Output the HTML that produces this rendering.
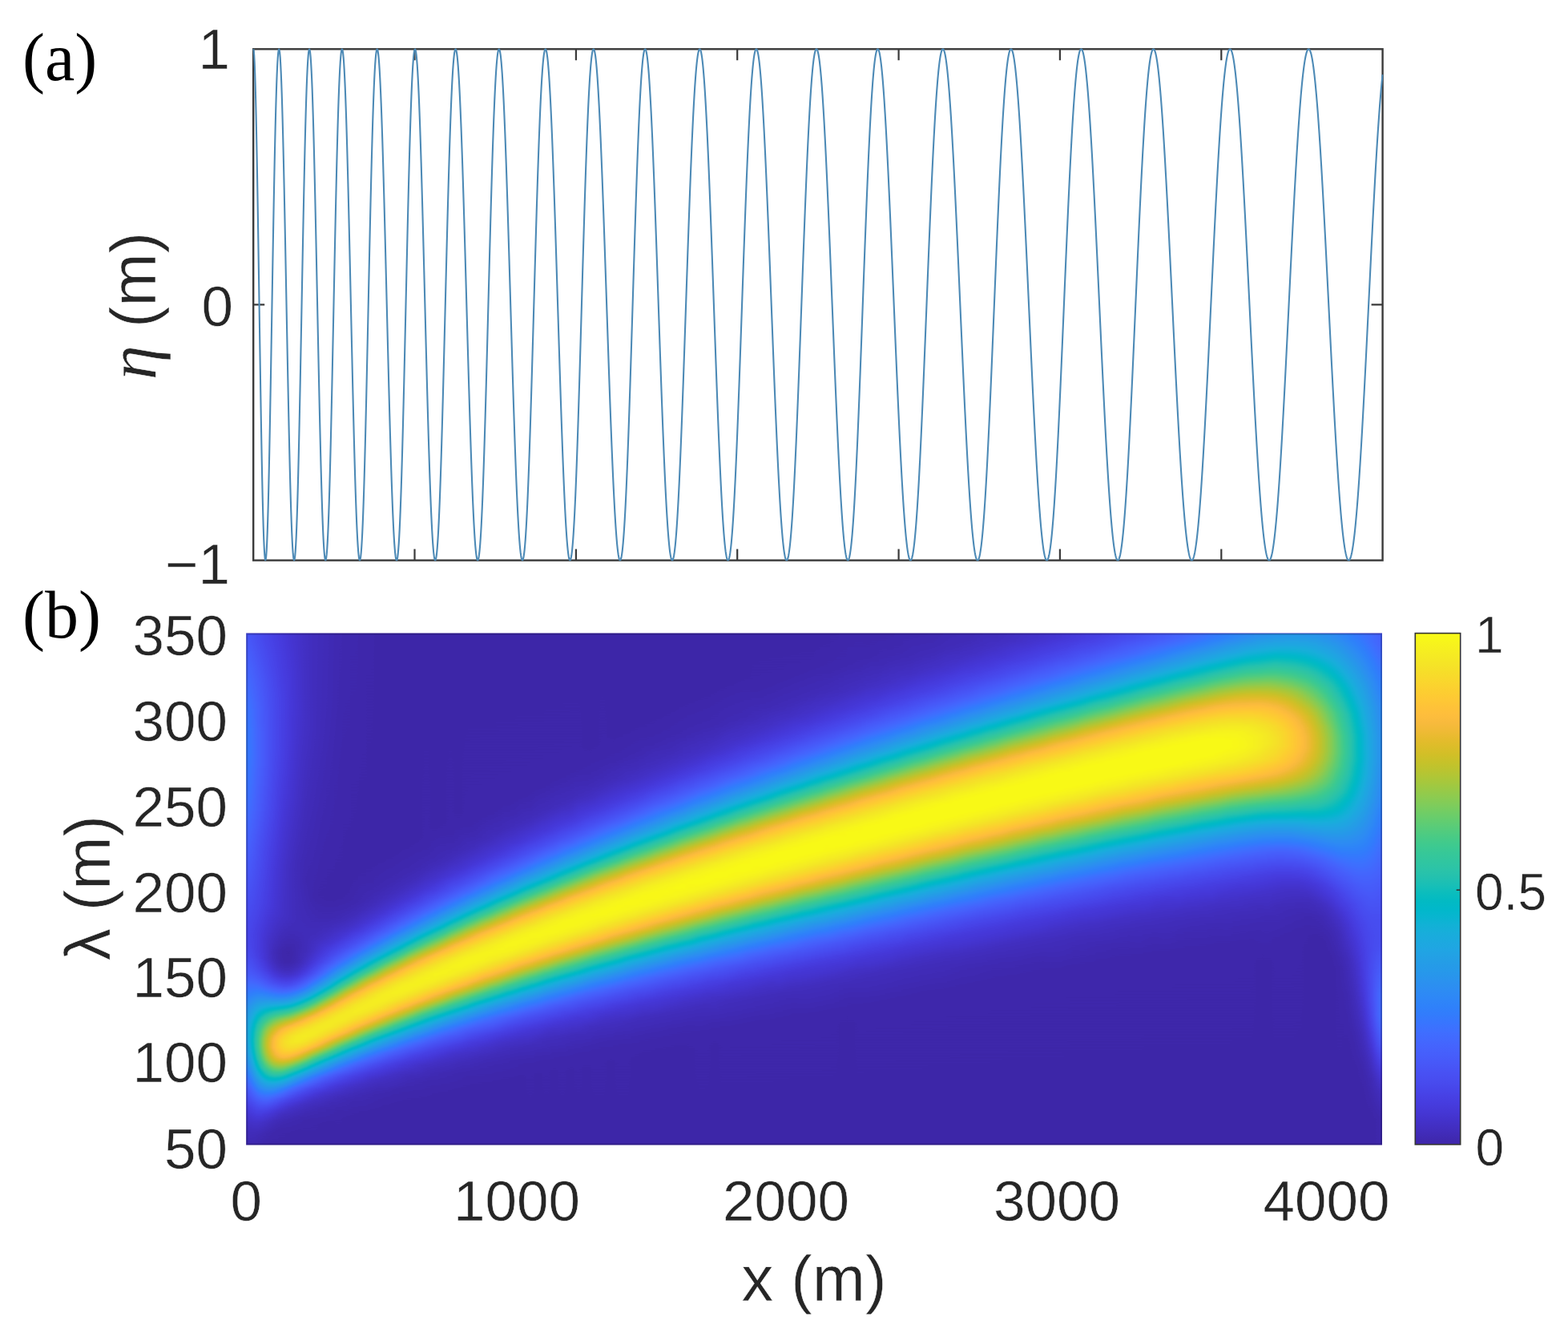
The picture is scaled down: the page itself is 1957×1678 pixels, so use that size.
<!DOCTYPE html>
<html lang="en"><head><meta charset="utf-8"><title>Chirp signal and wavelength scalogram</title>
<style>
html,body{margin:0;padding:0;background:#fff}
body{width:1957px;height:1678px;overflow:hidden}
svg{display:block}
text{fill:#262626;stroke:#fff;stroke-width:0.5px;stroke-linejoin:round}
</style></head><body>
<svg width="1957" height="1678" viewBox="0 0 1957 1678">
<defs>
<linearGradient id="c48" x1="0" y1="0" x2="0" y2="1"><stop offset="0" stop-color="#292929"/><stop offset=".141" stop-color="#3f3f3f"/><stop offset=".204" stop-color="#444444"/><stop offset=".254" stop-color="#444444"/><stop offset=".342" stop-color="#3d3d3d"/><stop offset=".53" stop-color="#232323"/><stop offset=".567" stop-color="#1f1f1f"/><stop offset=".605" stop-color="#1e1e1e"/><stop offset=".636" stop-color="#222222"/><stop offset=".665" stop-color="#2b2b2b"/><stop offset=".737" stop-color="#4f4f4f"/><stop offset=".762" stop-color="#575757"/><stop offset=".79" stop-color="#585858"/><stop offset=".815" stop-color="#515151"/><stop offset=".834" stop-color="#484848"/><stop offset=".897" stop-color="#202020"/><stop offset=".928" stop-color="#111111"/><stop offset=".953" stop-color="#090909"/><stop offset=".972" stop-color="#050505"/><stop offset="1" stop-color="#020202"/></linearGradient>
<linearGradient id="c49" x1="0" y1="0" x2="0" y2="1"><stop offset="0" stop-color="#292929"/><stop offset=".141" stop-color="#3f3f3f"/><stop offset=".204" stop-color="#444444"/><stop offset=".254" stop-color="#444444"/><stop offset=".342" stop-color="#3d3d3d"/><stop offset=".53" stop-color="#232323"/><stop offset=".567" stop-color="#1f1f1f"/><stop offset=".605" stop-color="#1e1e1e"/><stop offset=".636" stop-color="#222222"/><stop offset=".665" stop-color="#2b2b2b"/><stop offset=".737" stop-color="#4f4f4f"/><stop offset=".762" stop-color="#575757"/><stop offset=".79" stop-color="#585858"/><stop offset=".815" stop-color="#515151"/><stop offset=".834" stop-color="#484848"/><stop offset=".897" stop-color="#202020"/><stop offset=".928" stop-color="#111111"/><stop offset=".953" stop-color="#090909"/><stop offset=".972" stop-color="#050505"/><stop offset="1" stop-color="#020202"/></linearGradient>
<linearGradient id="c50" x1="0" y1="0" x2="0" y2="1"><stop offset="0" stop-color="#262626"/><stop offset=".078" stop-color="#323232"/><stop offset=".144" stop-color="#3a3a3a"/><stop offset=".185" stop-color="#3d3d3d"/><stop offset=".235" stop-color="#3e3e3e"/><stop offset=".313" stop-color="#3a3a3a"/><stop offset=".561" stop-color="#1d1d1d"/><stop offset=".592" stop-color="#1b1b1b"/><stop offset=".614" stop-color="#1c1c1c"/><stop offset=".633" stop-color="#1f1f1f"/><stop offset=".665" stop-color="#2a2a2a"/><stop offset=".699" stop-color="#3f3f3f"/><stop offset=".73" stop-color="#565656"/><stop offset=".759" stop-color="#666666"/><stop offset=".774" stop-color="#6b6b6b"/><stop offset=".796" stop-color="#6c6c6c"/><stop offset=".812" stop-color="#686868"/><stop offset=".824" stop-color="#626262"/><stop offset=".843" stop-color="#565656"/><stop offset=".893" stop-color="#2d2d2d"/><stop offset=".925" stop-color="#181818"/><stop offset=".944" stop-color="#0f0f0f"/><stop offset=".966" stop-color="#080808"/><stop offset="1" stop-color="#030303"/></linearGradient>
<linearGradient id="c51" x1="0" y1="0" x2="0" y2="1"><stop offset="0" stop-color="#212121"/><stop offset=".009" stop-color="#212121"/><stop offset=".088" stop-color="#2b2b2b"/><stop offset=".147" stop-color="#303030"/><stop offset=".241" stop-color="#323232"/><stop offset=".345" stop-color="#2c2c2c"/><stop offset=".42" stop-color="#242424"/><stop offset=".536" stop-color="#1b1b1b"/><stop offset=".586" stop-color="#151515"/><stop offset=".621" stop-color="#151515"/><stop offset=".633" stop-color="#171717"/><stop offset=".652" stop-color="#1d1d1d"/><stop offset=".674" stop-color="#2a2a2a"/><stop offset=".702" stop-color="#444444"/><stop offset=".746" stop-color="#767676"/><stop offset=".765" stop-color="#888888"/><stop offset=".781" stop-color="#929292"/><stop offset=".793" stop-color="#969696"/><stop offset=".806" stop-color="#969696"/><stop offset=".818" stop-color="#929292"/><stop offset=".831" stop-color="#8a8a8a"/><stop offset=".85" stop-color="#787878"/><stop offset=".9" stop-color="#3a3a3a"/><stop offset=".915" stop-color="#292929"/><stop offset=".934" stop-color="#191919"/><stop offset=".956" stop-color="#0c0c0c"/><stop offset=".981" stop-color="#040404"/><stop offset="1" stop-color="#020202"/></linearGradient>
<linearGradient id="c52" x1="0" y1="0" x2="0" y2="1"><stop offset="0" stop-color="#1c1c1c"/><stop offset=".013" stop-color="#1c1c1c"/><stop offset=".097" stop-color="#242424"/><stop offset=".154" stop-color="#272727"/><stop offset=".26" stop-color="#272727"/><stop offset=".335" stop-color="#232323"/><stop offset=".429" stop-color="#1b1b1b"/><stop offset=".527" stop-color="#161616"/><stop offset=".602" stop-color="#0d0d0d"/><stop offset=".636" stop-color="#0e0e0e"/><stop offset=".658" stop-color="#161616"/><stop offset=".674" stop-color="#212121"/><stop offset=".687" stop-color="#2d2d2d"/><stop offset=".712" stop-color="#4e4e4e"/><stop offset=".752" stop-color="#909090"/><stop offset=".771" stop-color="#a9a9a9"/><stop offset=".777" stop-color="#b0b0b0"/><stop offset=".79" stop-color="#b9b9b9"/><stop offset=".796" stop-color="#bcbcbc"/><stop offset=".806" stop-color="#bdbdbd"/><stop offset=".818" stop-color="#b9b9b9"/><stop offset=".824" stop-color="#b5b5b5"/><stop offset=".834" stop-color="#acacac"/><stop offset=".846" stop-color="#9c9c9c"/><stop offset=".862" stop-color="#838383"/><stop offset=".884" stop-color="#5c5c5c"/><stop offset=".903" stop-color="#3d3d3d"/><stop offset=".928" stop-color="#1d1d1d"/><stop offset=".94" stop-color="#121212"/><stop offset=".956" stop-color="#090909"/><stop offset=".975" stop-color="#030303"/><stop offset="1" stop-color="#000000"/></linearGradient>
<linearGradient id="c53" x1="0" y1="0" x2="0" y2="1"><stop offset="0" stop-color="#171717"/><stop offset=".119" stop-color="#1e1e1e"/><stop offset=".223" stop-color="#1f1f1f"/><stop offset=".345" stop-color="#1a1a1a"/><stop offset=".464" stop-color="#121212"/><stop offset=".536" stop-color="#101010"/><stop offset=".624" stop-color="#050505"/><stop offset=".643" stop-color="#070707"/><stop offset=".655" stop-color="#0b0b0b"/><stop offset=".665" stop-color="#111111"/><stop offset=".671" stop-color="#151515"/><stop offset=".683" stop-color="#212121"/><stop offset=".699" stop-color="#363636"/><stop offset=".715" stop-color="#515151"/><stop offset=".755" stop-color="#a4a4a4"/><stop offset=".771" stop-color="#bfbfbf"/><stop offset=".787" stop-color="#d2d2d2"/><stop offset=".796" stop-color="#d8d8d8"/><stop offset=".809" stop-color="#d9d9d9"/><stop offset=".824" stop-color="#cfcfcf"/><stop offset=".834" stop-color="#c3c3c3"/><stop offset=".843" stop-color="#b4b4b4"/><stop offset=".862" stop-color="#8e8e8e"/><stop offset=".884" stop-color="#5d5d5d"/><stop offset=".9" stop-color="#3e3e3e"/><stop offset=".912" stop-color="#2a2a2a"/><stop offset=".925" stop-color="#1a1a1a"/><stop offset=".934" stop-color="#111111"/><stop offset=".953" stop-color="#060606"/><stop offset=".975" stop-color="#010101"/><stop offset="1" stop-color="#000000"/></linearGradient>
<linearGradient id="c54" x1="0" y1="0" x2="0" y2="1"><stop offset="0" stop-color="#131313"/><stop offset=".138" stop-color="#181818"/><stop offset=".248" stop-color="#171717"/><stop offset=".448" stop-color="#0d0d0d"/><stop offset=".552" stop-color="#0b0b0b"/><stop offset=".621" stop-color="#010101"/><stop offset=".639" stop-color="#010101"/><stop offset=".649" stop-color="#030303"/><stop offset=".658" stop-color="#070707"/><stop offset=".671" stop-color="#0f0f0f"/><stop offset=".68" stop-color="#181818"/><stop offset=".69" stop-color="#242424"/><stop offset=".702" stop-color="#383838"/><stop offset=".712" stop-color="#4a4a4a"/><stop offset=".73" stop-color="#747474"/><stop offset=".752" stop-color="#a9a9a9"/><stop offset=".771" stop-color="#cfcfcf"/><stop offset=".777" stop-color="#d9d9d9"/><stop offset=".787" stop-color="#e4e4e4"/><stop offset=".796" stop-color="#eaeaea"/><stop offset=".806" stop-color="#eaeaea"/><stop offset=".818" stop-color="#e2e2e2"/><stop offset=".828" stop-color="#d6d6d6"/><stop offset=".834" stop-color="#cbcbcb"/><stop offset=".85" stop-color="#a9a9a9"/><stop offset=".875" stop-color="#6a6a6a"/><stop offset=".89" stop-color="#464646"/><stop offset=".9" stop-color="#343434"/><stop offset=".909" stop-color="#252525"/><stop offset=".918" stop-color="#191919"/><stop offset=".928" stop-color="#101010"/><stop offset=".94" stop-color="#080808"/><stop offset=".956" stop-color="#030303"/><stop offset=".969" stop-color="#010101"/><stop offset="1" stop-color="#000000"/></linearGradient>
<linearGradient id="c55" x1="0" y1="0" x2="0" y2="1"><stop offset="0" stop-color="#0f0f0f"/><stop offset=".088" stop-color="#121212"/><stop offset=".204" stop-color="#121212"/><stop offset=".31" stop-color="#0f0f0f"/><stop offset=".461" stop-color="#080808"/><stop offset=".558" stop-color="#080808"/><stop offset=".624" stop-color="#000000"/><stop offset=".643" stop-color="#010101"/><stop offset=".658" stop-color="#060606"/><stop offset=".668" stop-color="#0c0c0c"/><stop offset=".68" stop-color="#181818"/><stop offset=".687" stop-color="#202020"/><stop offset=".696" stop-color="#2f2f2f"/><stop offset=".708" stop-color="#474747"/><stop offset=".721" stop-color="#646464"/><stop offset=".759" stop-color="#c3c3c3"/><stop offset=".771" stop-color="#dcdcdc"/><stop offset=".781" stop-color="#e9e9e9"/><stop offset=".787" stop-color="#efefef"/><stop offset=".799" stop-color="#f3f3f3"/><stop offset=".809" stop-color="#eeeeee"/><stop offset=".815" stop-color="#e8e8e8"/><stop offset=".821" stop-color="#dfdfdf"/><stop offset=".831" stop-color="#cdcdcd"/><stop offset=".837" stop-color="#bfbfbf"/><stop offset=".846" stop-color="#a7a7a7"/><stop offset=".862" stop-color="#7c7c7c"/><stop offset=".878" stop-color="#545454"/><stop offset=".887" stop-color="#3f3f3f"/><stop offset=".893" stop-color="#333333"/><stop offset=".903" stop-color="#242424"/><stop offset=".912" stop-color="#181818"/><stop offset=".928" stop-color="#0b0b0b"/><stop offset=".95" stop-color="#030303"/><stop offset=".978" stop-color="#000000"/><stop offset="1" stop-color="#000000"/></linearGradient>
<linearGradient id="c56" x1="0" y1="0" x2="0" y2="1"><stop offset="0" stop-color="#0c0c0c"/><stop offset=".144" stop-color="#0e0e0e"/><stop offset=".329" stop-color="#0a0a0a"/><stop offset=".451" stop-color="#050505"/><stop offset=".577" stop-color="#060606"/><stop offset=".608" stop-color="#030303"/><stop offset=".643" stop-color="#040404"/><stop offset=".655" stop-color="#090909"/><stop offset=".668" stop-color="#111111"/><stop offset=".674" stop-color="#171717"/><stop offset=".683" stop-color="#232323"/><stop offset=".693" stop-color="#323232"/><stop offset=".708" stop-color="#515151"/><stop offset=".727" stop-color="#808080"/><stop offset=".749" stop-color="#bababa"/><stop offset=".762" stop-color="#d6d6d6"/><stop offset=".771" stop-color="#e6e6e6"/><stop offset=".777" stop-color="#eeeeee"/><stop offset=".787" stop-color="#f5f5f5"/><stop offset=".793" stop-color="#f6f6f6"/><stop offset=".799" stop-color="#f4f4f4"/><stop offset=".809" stop-color="#ebebeb"/><stop offset=".821" stop-color="#d6d6d6"/><stop offset=".828" stop-color="#c8c8c8"/><stop offset=".84" stop-color="#a8a8a8"/><stop offset=".856" stop-color="#7c7c7c"/><stop offset=".871" stop-color="#535353"/><stop offset=".881" stop-color="#3e3e3e"/><stop offset=".887" stop-color="#323232"/><stop offset=".897" stop-color="#232323"/><stop offset=".903" stop-color="#1b1b1b"/><stop offset=".922" stop-color="#0b0b0b"/><stop offset=".944" stop-color="#030303"/><stop offset=".975" stop-color="#000000"/><stop offset="1" stop-color="#000000"/></linearGradient>
<linearGradient id="c57" x1="0" y1="0" x2="0" y2="1"><stop offset="0" stop-color="#090909"/><stop offset=".179" stop-color="#0a0a0a"/><stop offset=".483" stop-color="#020202"/><stop offset=".583" stop-color="#060606"/><stop offset=".621" stop-color="#060606"/><stop offset=".633" stop-color="#080808"/><stop offset=".646" stop-color="#0c0c0c"/><stop offset=".658" stop-color="#131313"/><stop offset=".665" stop-color="#181818"/><stop offset=".68" stop-color="#2b2b2b"/><stop offset=".69" stop-color="#3a3a3a"/><stop offset=".699" stop-color="#4c4c4c"/><stop offset=".708" stop-color="#616161"/><stop offset=".743" stop-color="#bababa"/><stop offset=".752" stop-color="#d0d0d0"/><stop offset=".762" stop-color="#e2e2e2"/><stop offset=".774" stop-color="#f2f2f2"/><stop offset=".787" stop-color="#f6f6f6"/><stop offset=".796" stop-color="#f2f2f2"/><stop offset=".803" stop-color="#ebebeb"/><stop offset=".815" stop-color="#d5d5d5"/><stop offset=".821" stop-color="#c7c7c7"/><stop offset=".831" stop-color="#afafaf"/><stop offset=".853" stop-color="#727272"/><stop offset=".865" stop-color="#525252"/><stop offset=".871" stop-color="#444444"/><stop offset=".881" stop-color="#323232"/><stop offset=".89" stop-color="#232323"/><stop offset=".897" stop-color="#1b1b1b"/><stop offset=".906" stop-color="#121212"/><stop offset=".918" stop-color="#0a0a0a"/><stop offset=".934" stop-color="#040404"/><stop offset=".953" stop-color="#010101"/><stop offset="1" stop-color="#000000"/></linearGradient>
<linearGradient id="c58" x1="0" y1="0" x2="0" y2="1"><stop offset="0" stop-color="#070707"/><stop offset=".194" stop-color="#070707"/><stop offset=".517" stop-color="#010101"/><stop offset=".586" stop-color="#060606"/><stop offset=".621" stop-color="#0b0b0b"/><stop offset=".636" stop-color="#101010"/><stop offset=".649" stop-color="#171717"/><stop offset=".665" stop-color="#252525"/><stop offset=".674" stop-color="#313131"/><stop offset=".683" stop-color="#404040"/><stop offset=".699" stop-color="#5f5f5f"/><stop offset=".708" stop-color="#757575"/><stop offset=".74" stop-color="#c4c4c4"/><stop offset=".752" stop-color="#dedede"/><stop offset=".762" stop-color="#ececec"/><stop offset=".768" stop-color="#f2f2f2"/><stop offset=".781" stop-color="#f6f6f6"/><stop offset=".787" stop-color="#f3f3f3"/><stop offset=".793" stop-color="#ededed"/><stop offset=".799" stop-color="#e5e5e5"/><stop offset=".806" stop-color="#dadada"/><stop offset=".815" stop-color="#c5c5c5"/><stop offset=".824" stop-color="#adadad"/><stop offset=".84" stop-color="#818181"/><stop offset=".856" stop-color="#585858"/><stop offset=".865" stop-color="#434343"/><stop offset=".875" stop-color="#313131"/><stop offset=".89" stop-color="#1b1b1b"/><stop offset=".9" stop-color="#121212"/><stop offset=".912" stop-color="#0a0a0a"/><stop offset=".925" stop-color="#050505"/><stop offset=".95" stop-color="#010101"/><stop offset="1" stop-color="#000000"/></linearGradient>
<linearGradient id="c59" x1="0" y1="0" x2="0" y2="1"><stop offset="0" stop-color="#060606"/><stop offset=".191" stop-color="#050505"/><stop offset=".511" stop-color="#000000"/><stop offset=".555" stop-color="#030303"/><stop offset=".596" stop-color="#090909"/><stop offset=".63" stop-color="#151515"/><stop offset=".643" stop-color="#1d1d1d"/><stop offset=".658" stop-color="#2c2c2c"/><stop offset=".665" stop-color="#343434"/><stop offset=".674" stop-color="#424242"/><stop offset=".687" stop-color="#595959"/><stop offset=".702" stop-color="#7c7c7c"/><stop offset=".73" stop-color="#c1c1c1"/><stop offset=".743" stop-color="#dbdbdb"/><stop offset=".755" stop-color="#ededed"/><stop offset=".762" stop-color="#f3f3f3"/><stop offset=".771" stop-color="#f6f6f6"/><stop offset=".777" stop-color="#f4f4f4"/><stop offset=".787" stop-color="#ececec"/><stop offset=".793" stop-color="#e3e3e3"/><stop offset=".803" stop-color="#d1d1d1"/><stop offset=".809" stop-color="#c3c3c3"/><stop offset=".818" stop-color="#ababab"/><stop offset=".837" stop-color="#777777"/><stop offset=".853" stop-color="#505050"/><stop offset=".868" stop-color="#313131"/><stop offset=".881" stop-color="#1f1f1f"/><stop offset=".897" stop-color="#101010"/><stop offset=".903" stop-color="#0c0c0c"/><stop offset=".928" stop-color="#030303"/><stop offset=".962" stop-color="#000000"/><stop offset="1" stop-color="#000000"/></linearGradient>
<linearGradient id="c60" x1="0" y1="0" x2="0" y2="1"><stop offset="0" stop-color="#040404"/><stop offset=".138" stop-color="#040404"/><stop offset=".52" stop-color="#000000"/><stop offset=".555" stop-color="#030303"/><stop offset=".586" stop-color="#090909"/><stop offset=".605" stop-color="#0f0f0f"/><stop offset=".63" stop-color="#1d1d1d"/><stop offset=".643" stop-color="#282828"/><stop offset=".658" stop-color="#3b3b3b"/><stop offset=".671" stop-color="#4f4f4f"/><stop offset=".687" stop-color="#6e6e6e"/><stop offset=".718" stop-color="#b8b8b8"/><stop offset=".734" stop-color="#d9d9d9"/><stop offset=".743" stop-color="#e8e8e8"/><stop offset=".749" stop-color="#efefef"/><stop offset=".759" stop-color="#f5f5f5"/><stop offset=".768" stop-color="#f5f5f5"/><stop offset=".777" stop-color="#eeeeee"/><stop offset=".784" stop-color="#e6e6e6"/><stop offset=".796" stop-color="#cfcfcf"/><stop offset=".809" stop-color="#b1b1b1"/><stop offset=".828" stop-color="#7e7e7e"/><stop offset=".84" stop-color="#5e5e5e"/><stop offset=".85" stop-color="#494949"/><stop offset=".859" stop-color="#373737"/><stop offset=".868" stop-color="#282828"/><stop offset=".878" stop-color="#1c1c1c"/><stop offset=".887" stop-color="#131313"/><stop offset=".9" stop-color="#0b0b0b"/><stop offset=".918" stop-color="#040404"/><stop offset=".956" stop-color="#000000"/><stop offset="1" stop-color="#000000"/></linearGradient>
<linearGradient id="c61" x1="0" y1="0" x2="0" y2="1"><stop offset="0" stop-color="#030303"/><stop offset=".517" stop-color="#000000"/><stop offset=".558" stop-color="#040404"/><stop offset=".596" stop-color="#0f0f0f"/><stop offset=".624" stop-color="#212121"/><stop offset=".636" stop-color="#2d2d2d"/><stop offset=".649" stop-color="#3d3d3d"/><stop offset=".661" stop-color="#515151"/><stop offset=".671" stop-color="#626262"/><stop offset=".718" stop-color="#cbcbcb"/><stop offset=".724" stop-color="#d7d7d7"/><stop offset=".734" stop-color="#e6e6e6"/><stop offset=".74" stop-color="#eeeeee"/><stop offset=".746" stop-color="#f3f3f3"/><stop offset=".755" stop-color="#f6f6f6"/><stop offset=".768" stop-color="#f0f0f0"/><stop offset=".774" stop-color="#e9e9e9"/><stop offset=".781" stop-color="#dfdfdf"/><stop offset=".79" stop-color="#cdcdcd"/><stop offset=".799" stop-color="#b7b7b7"/><stop offset=".831" stop-color="#656565"/><stop offset=".843" stop-color="#494949"/><stop offset=".853" stop-color="#373737"/><stop offset=".862" stop-color="#282828"/><stop offset=".868" stop-color="#202020"/><stop offset=".884" stop-color="#111111"/><stop offset=".906" stop-color="#060606"/><stop offset=".934" stop-color="#010101"/><stop offset="1" stop-color="#000000"/></linearGradient>
<linearGradient id="c62" x1="0" y1="0" x2="0" y2="1"><stop offset="0" stop-color="#020202"/><stop offset=".505" stop-color="#000000"/><stop offset=".536" stop-color="#020202"/><stop offset=".564" stop-color="#070707"/><stop offset=".58" stop-color="#0c0c0c"/><stop offset=".592" stop-color="#121212"/><stop offset=".614" stop-color="#212121"/><stop offset=".633" stop-color="#353535"/><stop offset=".643" stop-color="#424242"/><stop offset=".655" stop-color="#575757"/><stop offset=".668" stop-color="#6f6f6f"/><stop offset=".705" stop-color="#c3c3c3"/><stop offset=".718" stop-color="#dbdbdb"/><stop offset=".724" stop-color="#e5e5e5"/><stop offset=".734" stop-color="#f0f0f0"/><stop offset=".74" stop-color="#f4f4f4"/><stop offset=".749" stop-color="#f6f6f6"/><stop offset=".755" stop-color="#f4f4f4"/><stop offset=".762" stop-color="#efefef"/><stop offset=".774" stop-color="#dedede"/><stop offset=".781" stop-color="#d2d2d2"/><stop offset=".79" stop-color="#bdbdbd"/><stop offset=".818" stop-color="#747474"/><stop offset=".837" stop-color="#494949"/><stop offset=".85" stop-color="#323232"/><stop offset=".865" stop-color="#1d1d1d"/><stop offset=".878" stop-color="#121212"/><stop offset=".887" stop-color="#0c0c0c"/><stop offset=".909" stop-color="#040404"/><stop offset=".95" stop-color="#000000"/><stop offset="1" stop-color="#000000"/></linearGradient>
<linearGradient id="c63" x1="0" y1="0" x2="0" y2="1"><stop offset="0" stop-color="#020202"/><stop offset=".476" stop-color="#000000"/><stop offset=".527" stop-color="#020202"/><stop offset=".552" stop-color="#060606"/><stop offset=".574" stop-color="#0d0d0d"/><stop offset=".605" stop-color="#212121"/><stop offset=".618" stop-color="#2e2e2e"/><stop offset=".633" stop-color="#424242"/><stop offset=".646" stop-color="#575757"/><stop offset=".661" stop-color="#757575"/><stop offset=".69" stop-color="#b4b4b4"/><stop offset=".705" stop-color="#d4d4d4"/><stop offset=".718" stop-color="#e8e8e8"/><stop offset=".727" stop-color="#f2f2f2"/><stop offset=".737" stop-color="#f6f6f6"/><stop offset=".743" stop-color="#f6f6f6"/><stop offset=".755" stop-color="#eeeeee"/><stop offset=".768" stop-color="#dcdcdc"/><stop offset=".781" stop-color="#c3c3c3"/><stop offset=".815" stop-color="#6c6c6c"/><stop offset=".828" stop-color="#505050"/><stop offset=".84" stop-color="#383838"/><stop offset=".846" stop-color="#2e2e2e"/><stop offset=".859" stop-color="#1e1e1e"/><stop offset=".868" stop-color="#151515"/><stop offset=".884" stop-color="#0b0b0b"/><stop offset=".9" stop-color="#050505"/><stop offset=".915" stop-color="#020202"/><stop offset=".944" stop-color="#000000"/><stop offset="1" stop-color="#000000"/></linearGradient>
<linearGradient id="c64" x1="0" y1="0" x2="0" y2="1"><stop offset="0" stop-color="#010101"/><stop offset=".455" stop-color="#000000"/><stop offset=".524" stop-color="#030303"/><stop offset=".542" stop-color="#060606"/><stop offset=".564" stop-color="#0d0d0d"/><stop offset=".58" stop-color="#151515"/><stop offset=".592" stop-color="#1e1e1e"/><stop offset=".605" stop-color="#2a2a2a"/><stop offset=".618" stop-color="#393939"/><stop offset=".636" stop-color="#565656"/><stop offset=".652" stop-color="#747474"/><stop offset=".683" stop-color="#b9b9b9"/><stop offset=".702" stop-color="#dddddd"/><stop offset=".718" stop-color="#f1f1f1"/><stop offset=".724" stop-color="#f5f5f5"/><stop offset=".734" stop-color="#f7f7f7"/><stop offset=".743" stop-color="#f3f3f3"/><stop offset=".752" stop-color="#eaeaea"/><stop offset=".762" stop-color="#dbdbdb"/><stop offset=".774" stop-color="#c2c2c2"/><stop offset=".806" stop-color="#747474"/><stop offset=".824" stop-color="#4a4a4a"/><stop offset=".831" stop-color="#3e3e3e"/><stop offset=".84" stop-color="#2f2f2f"/><stop offset=".853" stop-color="#1f1f1f"/><stop offset=".862" stop-color="#161616"/><stop offset=".881" stop-color="#0a0a0a"/><stop offset=".9" stop-color="#040404"/><stop offset=".94" stop-color="#000000"/><stop offset="1" stop-color="#000000"/></linearGradient>
<linearGradient id="c65" x1="0" y1="0" x2="0" y2="1"><stop offset="0" stop-color="#010101"/><stop offset=".448" stop-color="#000000"/><stop offset=".486" stop-color="#010101"/><stop offset=".52" stop-color="#040404"/><stop offset=".536" stop-color="#070707"/><stop offset=".555" stop-color="#0d0d0d"/><stop offset=".567" stop-color="#131313"/><stop offset=".583" stop-color="#1e1e1e"/><stop offset=".599" stop-color="#2d2d2d"/><stop offset=".614" stop-color="#414141"/><stop offset=".627" stop-color="#555555"/><stop offset=".636" stop-color="#666666"/><stop offset=".655" stop-color="#8d8d8d"/><stop offset=".671" stop-color="#b0b0b0"/><stop offset=".683" stop-color="#cacaca"/><stop offset=".693" stop-color="#dbdbdb"/><stop offset=".702" stop-color="#e9e9e9"/><stop offset=".712" stop-color="#f2f2f2"/><stop offset=".718" stop-color="#f6f6f6"/><stop offset=".727" stop-color="#f7f7f7"/><stop offset=".737" stop-color="#f3f3f3"/><stop offset=".743" stop-color="#ededed"/><stop offset=".752" stop-color="#e0e0e0"/><stop offset=".765" stop-color="#c8c8c8"/><stop offset=".771" stop-color="#bababa"/><stop offset=".799" stop-color="#747474"/><stop offset=".815" stop-color="#515151"/><stop offset=".824" stop-color="#3f3f3f"/><stop offset=".834" stop-color="#303030"/><stop offset=".846" stop-color="#202020"/><stop offset=".859" stop-color="#141414"/><stop offset=".871" stop-color="#0c0c0c"/><stop offset=".881" stop-color="#080808"/><stop offset=".9" stop-color="#030303"/><stop offset=".937" stop-color="#000000"/><stop offset="1" stop-color="#000000"/></linearGradient>
<linearGradient id="c66" x1="0" y1="0" x2="0" y2="1"><stop offset="0" stop-color="#000000"/><stop offset=".442" stop-color="#000000"/><stop offset=".502" stop-color="#030303"/><stop offset=".53" stop-color="#080808"/><stop offset=".545" stop-color="#0d0d0d"/><stop offset=".558" stop-color="#131313"/><stop offset=".577" stop-color="#202020"/><stop offset=".592" stop-color="#303030"/><stop offset=".605" stop-color="#404040"/><stop offset=".621" stop-color="#595959"/><stop offset=".636" stop-color="#777777"/><stop offset=".671" stop-color="#c1c1c1"/><stop offset=".687" stop-color="#dedede"/><stop offset=".696" stop-color="#ebebeb"/><stop offset=".705" stop-color="#f4f4f4"/><stop offset=".718" stop-color="#f8f8f8"/><stop offset=".727" stop-color="#f5f5f5"/><stop offset=".734" stop-color="#f0f0f0"/><stop offset=".746" stop-color="#dfdfdf"/><stop offset=".759" stop-color="#c7c7c7"/><stop offset=".768" stop-color="#b2b2b2"/><stop offset=".796" stop-color="#6d6d6d"/><stop offset=".809" stop-color="#525252"/><stop offset=".818" stop-color="#404040"/><stop offset=".828" stop-color="#313131"/><stop offset=".84" stop-color="#212121"/><stop offset=".853" stop-color="#151515"/><stop offset=".871" stop-color="#0a0a0a"/><stop offset=".89" stop-color="#040404"/><stop offset=".903" stop-color="#020202"/><stop offset=".934" stop-color="#000000"/><stop offset="1" stop-color="#000000"/></linearGradient>
<linearGradient id="c67" x1="0" y1="0" x2="0" y2="1"><stop offset="0" stop-color="#000000"/><stop offset=".436" stop-color="#000000"/><stop offset=".492" stop-color="#030303"/><stop offset=".52" stop-color="#080808"/><stop offset=".536" stop-color="#0d0d0d"/><stop offset=".549" stop-color="#131313"/><stop offset=".567" stop-color="#202020"/><stop offset=".583" stop-color="#2f2f2f"/><stop offset=".596" stop-color="#3f3f3f"/><stop offset=".614" stop-color="#5d5d5d"/><stop offset=".627" stop-color="#757575"/><stop offset=".658" stop-color="#b8b8b8"/><stop offset=".674" stop-color="#d6d6d6"/><stop offset=".683" stop-color="#e5e5e5"/><stop offset=".693" stop-color="#f0f0f0"/><stop offset=".699" stop-color="#f5f5f5"/><stop offset=".708" stop-color="#f8f8f8"/><stop offset=".718" stop-color="#f6f6f6"/><stop offset=".724" stop-color="#f2f2f2"/><stop offset=".734" stop-color="#e8e8e8"/><stop offset=".743" stop-color="#d9d9d9"/><stop offset=".752" stop-color="#c7c7c7"/><stop offset=".762" stop-color="#b2b2b2"/><stop offset=".787" stop-color="#757575"/><stop offset=".796" stop-color="#606060"/><stop offset=".809" stop-color="#474747"/><stop offset=".821" stop-color="#323232"/><stop offset=".834" stop-color="#222222"/><stop offset=".846" stop-color="#161616"/><stop offset=".868" stop-color="#090909"/><stop offset=".9" stop-color="#020202"/><stop offset=".928" stop-color="#000000"/><stop offset="1" stop-color="#000000"/></linearGradient>
<linearGradient id="c68" x1="0" y1="0" x2="0" y2="1"><stop offset="0" stop-color="#000000"/><stop offset=".426" stop-color="#000000"/><stop offset=".483" stop-color="#030303"/><stop offset=".511" stop-color="#080808"/><stop offset=".527" stop-color="#0d0d0d"/><stop offset=".539" stop-color="#131313"/><stop offset=".561" stop-color="#222222"/><stop offset=".577" stop-color="#323232"/><stop offset=".586" stop-color="#3e3e3e"/><stop offset=".608" stop-color="#616161"/><stop offset=".621" stop-color="#797979"/><stop offset=".649" stop-color="#b5b5b5"/><stop offset=".665" stop-color="#d3d3d3"/><stop offset=".677" stop-color="#e7e7e7"/><stop offset=".683" stop-color="#eeeeee"/><stop offset=".69" stop-color="#f4f4f4"/><stop offset=".699" stop-color="#f8f8f8"/><stop offset=".705" stop-color="#f8f8f8"/><stop offset=".718" stop-color="#f2f2f2"/><stop offset=".73" stop-color="#e3e3e3"/><stop offset=".737" stop-color="#d9d9d9"/><stop offset=".749" stop-color="#c0c0c0"/><stop offset=".781" stop-color="#767676"/><stop offset=".79" stop-color="#616161"/><stop offset=".803" stop-color="#484848"/><stop offset=".818" stop-color="#2f2f2f"/><stop offset=".828" stop-color="#232323"/><stop offset=".84" stop-color="#171717"/><stop offset=".862" stop-color="#0a0a0a"/><stop offset=".893" stop-color="#020202"/><stop offset=".925" stop-color="#000000"/><stop offset="1" stop-color="#000000"/></linearGradient>
<linearGradient id="c69" x1="0" y1="0" x2="0" y2="1"><stop offset="0" stop-color="#000000"/><stop offset=".417" stop-color="#000000"/><stop offset=".473" stop-color="#030303"/><stop offset=".502" stop-color="#080808"/><stop offset=".517" stop-color="#0d0d0d"/><stop offset=".536" stop-color="#161616"/><stop offset=".549" stop-color="#1f1f1f"/><stop offset=".567" stop-color="#313131"/><stop offset=".58" stop-color="#414141"/><stop offset=".599" stop-color="#5f5f5f"/><stop offset=".618" stop-color="#838383"/><stop offset=".643" stop-color="#b8b8b8"/><stop offset=".661" stop-color="#dbdbdb"/><stop offset=".674" stop-color="#ececec"/><stop offset=".683" stop-color="#f5f5f5"/><stop offset=".693" stop-color="#f9f9f9"/><stop offset=".702" stop-color="#f8f8f8"/><stop offset=".712" stop-color="#f2f2f2"/><stop offset=".727" stop-color="#dedede"/><stop offset=".743" stop-color="#c0c0c0"/><stop offset=".781" stop-color="#696969"/><stop offset=".799" stop-color="#444444"/><stop offset=".815" stop-color="#2c2c2c"/><stop offset=".834" stop-color="#181818"/><stop offset=".843" stop-color="#111111"/><stop offset=".862" stop-color="#080808"/><stop offset=".89" stop-color="#020202"/><stop offset=".922" stop-color="#000000"/><stop offset="1" stop-color="#000000"/></linearGradient>
<linearGradient id="c70" x1="0" y1="0" x2="0" y2="1"><stop offset="0" stop-color="#000000"/><stop offset=".408" stop-color="#000000"/><stop offset=".464" stop-color="#030303"/><stop offset=".489" stop-color="#070707"/><stop offset=".511" stop-color="#0e0e0e"/><stop offset=".524" stop-color="#141414"/><stop offset=".542" stop-color="#212121"/><stop offset=".558" stop-color="#303030"/><stop offset=".574" stop-color="#444444"/><stop offset=".583" stop-color="#525252"/><stop offset=".596" stop-color="#686868"/><stop offset=".608" stop-color="#808080"/><stop offset=".636" stop-color="#bbbbbb"/><stop offset=".652" stop-color="#d8d8d8"/><stop offset=".661" stop-color="#e6e6e6"/><stop offset=".668" stop-color="#ededed"/><stop offset=".674" stop-color="#f3f3f3"/><stop offset=".687" stop-color="#f9f9f9"/><stop offset=".696" stop-color="#f8f8f8"/><stop offset=".705" stop-color="#f2f2f2"/><stop offset=".718" stop-color="#e3e3e3"/><stop offset=".734" stop-color="#c7c7c7"/><stop offset=".777" stop-color="#646464"/><stop offset=".796" stop-color="#404040"/><stop offset=".815" stop-color="#262626"/><stop offset=".824" stop-color="#1c1c1c"/><stop offset=".837" stop-color="#121212"/><stop offset=".856" stop-color="#090909"/><stop offset=".868" stop-color="#050505"/><stop offset=".887" stop-color="#020202"/><stop offset=".918" stop-color="#000000"/><stop offset="1" stop-color="#000000"/></linearGradient>
<linearGradient id="c71" x1="0" y1="0" x2="0" y2="1"><stop offset="0" stop-color="#000000"/><stop offset=".398" stop-color="#000000"/><stop offset=".455" stop-color="#030303"/><stop offset=".48" stop-color="#070707"/><stop offset=".505" stop-color="#0f0f0f"/><stop offset=".52" stop-color="#171717"/><stop offset=".533" stop-color="#202020"/><stop offset=".549" stop-color="#2f2f2f"/><stop offset=".564" stop-color="#424242"/><stop offset=".577" stop-color="#555555"/><stop offset=".589" stop-color="#6b6b6b"/><stop offset=".608" stop-color="#909090"/><stop offset=".624" stop-color="#b1b1b1"/><stop offset=".639" stop-color="#cfcfcf"/><stop offset=".652" stop-color="#e3e3e3"/><stop offset=".658" stop-color="#ebebeb"/><stop offset=".668" stop-color="#f4f4f4"/><stop offset=".677" stop-color="#f9f9f9"/><stop offset=".687" stop-color="#f9f9f9"/><stop offset=".696" stop-color="#f4f4f4"/><stop offset=".702" stop-color="#efefef"/><stop offset=".712" stop-color="#e3e3e3"/><stop offset=".718" stop-color="#d9d9d9"/><stop offset=".727" stop-color="#c7c7c7"/><stop offset=".768" stop-color="#6c6c6c"/><stop offset=".787" stop-color="#474747"/><stop offset=".806" stop-color="#2b2b2b"/><stop offset=".824" stop-color="#181818"/><stop offset=".843" stop-color="#0c0c0c"/><stop offset=".875" stop-color="#030303"/><stop offset=".915" stop-color="#000000"/><stop offset="1" stop-color="#000000"/></linearGradient>
<linearGradient id="c72" x1="0" y1="0" x2="0" y2="1"><stop offset="0" stop-color="#000000"/><stop offset=".42" stop-color="#010101"/><stop offset=".461" stop-color="#050505"/><stop offset=".498" stop-color="#101010"/><stop offset=".527" stop-color="#222222"/><stop offset=".542" stop-color="#313131"/><stop offset=".558" stop-color="#454545"/><stop offset=".571" stop-color="#585858"/><stop offset=".583" stop-color="#6e6e6e"/><stop offset=".624" stop-color="#bfbfbf"/><stop offset=".633" stop-color="#d1d1d1"/><stop offset=".643" stop-color="#e0e0e0"/><stop offset=".652" stop-color="#ececec"/><stop offset=".661" stop-color="#f5f5f5"/><stop offset=".674" stop-color="#fafafa"/><stop offset=".683" stop-color="#f8f8f8"/><stop offset=".693" stop-color="#f2f2f2"/><stop offset=".705" stop-color="#e3e3e3"/><stop offset=".718" stop-color="#cecece"/><stop offset=".727" stop-color="#bbbbbb"/><stop offset=".755" stop-color="#7b7b7b"/><stop offset=".765" stop-color="#676767"/><stop offset=".781" stop-color="#494949"/><stop offset=".793" stop-color="#353535"/><stop offset=".806" stop-color="#252525"/><stop offset=".818" stop-color="#191919"/><stop offset=".843" stop-color="#0a0a0a"/><stop offset=".856" stop-color="#060606"/><stop offset=".878" stop-color="#020202"/><stop offset=".912" stop-color="#000000"/><stop offset="1" stop-color="#000000"/></linearGradient>
<linearGradient id="c73" x1="0" y1="0" x2="0" y2="1"><stop offset="0" stop-color="#000000"/><stop offset=".379" stop-color="#000000"/><stop offset=".445" stop-color="#040404"/><stop offset=".483" stop-color="#0d0d0d"/><stop offset=".502" stop-color="#161616"/><stop offset=".517" stop-color="#212121"/><stop offset=".536" stop-color="#333333"/><stop offset=".552" stop-color="#474747"/><stop offset=".574" stop-color="#6b6b6b"/><stop offset=".624" stop-color="#cdcdcd"/><stop offset=".633" stop-color="#dddddd"/><stop offset=".639" stop-color="#e6e6e6"/><stop offset=".652" stop-color="#f3f3f3"/><stop offset=".665" stop-color="#fafafa"/><stop offset=".671" stop-color="#fafafa"/><stop offset=".68" stop-color="#f7f7f7"/><stop offset=".69" stop-color="#efefef"/><stop offset=".699" stop-color="#e3e3e3"/><stop offset=".708" stop-color="#d4d4d4"/><stop offset=".718" stop-color="#c2c2c2"/><stop offset=".752" stop-color="#767676"/><stop offset=".765" stop-color="#5c5c5c"/><stop offset=".774" stop-color="#4b4b4b"/><stop offset=".787" stop-color="#373737"/><stop offset=".799" stop-color="#272727"/><stop offset=".815" stop-color="#181818"/><stop offset=".837" stop-color="#0b0b0b"/><stop offset=".856" stop-color="#050505"/><stop offset=".875" stop-color="#020202"/><stop offset=".909" stop-color="#000000"/><stop offset="1" stop-color="#000000"/></linearGradient>
<linearGradient id="c74" x1="0" y1="0" x2="0" y2="1"><stop offset="0" stop-color="#000000"/><stop offset=".37" stop-color="#000000"/><stop offset=".436" stop-color="#040404"/><stop offset=".458" stop-color="#080808"/><stop offset=".476" stop-color="#0e0e0e"/><stop offset=".498" stop-color="#191919"/><stop offset=".514" stop-color="#252525"/><stop offset=".53" stop-color="#353535"/><stop offset=".542" stop-color="#454545"/><stop offset=".558" stop-color="#5d5d5d"/><stop offset=".571" stop-color="#737373"/><stop offset=".618" stop-color="#cfcfcf"/><stop offset=".627" stop-color="#dedede"/><stop offset=".633" stop-color="#e7e7e7"/><stop offset=".646" stop-color="#f4f4f4"/><stop offset=".658" stop-color="#fafafa"/><stop offset=".665" stop-color="#fafafa"/><stop offset=".674" stop-color="#f7f7f7"/><stop offset=".687" stop-color="#ececec"/><stop offset=".693" stop-color="#e4e4e4"/><stop offset=".712" stop-color="#c3c3c3"/><stop offset=".749" stop-color="#717171"/><stop offset=".762" stop-color="#585858"/><stop offset=".774" stop-color="#424242"/><stop offset=".79" stop-color="#2c2c2c"/><stop offset=".809" stop-color="#191919"/><stop offset=".828" stop-color="#0d0d0d"/><stop offset=".84" stop-color="#080808"/><stop offset=".862" stop-color="#030303"/><stop offset=".903" stop-color="#000000"/><stop offset="1" stop-color="#000000"/></linearGradient>
<linearGradient id="c75" x1="0" y1="0" x2="0" y2="1"><stop offset="0" stop-color="#000000"/><stop offset=".392" stop-color="#010101"/><stop offset=".42" stop-color="#030303"/><stop offset=".445" stop-color="#070707"/><stop offset=".473" stop-color="#101010"/><stop offset=".505" stop-color="#242424"/><stop offset=".517" stop-color="#303030"/><stop offset=".536" stop-color="#474747"/><stop offset=".558" stop-color="#6a6a6a"/><stop offset=".608" stop-color="#cbcbcb"/><stop offset=".621" stop-color="#dfdfdf"/><stop offset=".636" stop-color="#f2f2f2"/><stop offset=".646" stop-color="#f8f8f8"/><stop offset=".652" stop-color="#fafafa"/><stop offset=".665" stop-color="#f9f9f9"/><stop offset=".671" stop-color="#f5f5f5"/><stop offset=".68" stop-color="#ececec"/><stop offset=".687" stop-color="#e4e4e4"/><stop offset=".699" stop-color="#d0d0d0"/><stop offset=".705" stop-color="#c4c4c4"/><stop offset=".743" stop-color="#737373"/><stop offset=".755" stop-color="#5a5a5a"/><stop offset=".768" stop-color="#444444"/><stop offset=".787" stop-color="#2a2a2a"/><stop offset=".806" stop-color="#181818"/><stop offset=".821" stop-color="#0e0e0e"/><stop offset=".831" stop-color="#0a0a0a"/><stop offset=".859" stop-color="#030303"/><stop offset=".9" stop-color="#000000"/><stop offset="1" stop-color="#000000"/></linearGradient>
<linearGradient id="c76" x1="0" y1="0" x2="0" y2="1"><stop offset="0" stop-color="#000000"/><stop offset=".351" stop-color="#000000"/><stop offset=".411" stop-color="#030303"/><stop offset=".426" stop-color="#050505"/><stop offset=".458" stop-color="#0d0d0d"/><stop offset=".473" stop-color="#141414"/><stop offset=".492" stop-color="#202020"/><stop offset=".514" stop-color="#353535"/><stop offset=".53" stop-color="#494949"/><stop offset=".542" stop-color="#5c5c5c"/><stop offset=".555" stop-color="#727272"/><stop offset=".596" stop-color="#c1c1c1"/><stop offset=".614" stop-color="#e0e0e0"/><stop offset=".624" stop-color="#ececec"/><stop offset=".633" stop-color="#f5f5f5"/><stop offset=".643" stop-color="#fafafa"/><stop offset=".649" stop-color="#fbfbfb"/><stop offset=".658" stop-color="#f9f9f9"/><stop offset=".668" stop-color="#f3f3f3"/><stop offset=".68" stop-color="#e5e5e5"/><stop offset=".693" stop-color="#d1d1d1"/><stop offset=".702" stop-color="#bfbfbf"/><stop offset=".737" stop-color="#757575"/><stop offset=".755" stop-color="#515151"/><stop offset=".771" stop-color="#383838"/><stop offset=".781" stop-color="#2c2c2c"/><stop offset=".803" stop-color="#171717"/><stop offset=".821" stop-color="#0c0c0c"/><stop offset=".843" stop-color="#050505"/><stop offset=".862" stop-color="#020202"/><stop offset=".897" stop-color="#000000"/><stop offset="1" stop-color="#000000"/></linearGradient>
<linearGradient id="c77" x1="0" y1="0" x2="0" y2="1"><stop offset="0" stop-color="#000000"/><stop offset=".376" stop-color="#010101"/><stop offset=".423" stop-color="#060606"/><stop offset=".455" stop-color="#0f0f0f"/><stop offset=".467" stop-color="#151515"/><stop offset=".489" stop-color="#242424"/><stop offset=".505" stop-color="#333333"/><stop offset=".517" stop-color="#434343"/><stop offset=".53" stop-color="#545454"/><stop offset=".545" stop-color="#6e6e6e"/><stop offset=".589" stop-color="#c2c2c2"/><stop offset=".608" stop-color="#e1e1e1"/><stop offset=".624" stop-color="#f3f3f3"/><stop offset=".633" stop-color="#f9f9f9"/><stop offset=".639" stop-color="#fbfbfb"/><stop offset=".646" stop-color="#fbfbfb"/><stop offset=".658" stop-color="#f6f6f6"/><stop offset=".668" stop-color="#ededed"/><stop offset=".677" stop-color="#e1e1e1"/><stop offset=".687" stop-color="#d2d2d2"/><stop offset=".699" stop-color="#bababa"/><stop offset=".734" stop-color="#717171"/><stop offset=".749" stop-color="#535353"/><stop offset=".765" stop-color="#3a3a3a"/><stop offset=".777" stop-color="#2a2a2a"/><stop offset=".799" stop-color="#161616"/><stop offset=".815" stop-color="#0d0d0d"/><stop offset=".84" stop-color="#050505"/><stop offset=".859" stop-color="#020202"/><stop offset=".893" stop-color="#000000"/><stop offset="1" stop-color="#000000"/></linearGradient>
<linearGradient id="c78" x1="0" y1="0" x2="0" y2="1"><stop offset="0" stop-color="#000000"/><stop offset=".367" stop-color="#010101"/><stop offset=".395" stop-color="#030303"/><stop offset=".42" stop-color="#070707"/><stop offset=".451" stop-color="#111111"/><stop offset=".476" stop-color="#202020"/><stop offset=".486" stop-color="#282828"/><stop offset=".502" stop-color="#383838"/><stop offset=".514" stop-color="#484848"/><stop offset=".539" stop-color="#707070"/><stop offset=".586" stop-color="#c9c9c9"/><stop offset=".599" stop-color="#dddddd"/><stop offset=".611" stop-color="#ededed"/><stop offset=".618" stop-color="#f3f3f3"/><stop offset=".627" stop-color="#f9f9f9"/><stop offset=".633" stop-color="#fbfbfb"/><stop offset=".643" stop-color="#fafafa"/><stop offset=".655" stop-color="#f4f4f4"/><stop offset=".661" stop-color="#eeeeee"/><stop offset=".671" stop-color="#e2e2e2"/><stop offset=".68" stop-color="#d3d3d3"/><stop offset=".699" stop-color="#afafaf"/><stop offset=".727" stop-color="#737373"/><stop offset=".746" stop-color="#505050"/><stop offset=".755" stop-color="#414141"/><stop offset=".771" stop-color="#2c2c2c"/><stop offset=".784" stop-color="#1f1f1f"/><stop offset=".799" stop-color="#131313"/><stop offset=".828" stop-color="#070707"/><stop offset=".856" stop-color="#020202"/><stop offset=".89" stop-color="#000000"/><stop offset="1" stop-color="#000000"/></linearGradient>
<linearGradient id="c79" x1="0" y1="0" x2="0" y2="1"><stop offset="0" stop-color="#000000"/><stop offset=".357" stop-color="#010101"/><stop offset=".401" stop-color="#050505"/><stop offset=".439" stop-color="#0f0f0f"/><stop offset=".451" stop-color="#151515"/><stop offset=".467" stop-color="#1f1f1f"/><stop offset=".483" stop-color="#2c2c2c"/><stop offset=".492" stop-color="#363636"/><stop offset=".511" stop-color="#4e4e4e"/><stop offset=".53" stop-color="#6c6c6c"/><stop offset=".567" stop-color="#b3b3b3"/><stop offset=".589" stop-color="#d9d9d9"/><stop offset=".602" stop-color="#eaeaea"/><stop offset=".614" stop-color="#f6f6f6"/><stop offset=".627" stop-color="#fbfbfb"/><stop offset=".639" stop-color="#fafafa"/><stop offset=".649" stop-color="#f4f4f4"/><stop offset=".661" stop-color="#e7e7e7"/><stop offset=".68" stop-color="#c9c9c9"/><stop offset=".69" stop-color="#b7b7b7"/><stop offset=".727" stop-color="#696969"/><stop offset=".743" stop-color="#4d4d4d"/><stop offset=".755" stop-color="#3a3a3a"/><stop offset=".765" stop-color="#2e2e2e"/><stop offset=".787" stop-color="#191919"/><stop offset=".809" stop-color="#0c0c0c"/><stop offset=".828" stop-color="#060606"/><stop offset=".843" stop-color="#030303"/><stop offset=".887" stop-color="#000000"/><stop offset="1" stop-color="#000000"/></linearGradient>
<linearGradient id="c80" x1="0" y1="0" x2="0" y2="1"><stop offset="0" stop-color="#000000"/><stop offset=".351" stop-color="#010101"/><stop offset=".404" stop-color="#070707"/><stop offset=".436" stop-color="#111111"/><stop offset=".461" stop-color="#202020"/><stop offset=".489" stop-color="#3b3b3b"/><stop offset=".502" stop-color="#4b4b4b"/><stop offset=".52" stop-color="#686868"/><stop offset=".536" stop-color="#848484"/><stop offset=".571" stop-color="#c5c5c5"/><stop offset=".586" stop-color="#dedede"/><stop offset=".599" stop-color="#eeeeee"/><stop offset=".608" stop-color="#f6f6f6"/><stop offset=".624" stop-color="#fcfcfc"/><stop offset=".639" stop-color="#f7f7f7"/><stop offset=".655" stop-color="#e8e8e8"/><stop offset=".671" stop-color="#d0d0d0"/><stop offset=".68" stop-color="#bfbfbf"/><stop offset=".715" stop-color="#787878"/><stop offset=".73" stop-color="#5a5a5a"/><stop offset=".749" stop-color="#3c3c3c"/><stop offset=".759" stop-color="#303030"/><stop offset=".784" stop-color="#181818"/><stop offset=".803" stop-color="#0d0d0d"/><stop offset=".828" stop-color="#050505"/><stop offset=".84" stop-color="#030303"/><stop offset=".884" stop-color="#000000"/><stop offset="1" stop-color="#000000"/></linearGradient>
<linearGradient id="c81" x1="0" y1="0" x2="0" y2="1"><stop offset="0" stop-color="#000000"/><stop offset=".342" stop-color="#010101"/><stop offset=".386" stop-color="#050505"/><stop offset=".423" stop-color="#0f0f0f"/><stop offset=".436" stop-color="#151515"/><stop offset=".455" stop-color="#212121"/><stop offset=".483" stop-color="#3c3c3c"/><stop offset=".498" stop-color="#515151"/><stop offset=".517" stop-color="#6f6f6f"/><stop offset=".561" stop-color="#c0c0c0"/><stop offset=".583" stop-color="#e3e3e3"/><stop offset=".599" stop-color="#f4f4f4"/><stop offset=".611" stop-color="#fbfbfb"/><stop offset=".618" stop-color="#fcfcfc"/><stop offset=".63" stop-color="#f9f9f9"/><stop offset=".636" stop-color="#f5f5f5"/><stop offset=".646" stop-color="#ececec"/><stop offset=".655" stop-color="#e0e0e0"/><stop offset=".668" stop-color="#cccccc"/><stop offset=".687" stop-color="#a8a8a8"/><stop offset=".715" stop-color="#6e6e6e"/><stop offset=".73" stop-color="#525252"/><stop offset=".74" stop-color="#434343"/><stop offset=".752" stop-color="#323232"/><stop offset=".781" stop-color="#171717"/><stop offset=".796" stop-color="#0e0e0e"/><stop offset=".809" stop-color="#090909"/><stop offset=".824" stop-color="#050505"/><stop offset=".846" stop-color="#020202"/><stop offset=".881" stop-color="#000000"/><stop offset="1" stop-color="#000000"/></linearGradient>
<linearGradient id="c82" x1="0" y1="0" x2="0" y2="1"><stop offset="0" stop-color="#000000"/><stop offset=".332" stop-color="#010101"/><stop offset=".382" stop-color="#060606"/><stop offset=".42" stop-color="#111111"/><stop offset=".436" stop-color="#191919"/><stop offset=".455" stop-color="#272727"/><stop offset=".47" stop-color="#363636"/><stop offset=".48" stop-color="#414141"/><stop offset=".492" stop-color="#525252"/><stop offset=".511" stop-color="#707070"/><stop offset=".552" stop-color="#bbbbbb"/><stop offset=".574" stop-color="#dfdfdf"/><stop offset=".592" stop-color="#f4f4f4"/><stop offset=".602" stop-color="#fafafa"/><stop offset=".608" stop-color="#fcfcfc"/><stop offset=".621" stop-color="#fbfbfb"/><stop offset=".63" stop-color="#f6f6f6"/><stop offset=".639" stop-color="#ededed"/><stop offset=".652" stop-color="#dddddd"/><stop offset=".665" stop-color="#c8c8c8"/><stop offset=".68" stop-color="#aaaaaa"/><stop offset=".702" stop-color="#7d7d7d"/><stop offset=".721" stop-color="#5a5a5a"/><stop offset=".737" stop-color="#414141"/><stop offset=".752" stop-color="#2d2d2d"/><stop offset=".771" stop-color="#1b1b1b"/><stop offset=".79" stop-color="#0f0f0f"/><stop offset=".799" stop-color="#0b0b0b"/><stop offset=".812" stop-color="#070707"/><stop offset=".834" stop-color="#030303"/><stop offset=".878" stop-color="#000000"/><stop offset="1" stop-color="#000000"/></linearGradient>
<linearGradient id="c83" x1="0" y1="0" x2="0" y2="1"><stop offset="0" stop-color="#000000"/><stop offset=".326" stop-color="#010101"/><stop offset=".354" stop-color="#030303"/><stop offset=".379" stop-color="#070707"/><stop offset=".408" stop-color="#0f0f0f"/><stop offset=".436" stop-color="#1e1e1e"/><stop offset=".445" stop-color="#252525"/><stop offset=".464" stop-color="#373737"/><stop offset=".483" stop-color="#4f4f4f"/><stop offset=".505" stop-color="#717171"/><stop offset=".542" stop-color="#b6b6b6"/><stop offset=".558" stop-color="#d1d1d1"/><stop offset=".567" stop-color="#dfdfdf"/><stop offset=".577" stop-color="#ebebeb"/><stop offset=".586" stop-color="#f4f4f4"/><stop offset=".596" stop-color="#fafafa"/><stop offset=".602" stop-color="#fcfcfc"/><stop offset=".611" stop-color="#fcfcfc"/><stop offset=".618" stop-color="#fafafa"/><stop offset=".627" stop-color="#f4f4f4"/><stop offset=".639" stop-color="#e7e7e7"/><stop offset=".658" stop-color="#cacaca"/><stop offset=".712" stop-color="#626262"/><stop offset=".727" stop-color="#484848"/><stop offset=".752" stop-color="#282828"/><stop offset=".768" stop-color="#1a1a1a"/><stop offset=".781" stop-color="#121212"/><stop offset=".793" stop-color="#0c0c0c"/><stop offset=".812" stop-color="#060606"/><stop offset=".837" stop-color="#020202"/><stop offset=".875" stop-color="#000000"/><stop offset="1" stop-color="#000000"/></linearGradient>
<linearGradient id="c84" x1="0" y1="0" x2="0" y2="1"><stop offset="0" stop-color="#000000"/><stop offset=".317" stop-color="#010101"/><stop offset=".373" stop-color="#070707"/><stop offset=".408" stop-color="#121212"/><stop offset=".433" stop-color="#212121"/><stop offset=".458" stop-color="#383838"/><stop offset=".476" stop-color="#505050"/><stop offset=".498" stop-color="#727272"/><stop offset=".539" stop-color="#bcbcbc"/><stop offset=".561" stop-color="#dfdfdf"/><stop offset=".571" stop-color="#ebebeb"/><stop offset=".58" stop-color="#f4f4f4"/><stop offset=".589" stop-color="#fafafa"/><stop offset=".596" stop-color="#fcfcfc"/><stop offset=".605" stop-color="#fcfcfc"/><stop offset=".614" stop-color="#f9f9f9"/><stop offset=".627" stop-color="#efefef"/><stop offset=".636" stop-color="#e4e4e4"/><stop offset=".655" stop-color="#c6c6c6"/><stop offset=".705" stop-color="#656565"/><stop offset=".724" stop-color="#464646"/><stop offset=".746" stop-color="#2a2a2a"/><stop offset=".755" stop-color="#212121"/><stop offset=".771" stop-color="#151515"/><stop offset=".787" stop-color="#0d0d0d"/><stop offset=".809" stop-color="#060606"/><stop offset=".834" stop-color="#020202"/><stop offset=".871" stop-color="#000000"/><stop offset="1" stop-color="#000000"/></linearGradient>
<linearGradient id="c85" x1="0" y1="0" x2="0" y2="1"><stop offset="0" stop-color="#000000"/><stop offset=".31" stop-color="#010101"/><stop offset=".339" stop-color="#030303"/><stop offset=".37" stop-color="#080808"/><stop offset=".404" stop-color="#141414"/><stop offset=".429" stop-color="#242424"/><stop offset=".442" stop-color="#2f2f2f"/><stop offset=".461" stop-color="#444444"/><stop offset=".473" stop-color="#555555"/><stop offset=".495" stop-color="#787878"/><stop offset=".539" stop-color="#c7c7c7"/><stop offset=".555" stop-color="#dfdfdf"/><stop offset=".574" stop-color="#f4f4f4"/><stop offset=".583" stop-color="#fafafa"/><stop offset=".589" stop-color="#fcfcfc"/><stop offset=".605" stop-color="#fbfbfb"/><stop offset=".618" stop-color="#f3f3f3"/><stop offset=".627" stop-color="#e9e9e9"/><stop offset=".633" stop-color="#e1e1e1"/><stop offset=".649" stop-color="#c8c8c8"/><stop offset=".661" stop-color="#b1b1b1"/><stop offset=".693" stop-color="#737373"/><stop offset=".712" stop-color="#525252"/><stop offset=".721" stop-color="#444444"/><stop offset=".74" stop-color="#2c2c2c"/><stop offset=".752" stop-color="#202020"/><stop offset=".774" stop-color="#111111"/><stop offset=".806" stop-color="#060606"/><stop offset=".843" stop-color="#010101"/><stop offset="1" stop-color="#000000"/></linearGradient>
<linearGradient id="c86" x1="0" y1="0" x2="0" y2="1"><stop offset="0" stop-color="#000000"/><stop offset=".301" stop-color="#010101"/><stop offset=".357" stop-color="#070707"/><stop offset=".395" stop-color="#131313"/><stop offset=".417" stop-color="#202020"/><stop offset=".429" stop-color="#2a2a2a"/><stop offset=".451" stop-color="#414141"/><stop offset=".467" stop-color="#565656"/><stop offset=".483" stop-color="#6e6e6e"/><stop offset=".498" stop-color="#898989"/><stop offset=".524" stop-color="#b7b7b7"/><stop offset=".549" stop-color="#dfdfdf"/><stop offset=".561" stop-color="#eeeeee"/><stop offset=".571" stop-color="#f6f6f6"/><stop offset=".577" stop-color="#fafafa"/><stop offset=".589" stop-color="#fdfdfd"/><stop offset=".602" stop-color="#fafafa"/><stop offset=".608" stop-color="#f6f6f6"/><stop offset=".614" stop-color="#f1f1f1"/><stop offset=".63" stop-color="#dedede"/><stop offset=".649" stop-color="#bfbfbf"/><stop offset=".69" stop-color="#707070"/><stop offset=".712" stop-color="#4b4b4b"/><stop offset=".737" stop-color="#2b2b2b"/><stop offset=".746" stop-color="#222222"/><stop offset=".765" stop-color="#141414"/><stop offset=".793" stop-color="#080808"/><stop offset=".828" stop-color="#020202"/><stop offset=".865" stop-color="#000000"/><stop offset="1" stop-color="#000000"/></linearGradient>
<linearGradient id="c87" x1="0" y1="0" x2="0" y2="1"><stop offset="0" stop-color="#000000"/><stop offset=".295" stop-color="#010101"/><stop offset=".345" stop-color="#060606"/><stop offset=".386" stop-color="#121212"/><stop offset=".414" stop-color="#232323"/><stop offset=".442" stop-color="#3e3e3e"/><stop offset=".458" stop-color="#525252"/><stop offset=".48" stop-color="#747474"/><stop offset=".527" stop-color="#c7c7c7"/><stop offset=".545" stop-color="#e3e3e3"/><stop offset=".564" stop-color="#f6f6f6"/><stop offset=".574" stop-color="#fbfbfb"/><stop offset=".583" stop-color="#fdfdfd"/><stop offset=".596" stop-color="#fafafa"/><stop offset=".605" stop-color="#f4f4f4"/><stop offset=".614" stop-color="#ebebeb"/><stop offset=".627" stop-color="#dbdbdb"/><stop offset=".643" stop-color="#c1c1c1"/><stop offset=".683" stop-color="#737373"/><stop offset=".708" stop-color="#494949"/><stop offset=".73" stop-color="#2d2d2d"/><stop offset=".749" stop-color="#1c1c1c"/><stop offset=".765" stop-color="#121212"/><stop offset=".777" stop-color="#0c0c0c"/><stop offset=".793" stop-color="#070707"/><stop offset=".837" stop-color="#010101"/><stop offset="1" stop-color="#000000"/></linearGradient>
<linearGradient id="c88" x1="0" y1="0" x2="0" y2="1"><stop offset="0" stop-color="#000000"/><stop offset=".285" stop-color="#010101"/><stop offset=".342" stop-color="#070707"/><stop offset=".382" stop-color="#141414"/><stop offset=".404" stop-color="#212121"/><stop offset=".42" stop-color="#2e2e2e"/><stop offset=".433" stop-color="#3b3b3b"/><stop offset=".455" stop-color="#575757"/><stop offset=".464" stop-color="#656565"/><stop offset=".48" stop-color="#7f7f7f"/><stop offset=".511" stop-color="#b7b7b7"/><stop offset=".533" stop-color="#dadada"/><stop offset=".545" stop-color="#eaeaea"/><stop offset=".555" stop-color="#f3f3f3"/><stop offset=".561" stop-color="#f8f8f8"/><stop offset=".574" stop-color="#fdfdfd"/><stop offset=".586" stop-color="#fcfcfc"/><stop offset=".599" stop-color="#f5f5f5"/><stop offset=".611" stop-color="#e9e9e9"/><stop offset=".618" stop-color="#e1e1e1"/><stop offset=".639" stop-color="#bebebe"/><stop offset=".677" stop-color="#767676"/><stop offset=".702" stop-color="#4c4c4c"/><stop offset=".727" stop-color="#2c2c2c"/><stop offset=".737" stop-color="#232323"/><stop offset=".755" stop-color="#151515"/><stop offset=".771" stop-color="#0d0d0d"/><stop offset=".79" stop-color="#070707"/><stop offset=".821" stop-color="#020202"/><stop offset=".859" stop-color="#000000"/><stop offset="1" stop-color="#000000"/></linearGradient>
<linearGradient id="c89" x1="0" y1="0" x2="0" y2="1"><stop offset="0" stop-color="#000000"/><stop offset=".279" stop-color="#010101"/><stop offset=".335" stop-color="#070707"/><stop offset=".373" stop-color="#131313"/><stop offset=".401" stop-color="#242424"/><stop offset=".429" stop-color="#3f3f3f"/><stop offset=".451" stop-color="#5c5c5c"/><stop offset=".473" stop-color="#7f7f7f"/><stop offset=".508" stop-color="#bcbcbc"/><stop offset=".53" stop-color="#dedede"/><stop offset=".549" stop-color="#f3f3f3"/><stop offset=".561" stop-color="#fbfbfb"/><stop offset=".567" stop-color="#fdfdfd"/><stop offset=".577" stop-color="#fdfdfd"/><stop offset=".586" stop-color="#fafafa"/><stop offset=".599" stop-color="#f1f1f1"/><stop offset=".605" stop-color="#eaeaea"/><stop offset=".618" stop-color="#dadada"/><stop offset=".627" stop-color="#cbcbcb"/><stop offset=".639" stop-color="#b5b5b5"/><stop offset=".671" stop-color="#797979"/><stop offset=".683" stop-color="#636363"/><stop offset=".699" stop-color="#4a4a4a"/><stop offset=".712" stop-color="#393939"/><stop offset=".73" stop-color="#252525"/><stop offset=".74" stop-color="#1d1d1d"/><stop offset=".759" stop-color="#111111"/><stop offset=".787" stop-color="#070707"/><stop offset=".831" stop-color="#010101"/><stop offset="1" stop-color="#000000"/></linearGradient>
<linearGradient id="c90" x1="0" y1="0" x2="0" y2="1"><stop offset="0" stop-color="#000000"/><stop offset=".27" stop-color="#010101"/><stop offset=".323" stop-color="#060606"/><stop offset=".345" stop-color="#0b0b0b"/><stop offset=".364" stop-color="#121212"/><stop offset=".376" stop-color="#181818"/><stop offset=".398" stop-color="#272727"/><stop offset=".408" stop-color="#2f2f2f"/><stop offset=".429" stop-color="#474747"/><stop offset=".448" stop-color="#616161"/><stop offset=".464" stop-color="#7a7a7a"/><stop offset=".505" stop-color="#c1c1c1"/><stop offset=".52" stop-color="#d9d9d9"/><stop offset=".533" stop-color="#e9e9e9"/><stop offset=".545" stop-color="#f5f5f5"/><stop offset=".561" stop-color="#fdfdfd"/><stop offset=".571" stop-color="#fdfdfd"/><stop offset=".583" stop-color="#f9f9f9"/><stop offset=".592" stop-color="#f2f2f2"/><stop offset=".602" stop-color="#e8e8e8"/><stop offset=".614" stop-color="#d7d7d7"/><stop offset=".624" stop-color="#c8c8c8"/><stop offset=".671" stop-color="#717171"/><stop offset=".693" stop-color="#4d4d4d"/><stop offset=".712" stop-color="#343434"/><stop offset=".721" stop-color="#2a2a2a"/><stop offset=".746" stop-color="#161616"/><stop offset=".762" stop-color="#0e0e0e"/><stop offset=".787" stop-color="#060606"/><stop offset=".815" stop-color="#020202"/><stop offset=".856" stop-color="#000000"/><stop offset="1" stop-color="#000000"/></linearGradient>
<linearGradient id="c91" x1="0" y1="0" x2="0" y2="1"><stop offset="0" stop-color="#000000"/><stop offset=".263" stop-color="#010101"/><stop offset=".32" stop-color="#070707"/><stop offset=".364" stop-color="#151515"/><stop offset=".379" stop-color="#1e1e1e"/><stop offset=".395" stop-color="#2a2a2a"/><stop offset=".417" stop-color="#404040"/><stop offset=".433" stop-color="#545454"/><stop offset=".445" stop-color="#666666"/><stop offset=".467" stop-color="#8a8a8a"/><stop offset=".492" stop-color="#b6b6b6"/><stop offset=".517" stop-color="#dddddd"/><stop offset=".53" stop-color="#ececec"/><stop offset=".542" stop-color="#f7f7f7"/><stop offset=".552" stop-color="#fcfcfc"/><stop offset=".558" stop-color="#fdfdfd"/><stop offset=".567" stop-color="#fdfdfd"/><stop offset=".574" stop-color="#fbfbfb"/><stop offset=".586" stop-color="#f3f3f3"/><stop offset=".592" stop-color="#ededed"/><stop offset=".608" stop-color="#d9d9d9"/><stop offset=".621" stop-color="#c5c5c5"/><stop offset=".671" stop-color="#696969"/><stop offset=".693" stop-color="#474747"/><stop offset=".708" stop-color="#333333"/><stop offset=".721" stop-color="#262626"/><stop offset=".734" stop-color="#1c1c1c"/><stop offset=".749" stop-color="#121212"/><stop offset=".784" stop-color="#060606"/><stop offset=".824" stop-color="#010101"/><stop offset="1" stop-color="#000000"/></linearGradient>
<linearGradient id="c92" x1="0" y1="0" x2="0" y2="1"><stop offset="0" stop-color="#000000"/><stop offset=".219" stop-color="#000000"/><stop offset=".273" stop-color="#020202"/><stop offset=".295" stop-color="#040404"/><stop offset=".323" stop-color="#090909"/><stop offset=".354" stop-color="#141414"/><stop offset=".379" stop-color="#232323"/><stop offset=".392" stop-color="#2d2d2d"/><stop offset=".414" stop-color="#444444"/><stop offset=".426" stop-color="#545454"/><stop offset=".442" stop-color="#6b6b6b"/><stop offset=".489" stop-color="#bbbbbb"/><stop offset=".508" stop-color="#d8d8d8"/><stop offset=".527" stop-color="#efefef"/><stop offset=".542" stop-color="#fafafa"/><stop offset=".552" stop-color="#fdfdfd"/><stop offset=".561" stop-color="#fdfdfd"/><stop offset=".571" stop-color="#fafafa"/><stop offset=".58" stop-color="#f4f4f4"/><stop offset=".589" stop-color="#ebebeb"/><stop offset=".602" stop-color="#dbdbdb"/><stop offset=".618" stop-color="#c2c2c2"/><stop offset=".655" stop-color="#7d7d7d"/><stop offset=".668" stop-color="#676767"/><stop offset=".683" stop-color="#4e4e4e"/><stop offset=".705" stop-color="#323232"/><stop offset=".724" stop-color="#202020"/><stop offset=".737" stop-color="#171717"/><stop offset=".768" stop-color="#090909"/><stop offset=".809" stop-color="#020202"/><stop offset=".85" stop-color="#000000"/><stop offset="1" stop-color="#000000"/></linearGradient>
<linearGradient id="c93" x1="0" y1="0" x2="0" y2="1"><stop offset="0" stop-color="#000000"/><stop offset=".213" stop-color="#000000"/><stop offset=".266" stop-color="#020202"/><stop offset=".295" stop-color="#050505"/><stop offset=".32" stop-color="#0a0a0a"/><stop offset=".345" stop-color="#131313"/><stop offset=".37" stop-color="#212121"/><stop offset=".379" stop-color="#282828"/><stop offset=".401" stop-color="#3d3d3d"/><stop offset=".417" stop-color="#505050"/><stop offset=".436" stop-color="#6b6b6b"/><stop offset=".448" stop-color="#7f7f7f"/><stop offset=".476" stop-color="#b0b0b0"/><stop offset=".505" stop-color="#dcdcdc"/><stop offset=".517" stop-color="#ebebeb"/><stop offset=".527" stop-color="#f4f4f4"/><stop offset=".536" stop-color="#fafafa"/><stop offset=".552" stop-color="#fefefe"/><stop offset=".567" stop-color="#f9f9f9"/><stop offset=".574" stop-color="#f5f5f5"/><stop offset=".586" stop-color="#e9e9e9"/><stop offset=".596" stop-color="#dddddd"/><stop offset=".608" stop-color="#cacaca"/><stop offset=".661" stop-color="#6a6a6a"/><stop offset=".683" stop-color="#484848"/><stop offset=".702" stop-color="#313131"/><stop offset=".718" stop-color="#222222"/><stop offset=".74" stop-color="#131313"/><stop offset=".768" stop-color="#080808"/><stop offset=".796" stop-color="#030303"/><stop offset=".818" stop-color="#010101"/><stop offset="1" stop-color="#000000"/></linearGradient>
<linearGradient id="c94" x1="0" y1="0" x2="0" y2="1"><stop offset="0" stop-color="#000000"/><stop offset=".241" stop-color="#010101"/><stop offset=".279" stop-color="#040404"/><stop offset=".304" stop-color="#080808"/><stop offset=".339" stop-color="#131313"/><stop offset=".354" stop-color="#1b1b1b"/><stop offset=".37" stop-color="#262626"/><stop offset=".398" stop-color="#414141"/><stop offset=".411" stop-color="#505050"/><stop offset=".429" stop-color="#6b6b6b"/><stop offset=".445" stop-color="#848484"/><stop offset=".476" stop-color="#bababa"/><stop offset=".495" stop-color="#d7d7d7"/><stop offset=".508" stop-color="#e7e7e7"/><stop offset=".524" stop-color="#f6f6f6"/><stop offset=".542" stop-color="#fefefe"/><stop offset=".549" stop-color="#fefefe"/><stop offset=".561" stop-color="#fafafa"/><stop offset=".567" stop-color="#f6f6f6"/><stop offset=".586" stop-color="#e3e3e3"/><stop offset=".596" stop-color="#d6d6d6"/><stop offset=".608" stop-color="#c2c2c2"/><stop offset=".649" stop-color="#787878"/><stop offset=".677" stop-color="#4b4b4b"/><stop offset=".693" stop-color="#373737"/><stop offset=".712" stop-color="#242424"/><stop offset=".737" stop-color="#131313"/><stop offset=".749" stop-color="#0d0d0d"/><stop offset=".765" stop-color="#080808"/><stop offset=".793" stop-color="#030303"/><stop offset=".815" stop-color="#010101"/><stop offset="1" stop-color="#000000"/></linearGradient>
<linearGradient id="c95" x1="0" y1="0" x2="0" y2="1"><stop offset="0" stop-color="#000000"/><stop offset=".197" stop-color="#000000"/><stop offset=".251" stop-color="#020202"/><stop offset=".292" stop-color="#070707"/><stop offset=".329" stop-color="#121212"/><stop offset=".342" stop-color="#181818"/><stop offset=".364" stop-color="#262626"/><stop offset=".392" stop-color="#414141"/><stop offset=".401" stop-color="#4c4c4c"/><stop offset=".42" stop-color="#666666"/><stop offset=".442" stop-color="#898989"/><stop offset=".467" stop-color="#b4b4b4"/><stop offset=".489" stop-color="#d6d6d6"/><stop offset=".505" stop-color="#eaeaea"/><stop offset=".514" stop-color="#f3f3f3"/><stop offset=".527" stop-color="#fbfbfb"/><stop offset=".539" stop-color="#fefefe"/><stop offset=".549" stop-color="#fdfdfd"/><stop offset=".558" stop-color="#f9f9f9"/><stop offset=".574" stop-color="#ececec"/><stop offset=".589" stop-color="#d8d8d8"/><stop offset=".608" stop-color="#bababa"/><stop offset=".646" stop-color="#767676"/><stop offset=".671" stop-color="#4e4e4e"/><stop offset=".696" stop-color="#2f2f2f"/><stop offset=".712" stop-color="#212121"/><stop offset=".727" stop-color="#161616"/><stop offset=".746" stop-color="#0d0d0d"/><stop offset=".762" stop-color="#080808"/><stop offset=".799" stop-color="#020202"/><stop offset=".84" stop-color="#000000"/><stop offset="1" stop-color="#000000"/></linearGradient>
<linearGradient id="c96" x1="0" y1="0" x2="0" y2="1"><stop offset="0" stop-color="#000000"/><stop offset=".191" stop-color="#000000"/><stop offset=".245" stop-color="#020202"/><stop offset=".285" stop-color="#070707"/><stop offset=".323" stop-color="#121212"/><stop offset=".335" stop-color="#181818"/><stop offset=".354" stop-color="#242424"/><stop offset=".367" stop-color="#2e2e2e"/><stop offset=".386" stop-color="#414141"/><stop offset=".398" stop-color="#505050"/><stop offset=".414" stop-color="#666666"/><stop offset=".442" stop-color="#939393"/><stop offset=".458" stop-color="#aeaeae"/><stop offset=".483" stop-color="#d5d5d5"/><stop offset=".498" stop-color="#e9e9e9"/><stop offset=".508" stop-color="#f2f2f2"/><stop offset=".524" stop-color="#fcfcfc"/><stop offset=".533" stop-color="#fefefe"/><stop offset=".539" stop-color="#fefefe"/><stop offset=".549" stop-color="#fbfbfb"/><stop offset=".561" stop-color="#f3f3f3"/><stop offset=".571" stop-color="#eaeaea"/><stop offset=".583" stop-color="#dadada"/><stop offset=".599" stop-color="#c2c2c2"/><stop offset=".643" stop-color="#747474"/><stop offset=".665" stop-color="#515151"/><stop offset=".687" stop-color="#353535"/><stop offset=".705" stop-color="#232323"/><stop offset=".727" stop-color="#141414"/><stop offset=".74" stop-color="#0e0e0e"/><stop offset=".759" stop-color="#080808"/><stop offset=".787" stop-color="#030303"/><stop offset=".809" stop-color="#010101"/><stop offset="1" stop-color="#000000"/></linearGradient>
<linearGradient id="c97" x1="0" y1="0" x2="0" y2="1"><stop offset="0" stop-color="#000000"/><stop offset=".182" stop-color="#000000"/><stop offset=".238" stop-color="#020202"/><stop offset=".288" stop-color="#090909"/><stop offset=".323" stop-color="#151515"/><stop offset=".348" stop-color="#242424"/><stop offset=".361" stop-color="#2e2e2e"/><stop offset=".379" stop-color="#414141"/><stop offset=".395" stop-color="#545454"/><stop offset=".414" stop-color="#6f6f6f"/><stop offset=".451" stop-color="#adadad"/><stop offset=".473" stop-color="#d0d0d0"/><stop offset=".483" stop-color="#dddddd"/><stop offset=".492" stop-color="#e8e8e8"/><stop offset=".505" stop-color="#f4f4f4"/><stop offset=".52" stop-color="#fdfdfd"/><stop offset=".527" stop-color="#fefefe"/><stop offset=".542" stop-color="#fcfcfc"/><stop offset=".555" stop-color="#f4f4f4"/><stop offset=".567" stop-color="#e8e8e8"/><stop offset=".58" stop-color="#d8d8d8"/><stop offset=".602" stop-color="#b5b5b5"/><stop offset=".639" stop-color="#727272"/><stop offset=".655" stop-color="#595959"/><stop offset=".668" stop-color="#474747"/><stop offset=".683" stop-color="#343434"/><stop offset=".699" stop-color="#252525"/><stop offset=".727" stop-color="#121212"/><stop offset=".759" stop-color="#070707"/><stop offset=".806" stop-color="#010101"/><stop offset="1" stop-color="#000000"/></linearGradient>
<linearGradient id="c98" x1="0" y1="0" x2="0" y2="1"><stop offset="0" stop-color="#000000"/><stop offset=".176" stop-color="#000000"/><stop offset=".229" stop-color="#020202"/><stop offset=".26" stop-color="#050505"/><stop offset=".285" stop-color="#0a0a0a"/><stop offset=".307" stop-color="#111111"/><stop offset=".326" stop-color="#1a1a1a"/><stop offset=".342" stop-color="#242424"/><stop offset=".357" stop-color="#313131"/><stop offset=".379" stop-color="#484848"/><stop offset=".392" stop-color="#585858"/><stop offset=".404" stop-color="#6a6a6a"/><stop offset=".467" stop-color="#cfcfcf"/><stop offset=".483" stop-color="#e4e4e4"/><stop offset=".502" stop-color="#f6f6f6"/><stop offset=".508" stop-color="#fafafa"/><stop offset=".52" stop-color="#fefefe"/><stop offset=".53" stop-color="#fefefe"/><stop offset=".539" stop-color="#fbfbfb"/><stop offset=".552" stop-color="#f3f3f3"/><stop offset=".564" stop-color="#e6e6e6"/><stop offset=".58" stop-color="#d1d1d1"/><stop offset=".596" stop-color="#b8b8b8"/><stop offset=".636" stop-color="#707070"/><stop offset=".661" stop-color="#4a4a4a"/><stop offset=".671" stop-color="#3e3e3e"/><stop offset=".693" stop-color="#272727"/><stop offset=".705" stop-color="#1d1d1d"/><stop offset=".724" stop-color="#121212"/><stop offset=".755" stop-color="#070707"/><stop offset=".79" stop-color="#020202"/><stop offset=".834" stop-color="#000000"/><stop offset="1" stop-color="#000000"/></linearGradient>
<linearGradient id="c99" x1="0" y1="0" x2="0" y2="1"><stop offset="0" stop-color="#000000"/><stop offset=".169" stop-color="#000000"/><stop offset=".235" stop-color="#030303"/><stop offset=".279" stop-color="#0a0a0a"/><stop offset=".298" stop-color="#101010"/><stop offset=".32" stop-color="#1a1a1a"/><stop offset=".332" stop-color="#222222"/><stop offset=".351" stop-color="#313131"/><stop offset=".373" stop-color="#484848"/><stop offset=".389" stop-color="#5c5c5c"/><stop offset=".404" stop-color="#737373"/><stop offset=".461" stop-color="#cecece"/><stop offset=".476" stop-color="#e3e3e3"/><stop offset=".492" stop-color="#f3f3f3"/><stop offset=".505" stop-color="#fbfbfb"/><stop offset=".514" stop-color="#fefefe"/><stop offset=".53" stop-color="#fdfdfd"/><stop offset=".536" stop-color="#fafafa"/><stop offset=".545" stop-color="#f4f4f4"/><stop offset=".558" stop-color="#e8e8e8"/><stop offset=".577" stop-color="#cfcfcf"/><stop offset=".589" stop-color="#bbbbbb"/><stop offset=".627" stop-color="#797979"/><stop offset=".649" stop-color="#565656"/><stop offset=".658" stop-color="#494949"/><stop offset=".674" stop-color="#363636"/><stop offset=".693" stop-color="#242424"/><stop offset=".715" stop-color="#151515"/><stop offset=".727" stop-color="#0f0f0f"/><stop offset=".752" stop-color="#070707"/><stop offset=".787" stop-color="#020202"/><stop offset=".831" stop-color="#000000"/><stop offset="1" stop-color="#000000"/></linearGradient>
<linearGradient id="c100" x1="0" y1="0" x2="0" y2="1"><stop offset="0" stop-color="#000000"/><stop offset=".16" stop-color="#000000"/><stop offset=".216" stop-color="#020202"/><stop offset=".263" stop-color="#080808"/><stop offset=".292" stop-color="#101010"/><stop offset=".307" stop-color="#171717"/><stop offset=".335" stop-color="#292929"/><stop offset=".364" stop-color="#444444"/><stop offset=".386" stop-color="#606060"/><stop offset=".401" stop-color="#777777"/><stop offset=".455" stop-color="#cdcdcd"/><stop offset=".464" stop-color="#dadada"/><stop offset=".476" stop-color="#e9e9e9"/><stop offset=".486" stop-color="#f2f2f2"/><stop offset=".495" stop-color="#f9f9f9"/><stop offset=".508" stop-color="#fefefe"/><stop offset=".52" stop-color="#fefefe"/><stop offset=".53" stop-color="#fbfbfb"/><stop offset=".542" stop-color="#f3f3f3"/><stop offset=".555" stop-color="#e6e6e6"/><stop offset=".567" stop-color="#d6d6d6"/><stop offset=".577" stop-color="#c8c8c8"/><stop offset=".624" stop-color="#777777"/><stop offset=".639" stop-color="#5e5e5e"/><stop offset=".652" stop-color="#4c4c4c"/><stop offset=".671" stop-color="#353535"/><stop offset=".687" stop-color="#262626"/><stop offset=".715" stop-color="#131313"/><stop offset=".749" stop-color="#070707"/><stop offset=".784" stop-color="#020202"/><stop offset=".828" stop-color="#000000"/><stop offset="1" stop-color="#000000"/></linearGradient>
<linearGradient id="c101" x1="0" y1="0" x2="0" y2="1"><stop offset="0" stop-color="#000000"/><stop offset=".154" stop-color="#000000"/><stop offset=".21" stop-color="#020202"/><stop offset=".257" stop-color="#080808"/><stop offset=".282" stop-color="#0f0f0f"/><stop offset=".301" stop-color="#171717"/><stop offset=".329" stop-color="#292929"/><stop offset=".357" stop-color="#444444"/><stop offset=".373" stop-color="#575757"/><stop offset=".389" stop-color="#6d6d6d"/><stop offset=".445" stop-color="#c7c7c7"/><stop offset=".464" stop-color="#e1e1e1"/><stop offset=".483" stop-color="#f4f4f4"/><stop offset=".492" stop-color="#fafafa"/><stop offset=".505" stop-color="#fefefe"/><stop offset=".517" stop-color="#fefefe"/><stop offset=".527" stop-color="#fafafa"/><stop offset=".536" stop-color="#f4f4f4"/><stop offset=".549" stop-color="#e8e8e8"/><stop offset=".564" stop-color="#d4d4d4"/><stop offset=".586" stop-color="#b1b1b1"/><stop offset=".627" stop-color="#6b6b6b"/><stop offset=".646" stop-color="#4f4f4f"/><stop offset=".658" stop-color="#3f3f3f"/><stop offset=".677" stop-color="#2b2b2b"/><stop offset=".696" stop-color="#1c1c1c"/><stop offset=".712" stop-color="#131313"/><stop offset=".746" stop-color="#070707"/><stop offset=".781" stop-color="#020202"/><stop offset=".824" stop-color="#000000"/><stop offset="1" stop-color="#000000"/></linearGradient>
<linearGradient id="c102" x1="0" y1="0" x2="0" y2="1"><stop offset="0" stop-color="#000000"/><stop offset=".147" stop-color="#000000"/><stop offset=".201" stop-color="#020202"/><stop offset=".232" stop-color="#050505"/><stop offset=".254" stop-color="#090909"/><stop offset=".276" stop-color="#0f0f0f"/><stop offset=".295" stop-color="#171717"/><stop offset=".313" stop-color="#222222"/><stop offset=".329" stop-color="#2e2e2e"/><stop offset=".345" stop-color="#3d3d3d"/><stop offset=".357" stop-color="#4b4b4b"/><stop offset=".373" stop-color="#5f5f5f"/><stop offset=".386" stop-color="#717171"/><stop offset=".439" stop-color="#c6c6c6"/><stop offset=".455" stop-color="#dcdcdc"/><stop offset=".464" stop-color="#e7e7e7"/><stop offset=".476" stop-color="#f3f3f3"/><stop offset=".489" stop-color="#fbfbfb"/><stop offset=".505" stop-color="#ffffff"/><stop offset=".52" stop-color="#fbfbfb"/><stop offset=".533" stop-color="#f3f3f3"/><stop offset=".542" stop-color="#eaeaea"/><stop offset=".561" stop-color="#d2d2d2"/><stop offset=".583" stop-color="#afafaf"/><stop offset=".611" stop-color="#7e7e7e"/><stop offset=".63" stop-color="#606060"/><stop offset=".643" stop-color="#4e4e4e"/><stop offset=".661" stop-color="#373737"/><stop offset=".68" stop-color="#252525"/><stop offset=".702" stop-color="#161616"/><stop offset=".715" stop-color="#101010"/><stop offset=".743" stop-color="#070707"/><stop offset=".777" stop-color="#020202"/><stop offset=".821" stop-color="#000000"/><stop offset="1" stop-color="#000000"/></linearGradient>
<linearGradient id="c103" x1="0" y1="0" x2="0" y2="1"><stop offset="0" stop-color="#000000"/><stop offset=".141" stop-color="#000000"/><stop offset=".194" stop-color="#020202"/><stop offset=".226" stop-color="#050505"/><stop offset=".248" stop-color="#090909"/><stop offset=".27" stop-color="#0f0f0f"/><stop offset=".288" stop-color="#171717"/><stop offset=".31" stop-color="#242424"/><stop offset=".323" stop-color="#2e2e2e"/><stop offset=".342" stop-color="#404040"/><stop offset=".357" stop-color="#525252"/><stop offset=".382" stop-color="#757575"/><stop offset=".439" stop-color="#cecece"/><stop offset=".458" stop-color="#e6e6e6"/><stop offset=".47" stop-color="#f2f2f2"/><stop offset=".48" stop-color="#f9f9f9"/><stop offset=".498" stop-color="#ffffff"/><stop offset=".514" stop-color="#fcfcfc"/><stop offset=".527" stop-color="#f4f4f4"/><stop offset=".545" stop-color="#e1e1e1"/><stop offset=".558" stop-color="#d0d0d0"/><stop offset=".58" stop-color="#adadad"/><stop offset=".602" stop-color="#878787"/><stop offset=".63" stop-color="#5a5a5a"/><stop offset=".639" stop-color="#4d4d4d"/><stop offset=".649" stop-color="#414141"/><stop offset=".671" stop-color="#2a2a2a"/><stop offset=".683" stop-color="#202020"/><stop offset=".699" stop-color="#161616"/><stop offset=".712" stop-color="#101010"/><stop offset=".74" stop-color="#070707"/><stop offset=".774" stop-color="#020202"/><stop offset=".818" stop-color="#000000"/><stop offset="1" stop-color="#000000"/></linearGradient>
<linearGradient id="c104" x1="0" y1="0" x2="0" y2="1"><stop offset="0" stop-color="#000000"/><stop offset=".132" stop-color="#000000"/><stop offset=".201" stop-color="#030303"/><stop offset=".241" stop-color="#090909"/><stop offset=".26" stop-color="#0e0e0e"/><stop offset=".282" stop-color="#171717"/><stop offset=".313" stop-color="#2b2b2b"/><stop offset=".329" stop-color="#393939"/><stop offset=".345" stop-color="#4a4a4a"/><stop offset=".364" stop-color="#626262"/><stop offset=".376" stop-color="#747474"/><stop offset=".42" stop-color="#bababa"/><stop offset=".436" stop-color="#d1d1d1"/><stop offset=".451" stop-color="#e5e5e5"/><stop offset=".47" stop-color="#f6f6f6"/><stop offset=".483" stop-color="#fdfdfd"/><stop offset=".492" stop-color="#ffffff"/><stop offset=".498" stop-color="#ffffff"/><stop offset=".511" stop-color="#fbfbfb"/><stop offset=".524" stop-color="#f3f3f3"/><stop offset=".539" stop-color="#e3e3e3"/><stop offset=".555" stop-color="#cecece"/><stop offset=".577" stop-color="#ababab"/><stop offset=".605" stop-color="#7b7b7b"/><stop offset=".621" stop-color="#626262"/><stop offset=".636" stop-color="#4c4c4c"/><stop offset=".652" stop-color="#393939"/><stop offset=".671" stop-color="#272727"/><stop offset=".699" stop-color="#141414"/><stop offset=".721" stop-color="#0b0b0b"/><stop offset=".737" stop-color="#070707"/><stop offset=".771" stop-color="#020202"/><stop offset=".818" stop-color="#000000"/><stop offset="1" stop-color="#000000"/></linearGradient>
<linearGradient id="c105" x1="0" y1="0" x2="0" y2="1"><stop offset="0" stop-color="#000000"/><stop offset=".125" stop-color="#000000"/><stop offset=".194" stop-color="#030303"/><stop offset=".235" stop-color="#090909"/><stop offset=".254" stop-color="#0e0e0e"/><stop offset=".276" stop-color="#171717"/><stop offset=".301" stop-color="#262626"/><stop offset=".313" stop-color="#303030"/><stop offset=".335" stop-color="#464646"/><stop offset=".364" stop-color="#6a6a6a"/><stop offset=".42" stop-color="#c2c2c2"/><stop offset=".442" stop-color="#e0e0e0"/><stop offset=".461" stop-color="#f3f3f3"/><stop offset=".473" stop-color="#fbfbfb"/><stop offset=".486" stop-color="#ffffff"/><stop offset=".505" stop-color="#fcfcfc"/><stop offset=".524" stop-color="#efefef"/><stop offset=".533" stop-color="#e5e5e5"/><stop offset=".552" stop-color="#cccccc"/><stop offset=".618" stop-color="#616161"/><stop offset=".633" stop-color="#4b4b4b"/><stop offset=".646" stop-color="#3c3c3c"/><stop offset=".661" stop-color="#2c2c2c"/><stop offset=".68" stop-color="#1d1d1d"/><stop offset=".696" stop-color="#141414"/><stop offset=".715" stop-color="#0c0c0c"/><stop offset=".734" stop-color="#070707"/><stop offset=".768" stop-color="#020202"/><stop offset=".815" stop-color="#000000"/><stop offset="1" stop-color="#000000"/></linearGradient>
<linearGradient id="c106" x1="0" y1="0" x2="0" y2="1"><stop offset="0" stop-color="#000000"/><stop offset=".119" stop-color="#000000"/><stop offset=".188" stop-color="#030303"/><stop offset=".229" stop-color="#090909"/><stop offset=".248" stop-color="#0e0e0e"/><stop offset=".27" stop-color="#171717"/><stop offset=".301" stop-color="#2b2b2b"/><stop offset=".332" stop-color="#494949"/><stop offset=".354" stop-color="#656565"/><stop offset=".367" stop-color="#777777"/><stop offset=".42" stop-color="#cacaca"/><stop offset=".442" stop-color="#e6e6e6"/><stop offset=".455" stop-color="#f2f2f2"/><stop offset=".464" stop-color="#f9f9f9"/><stop offset=".483" stop-color="#ffffff"/><stop offset=".489" stop-color="#ffffff"/><stop offset=".502" stop-color="#fbfbfb"/><stop offset=".514" stop-color="#f3f3f3"/><stop offset=".533" stop-color="#e0e0e0"/><stop offset=".555" stop-color="#c1c1c1"/><stop offset=".592" stop-color="#828282"/><stop offset=".621" stop-color="#575757"/><stop offset=".646" stop-color="#383838"/><stop offset=".661" stop-color="#292929"/><stop offset=".687" stop-color="#171717"/><stop offset=".712" stop-color="#0c0c0c"/><stop offset=".73" stop-color="#070707"/><stop offset=".781" stop-color="#010101"/><stop offset="1" stop-color="#000000"/></linearGradient>
<linearGradient id="c107" x1="0" y1="0" x2="0" y2="1"><stop offset="0" stop-color="#000000"/><stop offset=".113" stop-color="#000000"/><stop offset=".182" stop-color="#030303"/><stop offset=".223" stop-color="#090909"/><stop offset=".241" stop-color="#0e0e0e"/><stop offset=".27" stop-color="#1a1a1a"/><stop offset=".298" stop-color="#2d2d2d"/><stop offset=".313" stop-color="#3b3b3b"/><stop offset=".329" stop-color="#4c4c4c"/><stop offset=".348" stop-color="#646464"/><stop offset=".361" stop-color="#767676"/><stop offset=".417" stop-color="#cdcdcd"/><stop offset=".439" stop-color="#e8e8e8"/><stop offset=".448" stop-color="#f1f1f1"/><stop offset=".461" stop-color="#fafafa"/><stop offset=".476" stop-color="#ffffff"/><stop offset=".486" stop-color="#ffffff"/><stop offset=".502" stop-color="#f9f9f9"/><stop offset=".511" stop-color="#f2f2f2"/><stop offset=".527" stop-color="#e2e2e2"/><stop offset=".549" stop-color="#c4c4c4"/><stop offset=".583" stop-color="#8b8b8b"/><stop offset=".605" stop-color="#686868"/><stop offset=".618" stop-color="#565656"/><stop offset=".633" stop-color="#424242"/><stop offset=".646" stop-color="#343434"/><stop offset=".668" stop-color="#212121"/><stop offset=".683" stop-color="#171717"/><stop offset=".705" stop-color="#0d0d0d"/><stop offset=".727" stop-color="#070707"/><stop offset=".777" stop-color="#010101"/><stop offset="1" stop-color="#000000"/></linearGradient>
<linearGradient id="c108" x1="0" y1="0" x2="0" y2="1"><stop offset="0" stop-color="#000000"/><stop offset=".107" stop-color="#000000"/><stop offset=".176" stop-color="#030303"/><stop offset=".201" stop-color="#060606"/><stop offset=".232" stop-color="#0d0d0d"/><stop offset=".263" stop-color="#1a1a1a"/><stop offset=".285" stop-color="#282828"/><stop offset=".298" stop-color="#323232"/><stop offset=".313" stop-color="#414141"/><stop offset=".329" stop-color="#535353"/><stop offset=".354" stop-color="#757575"/><stop offset=".408" stop-color="#c7c7c7"/><stop offset=".433" stop-color="#e7e7e7"/><stop offset=".451" stop-color="#f7f7f7"/><stop offset=".458" stop-color="#fbfbfb"/><stop offset=".47" stop-color="#ffffff"/><stop offset=".486" stop-color="#fefefe"/><stop offset=".495" stop-color="#fafafa"/><stop offset=".514" stop-color="#ebebeb"/><stop offset=".542" stop-color="#c7c7c7"/><stop offset=".602" stop-color="#676767"/><stop offset=".624" stop-color="#494949"/><stop offset=".636" stop-color="#3a3a3a"/><stop offset=".655" stop-color="#282828"/><stop offset=".68" stop-color="#171717"/><stop offset=".712" stop-color="#0a0a0a"/><stop offset=".762" stop-color="#020202"/><stop offset=".806" stop-color="#000000"/><stop offset="1" stop-color="#000000"/></linearGradient>
<linearGradient id="c109" x1="0" y1="0" x2="0" y2="1"><stop offset="0" stop-color="#000000"/><stop offset=".097" stop-color="#000000"/><stop offset=".179" stop-color="#040404"/><stop offset=".226" stop-color="#0d0d0d"/><stop offset=".245" stop-color="#141414"/><stop offset=".266" stop-color="#1f1f1f"/><stop offset=".288" stop-color="#2f2f2f"/><stop offset=".31" stop-color="#444444"/><stop offset=".326" stop-color="#565656"/><stop offset=".354" stop-color="#7d7d7d"/><stop offset=".404" stop-color="#cacaca"/><stop offset=".429" stop-color="#e9e9e9"/><stop offset=".442" stop-color="#f4f4f4"/><stop offset=".451" stop-color="#fafafa"/><stop offset=".467" stop-color="#ffffff"/><stop offset=".476" stop-color="#ffffff"/><stop offset=".489" stop-color="#fbfbfb"/><stop offset=".505" stop-color="#f0f0f0"/><stop offset=".517" stop-color="#e3e3e3"/><stop offset=".536" stop-color="#cacaca"/><stop offset=".589" stop-color="#747474"/><stop offset=".611" stop-color="#545454"/><stop offset=".621" stop-color="#484848"/><stop offset=".643" stop-color="#303030"/><stop offset=".652" stop-color="#282828"/><stop offset=".687" stop-color="#121212"/><stop offset=".721" stop-color="#070707"/><stop offset=".774" stop-color="#010101"/><stop offset="1" stop-color="#000000"/></linearGradient>
<linearGradient id="c110" x1="0" y1="0" x2="0" y2="1"><stop offset="0" stop-color="#000000"/><stop offset=".091" stop-color="#000000"/><stop offset=".172" stop-color="#040404"/><stop offset=".219" stop-color="#0d0d0d"/><stop offset=".241" stop-color="#151515"/><stop offset=".257" stop-color="#1d1d1d"/><stop offset=".279" stop-color="#2c2c2c"/><stop offset=".31" stop-color="#4a4a4a"/><stop offset=".335" stop-color="#6a6a6a"/><stop offset=".354" stop-color="#858585"/><stop offset=".395" stop-color="#c4c4c4"/><stop offset=".414" stop-color="#dddddd"/><stop offset=".426" stop-color="#ebebeb"/><stop offset=".436" stop-color="#f3f3f3"/><stop offset=".448" stop-color="#fbfbfb"/><stop offset=".461" stop-color="#ffffff"/><stop offset=".476" stop-color="#fefefe"/><stop offset=".486" stop-color="#fafafa"/><stop offset=".495" stop-color="#f4f4f4"/><stop offset=".511" stop-color="#e5e5e5"/><stop offset=".53" stop-color="#cdcdcd"/><stop offset=".539" stop-color="#bfbfbf"/><stop offset=".589" stop-color="#6e6e6e"/><stop offset=".602" stop-color="#5c5c5c"/><stop offset=".624" stop-color="#404040"/><stop offset=".652" stop-color="#252525"/><stop offset=".683" stop-color="#121212"/><stop offset=".718" stop-color="#070707"/><stop offset=".771" stop-color="#010101"/><stop offset="1" stop-color="#000000"/></linearGradient>
<linearGradient id="c111" x1="0" y1="0" x2="0" y2="1"><stop offset="0" stop-color="#000000"/><stop offset=".085" stop-color="#000000"/><stop offset=".166" stop-color="#040404"/><stop offset=".21" stop-color="#0c0c0c"/><stop offset=".248" stop-color="#1b1b1b"/><stop offset=".276" stop-color="#2e2e2e"/><stop offset=".307" stop-color="#4d4d4d"/><stop offset=".332" stop-color="#6d6d6d"/><stop offset=".382" stop-color="#b9b9b9"/><stop offset=".395" stop-color="#cbcbcb"/><stop offset=".414" stop-color="#e3e3e3"/><stop offset=".429" stop-color="#f2f2f2"/><stop offset=".445" stop-color="#fcfcfc"/><stop offset=".455" stop-color="#ffffff"/><stop offset=".467" stop-color="#ffffff"/><stop offset=".48" stop-color="#fbfbfb"/><stop offset=".492" stop-color="#f3f3f3"/><stop offset=".505" stop-color="#e7e7e7"/><stop offset=".52" stop-color="#d4d4d4"/><stop offset=".533" stop-color="#c2c2c2"/><stop offset=".586" stop-color="#6d6d6d"/><stop offset=".599" stop-color="#5b5b5b"/><stop offset=".618" stop-color="#434343"/><stop offset=".649" stop-color="#252525"/><stop offset=".665" stop-color="#1a1a1a"/><stop offset=".68" stop-color="#121212"/><stop offset=".715" stop-color="#070707"/><stop offset=".768" stop-color="#010101"/><stop offset="1" stop-color="#000000"/></linearGradient>
<linearGradient id="c112" x1="0" y1="0" x2="0" y2="1"><stop offset="0" stop-color="#000000"/><stop offset=".078" stop-color="#000000"/><stop offset=".16" stop-color="#040404"/><stop offset=".204" stop-color="#0c0c0c"/><stop offset=".219" stop-color="#111111"/><stop offset=".241" stop-color="#1b1b1b"/><stop offset=".263" stop-color="#292929"/><stop offset=".276" stop-color="#333333"/><stop offset=".292" stop-color="#424242"/><stop offset=".304" stop-color="#505050"/><stop offset=".332" stop-color="#757575"/><stop offset=".386" stop-color="#c5c5c5"/><stop offset=".411" stop-color="#e5e5e5"/><stop offset=".429" stop-color="#f6f6f6"/><stop offset=".445" stop-color="#fefefe"/><stop offset=".451" stop-color="#ffffff"/><stop offset=".464" stop-color="#ffffff"/><stop offset=".473" stop-color="#fcfcfc"/><stop offset=".489" stop-color="#f2f2f2"/><stop offset=".502" stop-color="#e6e6e6"/><stop offset=".511" stop-color="#dbdbdb"/><stop offset=".527" stop-color="#c5c5c5"/><stop offset=".583" stop-color="#6c6c6c"/><stop offset=".596" stop-color="#5a5a5a"/><stop offset=".611" stop-color="#464646"/><stop offset=".627" stop-color="#353535"/><stop offset=".643" stop-color="#272727"/><stop offset=".661" stop-color="#1a1a1a"/><stop offset=".677" stop-color="#121212"/><stop offset=".712" stop-color="#070707"/><stop offset=".765" stop-color="#010101"/><stop offset="1" stop-color="#000000"/></linearGradient>
<linearGradient id="c113" x1="0" y1="0" x2="0" y2="1"><stop offset="0" stop-color="#000000"/><stop offset=".11" stop-color="#010101"/><stop offset=".169" stop-color="#060606"/><stop offset=".197" stop-color="#0c0c0c"/><stop offset=".213" stop-color="#111111"/><stop offset=".245" stop-color="#202020"/><stop offset=".276" stop-color="#383838"/><stop offset=".298" stop-color="#4f4f4f"/><stop offset=".323" stop-color="#6f6f6f"/><stop offset=".376" stop-color="#bfbfbf"/><stop offset=".408" stop-color="#e7e7e7"/><stop offset=".417" stop-color="#f0f0f0"/><stop offset=".429" stop-color="#f9f9f9"/><stop offset=".445" stop-color="#ffffff"/><stop offset=".464" stop-color="#fefefe"/><stop offset=".473" stop-color="#fafafa"/><stop offset=".486" stop-color="#f1f1f1"/><stop offset=".495" stop-color="#e8e8e8"/><stop offset=".514" stop-color="#d1d1d1"/><stop offset=".527" stop-color="#bfbfbf"/><stop offset=".567" stop-color="#7e7e7e"/><stop offset=".586" stop-color="#626262"/><stop offset=".602" stop-color="#4d4d4d"/><stop offset=".618" stop-color="#3b3b3b"/><stop offset=".633" stop-color="#2c2c2c"/><stop offset=".646" stop-color="#222222"/><stop offset=".674" stop-color="#121212"/><stop offset=".693" stop-color="#0b0b0b"/><stop offset=".715" stop-color="#060606"/><stop offset=".762" stop-color="#010101"/><stop offset="1" stop-color="#000000"/></linearGradient>
<linearGradient id="c114" x1="0" y1="0" x2="0" y2="1"><stop offset="0" stop-color="#000000"/><stop offset=".103" stop-color="#010101"/><stop offset=".147" stop-color="#040404"/><stop offset=".188" stop-color="#0b0b0b"/><stop offset=".21" stop-color="#121212"/><stop offset=".235" stop-color="#1e1e1e"/><stop offset=".251" stop-color="#282828"/><stop offset=".263" stop-color="#323232"/><stop offset=".292" stop-color="#4e4e4e"/><stop offset=".32" stop-color="#727272"/><stop offset=".376" stop-color="#c6c6c6"/><stop offset=".398" stop-color="#e2e2e2"/><stop offset=".417" stop-color="#f4f4f4"/><stop offset=".433" stop-color="#fdfdfd"/><stop offset=".442" stop-color="#ffffff"/><stop offset=".455" stop-color="#ffffff"/><stop offset=".467" stop-color="#fbfbfb"/><stop offset=".476" stop-color="#f5f5f5"/><stop offset=".492" stop-color="#e7e7e7"/><stop offset=".517" stop-color="#c7c7c7"/><stop offset=".577" stop-color="#6a6a6a"/><stop offset=".605" stop-color="#454545"/><stop offset=".63" stop-color="#2c2c2c"/><stop offset=".643" stop-color="#222222"/><stop offset=".658" stop-color="#181818"/><stop offset=".671" stop-color="#121212"/><stop offset=".69" stop-color="#0b0b0b"/><stop offset=".712" stop-color="#060606"/><stop offset=".762" stop-color="#010101"/><stop offset="1" stop-color="#000000"/></linearGradient>
<linearGradient id="c115" x1="0" y1="0" x2="0" y2="1"><stop offset="0" stop-color="#000000"/><stop offset=".097" stop-color="#010101"/><stop offset=".141" stop-color="#040404"/><stop offset=".182" stop-color="#0b0b0b"/><stop offset=".207" stop-color="#131313"/><stop offset=".226" stop-color="#1c1c1c"/><stop offset=".248" stop-color="#2a2a2a"/><stop offset=".26" stop-color="#343434"/><stop offset=".285" stop-color="#4d4d4d"/><stop offset=".304" stop-color="#646464"/><stop offset=".323" stop-color="#7e7e7e"/><stop offset=".351" stop-color="#a9a9a9"/><stop offset=".376" stop-color="#cdcdcd"/><stop offset=".395" stop-color="#e4e4e4"/><stop offset=".414" stop-color="#f5f5f5"/><stop offset=".426" stop-color="#fcfcfc"/><stop offset=".436" stop-color="#ffffff"/><stop offset=".451" stop-color="#ffffff"/><stop offset=".458" stop-color="#fdfdfd"/><stop offset=".473" stop-color="#f4f4f4"/><stop offset=".486" stop-color="#e9e9e9"/><stop offset=".511" stop-color="#cacaca"/><stop offset=".53" stop-color="#aeaeae"/><stop offset=".561" stop-color="#7c7c7c"/><stop offset=".583" stop-color="#5c5c5c"/><stop offset=".596" stop-color="#4c4c4c"/><stop offset=".614" stop-color="#373737"/><stop offset=".63" stop-color="#292929"/><stop offset=".655" stop-color="#181818"/><stop offset=".668" stop-color="#121212"/><stop offset=".683" stop-color="#0c0c0c"/><stop offset=".708" stop-color="#060606"/><stop offset=".759" stop-color="#010101"/><stop offset="1" stop-color="#000000"/></linearGradient>
<linearGradient id="c116" x1="0" y1="0" x2="0" y2="1"><stop offset="0" stop-color="#000000"/><stop offset=".091" stop-color="#010101"/><stop offset=".144" stop-color="#050505"/><stop offset=".182" stop-color="#0d0d0d"/><stop offset=".201" stop-color="#131313"/><stop offset=".226" stop-color="#1f1f1f"/><stop offset=".257" stop-color="#363636"/><stop offset=".27" stop-color="#424242"/><stop offset=".288" stop-color="#575757"/><stop offset=".31" stop-color="#747474"/><stop offset=".367" stop-color="#c7c7c7"/><stop offset=".386" stop-color="#dfdfdf"/><stop offset=".408" stop-color="#f4f4f4"/><stop offset=".417" stop-color="#fafafa"/><stop offset=".429" stop-color="#ffffff"/><stop offset=".445" stop-color="#ffffff"/><stop offset=".458" stop-color="#fbfbfb"/><stop offset=".47" stop-color="#f3f3f3"/><stop offset=".483" stop-color="#e8e8e8"/><stop offset=".505" stop-color="#cdcdcd"/><stop offset=".517" stop-color="#bbbbbb"/><stop offset=".567" stop-color="#6d6d6d"/><stop offset=".599" stop-color="#444444"/><stop offset=".621" stop-color="#2e2e2e"/><stop offset=".633" stop-color="#242424"/><stop offset=".652" stop-color="#181818"/><stop offset=".665" stop-color="#121212"/><stop offset=".705" stop-color="#060606"/><stop offset=".755" stop-color="#010101"/><stop offset="1" stop-color="#000000"/></linearGradient>
<linearGradient id="c117" x1="0" y1="0" x2="0" y2="1"><stop offset="0" stop-color="#000000"/><stop offset=".085" stop-color="#010101"/><stop offset=".138" stop-color="#050505"/><stop offset=".166" stop-color="#0a0a0a"/><stop offset=".197" stop-color="#141414"/><stop offset=".216" stop-color="#1d1d1d"/><stop offset=".235" stop-color="#292929"/><stop offset=".248" stop-color="#333333"/><stop offset=".27" stop-color="#484848"/><stop offset=".282" stop-color="#565656"/><stop offset=".31" stop-color="#7b7b7b"/><stop offset=".361" stop-color="#c5c5c5"/><stop offset=".382" stop-color="#e1e1e1"/><stop offset=".401" stop-color="#f3f3f3"/><stop offset=".414" stop-color="#fbfbfb"/><stop offset=".426" stop-color="#ffffff"/><stop offset=".442" stop-color="#ffffff"/><stop offset=".451" stop-color="#fcfcfc"/><stop offset=".464" stop-color="#f5f5f5"/><stop offset=".48" stop-color="#e7e7e7"/><stop offset=".502" stop-color="#cccccc"/><stop offset=".517" stop-color="#b5b5b5"/><stop offset=".555" stop-color="#7a7a7a"/><stop offset=".574" stop-color="#5f5f5f"/><stop offset=".589" stop-color="#4b4b4b"/><stop offset=".605" stop-color="#3a3a3a"/><stop offset=".63" stop-color="#242424"/><stop offset=".649" stop-color="#181818"/><stop offset=".661" stop-color="#121212"/><stop offset=".693" stop-color="#080808"/><stop offset=".708" stop-color="#050505"/><stop offset=".752" stop-color="#010101"/><stop offset="1" stop-color="#000000"/></linearGradient>
<linearGradient id="c118" x1="0" y1="0" x2="0" y2="1"><stop offset="0" stop-color="#000000"/><stop offset=".078" stop-color="#010101"/><stop offset=".132" stop-color="#050505"/><stop offset=".16" stop-color="#0a0a0a"/><stop offset=".194" stop-color="#151515"/><stop offset=".207" stop-color="#1b1b1b"/><stop offset=".235" stop-color="#2d2d2d"/><stop offset=".263" stop-color="#474747"/><stop offset=".276" stop-color="#555555"/><stop offset=".298" stop-color="#717171"/><stop offset=".345" stop-color="#b6b6b6"/><stop offset=".367" stop-color="#d4d4d4"/><stop offset=".382" stop-color="#e6e6e6"/><stop offset=".392" stop-color="#efefef"/><stop offset=".408" stop-color="#fafafa"/><stop offset=".42" stop-color="#ffffff"/><stop offset=".439" stop-color="#ffffff"/><stop offset=".445" stop-color="#fdfdfd"/><stop offset=".461" stop-color="#f4f4f4"/><stop offset=".473" stop-color="#e9e9e9"/><stop offset=".495" stop-color="#cfcfcf"/><stop offset=".517" stop-color="#afafaf"/><stop offset=".558" stop-color="#707070"/><stop offset=".577" stop-color="#565656"/><stop offset=".589" stop-color="#474747"/><stop offset=".624" stop-color="#262626"/><stop offset=".646" stop-color="#181818"/><stop offset=".658" stop-color="#121212"/><stop offset=".69" stop-color="#080808"/><stop offset=".715" stop-color="#040404"/><stop offset=".749" stop-color="#010101"/><stop offset="1" stop-color="#000000"/></linearGradient>
<linearGradient id="c119" x1="0" y1="0" x2="0" y2="1"><stop offset="0" stop-color="#000000"/><stop offset=".072" stop-color="#010101"/><stop offset=".125" stop-color="#050505"/><stop offset=".166" stop-color="#0d0d0d"/><stop offset=".188" stop-color="#151515"/><stop offset=".207" stop-color="#1e1e1e"/><stop offset=".238" stop-color="#343434"/><stop offset=".257" stop-color="#464646"/><stop offset=".279" stop-color="#5f5f5f"/><stop offset=".298" stop-color="#787878"/><stop offset=".354" stop-color="#cacaca"/><stop offset=".373" stop-color="#e1e1e1"/><stop offset=".392" stop-color="#f3f3f3"/><stop offset=".404" stop-color="#fbfbfb"/><stop offset=".417" stop-color="#ffffff"/><stop offset=".433" stop-color="#ffffff"/><stop offset=".445" stop-color="#fbfbfb"/><stop offset=".458" stop-color="#f3f3f3"/><stop offset=".47" stop-color="#e8e8e8"/><stop offset=".483" stop-color="#dadada"/><stop offset=".498" stop-color="#c5c5c5"/><stop offset=".545" stop-color="#7d7d7d"/><stop offset=".564" stop-color="#626262"/><stop offset=".583" stop-color="#4a4a4a"/><stop offset=".605" stop-color="#333333"/><stop offset=".621" stop-color="#262626"/><stop offset=".643" stop-color="#181818"/><stop offset=".655" stop-color="#121212"/><stop offset=".693" stop-color="#070707"/><stop offset=".749" stop-color="#010101"/><stop offset="1" stop-color="#000000"/></linearGradient>
<linearGradient id="c120" x1="0" y1="0" x2="0" y2="1"><stop offset="0" stop-color="#000000"/><stop offset=".066" stop-color="#010101"/><stop offset=".119" stop-color="#050505"/><stop offset=".157" stop-color="#0c0c0c"/><stop offset=".176" stop-color="#121212"/><stop offset=".197" stop-color="#1c1c1c"/><stop offset=".223" stop-color="#2c2c2c"/><stop offset=".235" stop-color="#363636"/><stop offset=".26" stop-color="#4f4f4f"/><stop offset=".285" stop-color="#6e6e6e"/><stop offset=".339" stop-color="#bbbbbb"/><stop offset=".361" stop-color="#d8d8d8"/><stop offset=".373" stop-color="#e6e6e6"/><stop offset=".389" stop-color="#f4f4f4"/><stop offset=".398" stop-color="#fafafa"/><stop offset=".411" stop-color="#ffffff"/><stop offset=".429" stop-color="#ffffff"/><stop offset=".439" stop-color="#fcfcfc"/><stop offset=".451" stop-color="#f5f5f5"/><stop offset=".467" stop-color="#e7e7e7"/><stop offset=".483" stop-color="#d5d5d5"/><stop offset=".495" stop-color="#c4c4c4"/><stop offset=".549" stop-color="#737373"/><stop offset=".567" stop-color="#595959"/><stop offset=".583" stop-color="#464646"/><stop offset=".605" stop-color="#303030"/><stop offset=".618" stop-color="#262626"/><stop offset=".639" stop-color="#181818"/><stop offset=".652" stop-color="#121212"/><stop offset=".69" stop-color="#070707"/><stop offset=".746" stop-color="#010101"/><stop offset="1" stop-color="#000000"/></linearGradient>
<linearGradient id="c121" x1="0" y1="0" x2="0" y2="1"><stop offset="0" stop-color="#000000"/><stop offset=".06" stop-color="#010101"/><stop offset=".113" stop-color="#050505"/><stop offset=".15" stop-color="#0c0c0c"/><stop offset=".172" stop-color="#131313"/><stop offset=".197" stop-color="#1f1f1f"/><stop offset=".213" stop-color="#292929"/><stop offset=".232" stop-color="#383838"/><stop offset=".26" stop-color="#555555"/><stop offset=".295" stop-color="#828282"/><stop offset=".342" stop-color="#c6c6c6"/><stop offset=".364" stop-color="#e1e1e1"/><stop offset=".386" stop-color="#f5f5f5"/><stop offset=".398" stop-color="#fcfcfc"/><stop offset=".408" stop-color="#ffffff"/><stop offset=".426" stop-color="#ffffff"/><stop offset=".433" stop-color="#fdfdfd"/><stop offset=".448" stop-color="#f4f4f4"/><stop offset=".464" stop-color="#e6e6e6"/><stop offset=".489" stop-color="#c7c7c7"/><stop offset=".511" stop-color="#a7a7a7"/><stop offset=".536" stop-color="#808080"/><stop offset=".555" stop-color="#656565"/><stop offset=".574" stop-color="#4d4d4d"/><stop offset=".586" stop-color="#3f3f3f"/><stop offset=".602" stop-color="#303030"/><stop offset=".614" stop-color="#262626"/><stop offset=".636" stop-color="#181818"/><stop offset=".649" stop-color="#121212"/><stop offset=".687" stop-color="#070707"/><stop offset=".743" stop-color="#010101"/><stop offset="1" stop-color="#000000"/></linearGradient>
<linearGradient id="c122" x1="0" y1="0" x2="0" y2="1"><stop offset="0" stop-color="#000000"/><stop offset=".075" stop-color="#020202"/><stop offset=".107" stop-color="#050505"/><stop offset=".141" stop-color="#0b0b0b"/><stop offset=".169" stop-color="#141414"/><stop offset=".188" stop-color="#1d1d1d"/><stop offset=".213" stop-color="#2d2d2d"/><stop offset=".238" stop-color="#434343"/><stop offset=".254" stop-color="#545454"/><stop offset=".276" stop-color="#6f6f6f"/><stop offset=".326" stop-color="#b7b7b7"/><stop offset=".351" stop-color="#d8d8d8"/><stop offset=".364" stop-color="#e6e6e6"/><stop offset=".379" stop-color="#f4f4f4"/><stop offset=".389" stop-color="#fafafa"/><stop offset=".401" stop-color="#ffffff"/><stop offset=".426" stop-color="#fefefe"/><stop offset=".448" stop-color="#f1f1f1"/><stop offset=".461" stop-color="#e5e5e5"/><stop offset=".486" stop-color="#c6c6c6"/><stop offset=".539" stop-color="#767676"/><stop offset=".574" stop-color="#494949"/><stop offset=".608" stop-color="#282828"/><stop offset=".639" stop-color="#151515"/><stop offset=".683" stop-color="#070707"/><stop offset=".74" stop-color="#010101"/><stop offset="1" stop-color="#000000"/></linearGradient>
<linearGradient id="c123" x1="0" y1="0" x2="0" y2="1"><stop offset="0" stop-color="#000000"/><stop offset=".069" stop-color="#020202"/><stop offset=".116" stop-color="#070707"/><stop offset=".135" stop-color="#0b0b0b"/><stop offset=".166" stop-color="#151515"/><stop offset=".185" stop-color="#1e1e1e"/><stop offset=".204" stop-color="#2a2a2a"/><stop offset=".229" stop-color="#3f3f3f"/><stop offset=".254" stop-color="#5a5a5a"/><stop offset=".279" stop-color="#7a7a7a"/><stop offset=".329" stop-color="#c2c2c2"/><stop offset=".354" stop-color="#e1e1e1"/><stop offset=".376" stop-color="#f5f5f5"/><stop offset=".389" stop-color="#fcfcfc"/><stop offset=".398" stop-color="#ffffff"/><stop offset=".417" stop-color="#ffffff"/><stop offset=".426" stop-color="#fcfcfc"/><stop offset=".439" stop-color="#f5f5f5"/><stop offset=".458" stop-color="#e4e4e4"/><stop offset=".483" stop-color="#c5c5c5"/><stop offset=".539" stop-color="#717171"/><stop offset=".564" stop-color="#505050"/><stop offset=".577" stop-color="#424242"/><stop offset=".605" stop-color="#282828"/><stop offset=".63" stop-color="#181818"/><stop offset=".646" stop-color="#111111"/><stop offset=".68" stop-color="#070707"/><stop offset=".737" stop-color="#010101"/><stop offset="1" stop-color="#000000"/></linearGradient>
<linearGradient id="c124" x1="0" y1="0" x2="0" y2="1"><stop offset="0" stop-color="#010101"/><stop offset=".063" stop-color="#020202"/><stop offset=".116" stop-color="#080808"/><stop offset=".147" stop-color="#101010"/><stop offset=".163" stop-color="#161616"/><stop offset=".188" stop-color="#232323"/><stop offset=".219" stop-color="#3b3b3b"/><stop offset=".238" stop-color="#4e4e4e"/><stop offset=".254" stop-color="#606060"/><stop offset=".279" stop-color="#818181"/><stop offset=".323" stop-color="#c0c0c0"/><stop offset=".342" stop-color="#d8d8d8"/><stop offset=".354" stop-color="#e6e6e6"/><stop offset=".373" stop-color="#f6f6f6"/><stop offset=".389" stop-color="#fefefe"/><stop offset=".414" stop-color="#ffffff"/><stop offset=".426" stop-color="#fafafa"/><stop offset=".439" stop-color="#f2f2f2"/><stop offset=".461" stop-color="#dcdcdc"/><stop offset=".48" stop-color="#c4c4c4"/><stop offset=".539" stop-color="#6c6c6c"/><stop offset=".571" stop-color="#454545"/><stop offset=".586" stop-color="#353535"/><stop offset=".602" stop-color="#282828"/><stop offset=".633" stop-color="#151515"/><stop offset=".665" stop-color="#0a0a0a"/><stop offset=".69" stop-color="#050505"/><stop offset=".718" stop-color="#020202"/><stop offset=".768" stop-color="#000000"/><stop offset="1" stop-color="#000000"/></linearGradient>
<linearGradient id="c125" x1="0" y1="0" x2="0" y2="1"><stop offset="0" stop-color="#010101"/><stop offset=".056" stop-color="#020202"/><stop offset=".11" stop-color="#080808"/><stop offset=".147" stop-color="#121212"/><stop offset=".176" stop-color="#1f1f1f"/><stop offset=".204" stop-color="#323232"/><stop offset=".235" stop-color="#505050"/><stop offset=".27" stop-color="#7b7b7b"/><stop offset=".307" stop-color="#b1b1b1"/><stop offset=".323" stop-color="#c6c6c6"/><stop offset=".345" stop-color="#e1e1e1"/><stop offset=".361" stop-color="#f0f0f0"/><stop offset=".379" stop-color="#fcfcfc"/><stop offset=".389" stop-color="#ffffff"/><stop offset=".411" stop-color="#ffffff"/><stop offset=".426" stop-color="#f8f8f8"/><stop offset=".436" stop-color="#f1f1f1"/><stop offset=".458" stop-color="#dbdbdb"/><stop offset=".473" stop-color="#c7c7c7"/><stop offset=".536" stop-color="#6b6b6b"/><stop offset=".558" stop-color="#4f4f4f"/><stop offset=".571" stop-color="#414141"/><stop offset=".596" stop-color="#2a2a2a"/><stop offset=".611" stop-color="#1f1f1f"/><stop offset=".63" stop-color="#151515"/><stop offset=".661" stop-color="#0a0a0a"/><stop offset=".687" stop-color="#050505"/><stop offset=".715" stop-color="#020202"/><stop offset=".765" stop-color="#000000"/><stop offset="1" stop-color="#000000"/></linearGradient>
<linearGradient id="c126" x1="0" y1="0" x2="0" y2="1"><stop offset="0" stop-color="#010101"/><stop offset=".066" stop-color="#030303"/><stop offset=".11" stop-color="#090909"/><stop offset=".147" stop-color="#141414"/><stop offset=".172" stop-color="#202020"/><stop offset=".185" stop-color="#282828"/><stop offset=".21" stop-color="#3c3c3c"/><stop offset=".241" stop-color="#5d5d5d"/><stop offset=".273" stop-color="#868686"/><stop offset=".31" stop-color="#bcbcbc"/><stop offset=".332" stop-color="#d8d8d8"/><stop offset=".345" stop-color="#e6e6e6"/><stop offset=".364" stop-color="#f6f6f6"/><stop offset=".379" stop-color="#fefefe"/><stop offset=".404" stop-color="#ffffff"/><stop offset=".414" stop-color="#fcfcfc"/><stop offset=".426" stop-color="#f5f5f5"/><stop offset=".455" stop-color="#dadada"/><stop offset=".476" stop-color="#bdbdbd"/><stop offset=".533" stop-color="#6a6a6a"/><stop offset=".552" stop-color="#525252"/><stop offset=".564" stop-color="#444444"/><stop offset=".586" stop-color="#2f2f2f"/><stop offset=".599" stop-color="#252525"/><stop offset=".611" stop-color="#1d1d1d"/><stop offset=".633" stop-color="#121212"/><stop offset=".658" stop-color="#0a0a0a"/><stop offset=".677" stop-color="#060606"/><stop offset=".73" stop-color="#010101"/><stop offset="1" stop-color="#000000"/></linearGradient>
<linearGradient id="c127" x1="0" y1="0" x2="0" y2="1"><stop offset="0" stop-color="#010101"/><stop offset=".047" stop-color="#020202"/><stop offset=".103" stop-color="#090909"/><stop offset=".144" stop-color="#151515"/><stop offset=".163" stop-color="#1e1e1e"/><stop offset=".194" stop-color="#333333"/><stop offset=".226" stop-color="#515151"/><stop offset=".248" stop-color="#6b6b6b"/><stop offset=".273" stop-color="#8d8d8d"/><stop offset=".304" stop-color="#bababa"/><stop offset=".329" stop-color="#dadada"/><stop offset=".351" stop-color="#f0f0f0"/><stop offset=".37" stop-color="#fcfcfc"/><stop offset=".379" stop-color="#ffffff"/><stop offset=".401" stop-color="#ffffff"/><stop offset=".414" stop-color="#fafafa"/><stop offset=".426" stop-color="#f2f2f2"/><stop offset=".445" stop-color="#e0e0e0"/><stop offset=".455" stop-color="#d5d5d5"/><stop offset=".47" stop-color="#c0c0c0"/><stop offset=".533" stop-color="#656565"/><stop offset=".545" stop-color="#555555"/><stop offset=".564" stop-color="#404040"/><stop offset=".58" stop-color="#313131"/><stop offset=".592" stop-color="#272727"/><stop offset=".611" stop-color="#1b1b1b"/><stop offset=".63" stop-color="#121212"/><stop offset=".668" stop-color="#070707"/><stop offset=".727" stop-color="#010101"/><stop offset="1" stop-color="#000000"/></linearGradient>
<linearGradient id="c128" x1="0" y1="0" x2="0" y2="1"><stop offset="0" stop-color="#010101"/><stop offset=".041" stop-color="#020202"/><stop offset=".094" stop-color="#080808"/><stop offset=".129" stop-color="#111111"/><stop offset=".16" stop-color="#1f1f1f"/><stop offset=".188" stop-color="#323232"/><stop offset=".223" stop-color="#535353"/><stop offset=".257" stop-color="#7e7e7e"/><stop offset=".301" stop-color="#bcbcbc"/><stop offset=".323" stop-color="#d8d8d8"/><stop offset=".339" stop-color="#e9e9e9"/><stop offset=".348" stop-color="#f1f1f1"/><stop offset=".364" stop-color="#fbfbfb"/><stop offset=".376" stop-color="#ffffff"/><stop offset=".398" stop-color="#ffffff"/><stop offset=".408" stop-color="#fbfbfb"/><stop offset=".423" stop-color="#f1f1f1"/><stop offset=".442" stop-color="#dfdfdf"/><stop offset=".467" stop-color="#bfbfbf"/><stop offset=".52" stop-color="#717171"/><stop offset=".555" stop-color="#464646"/><stop offset=".577" stop-color="#313131"/><stop offset=".589" stop-color="#272727"/><stop offset=".608" stop-color="#1b1b1b"/><stop offset=".627" stop-color="#121212"/><stop offset=".665" stop-color="#070707"/><stop offset=".724" stop-color="#010101"/><stop offset="1" stop-color="#000000"/></linearGradient>
<linearGradient id="c129" x1="0" y1="0" x2="0" y2="1"><stop offset="0" stop-color="#010101"/><stop offset=".06" stop-color="#040404"/><stop offset=".107" stop-color="#0c0c0c"/><stop offset=".141" stop-color="#181818"/><stop offset=".172" stop-color="#2a2a2a"/><stop offset=".191" stop-color="#393939"/><stop offset=".21" stop-color="#4b4b4b"/><stop offset=".229" stop-color="#606060"/><stop offset=".26" stop-color="#898989"/><stop offset=".295" stop-color="#bababa"/><stop offset=".32" stop-color="#dadada"/><stop offset=".329" stop-color="#e4e4e4"/><stop offset=".345" stop-color="#f2f2f2"/><stop offset=".364" stop-color="#fdfdfd"/><stop offset=".37" stop-color="#ffffff"/><stop offset=".392" stop-color="#ffffff"/><stop offset=".401" stop-color="#fcfcfc"/><stop offset=".414" stop-color="#f5f5f5"/><stop offset=".442" stop-color="#dadada"/><stop offset=".47" stop-color="#b5b5b5"/><stop offset=".517" stop-color="#707070"/><stop offset=".542" stop-color="#505050"/><stop offset=".558" stop-color="#3f3f3f"/><stop offset=".583" stop-color="#292929"/><stop offset=".608" stop-color="#191919"/><stop offset=".624" stop-color="#121212"/><stop offset=".661" stop-color="#070707"/><stop offset=".721" stop-color="#010101"/><stop offset="1" stop-color="#000000"/></linearGradient>
<linearGradient id="c130" x1="0" y1="0" x2="0" y2="1"><stop offset="0" stop-color="#010101"/><stop offset=".044" stop-color="#030303"/><stop offset=".097" stop-color="#0b0b0b"/><stop offset=".138" stop-color="#191919"/><stop offset=".172" stop-color="#2e2e2e"/><stop offset=".185" stop-color="#383838"/><stop offset=".207" stop-color="#4d4d4d"/><stop offset=".229" stop-color="#666666"/><stop offset=".254" stop-color="#878787"/><stop offset=".288" stop-color="#b8b8b8"/><stop offset=".32" stop-color="#dfdfdf"/><stop offset=".339" stop-color="#f1f1f1"/><stop offset=".354" stop-color="#fbfbfb"/><stop offset=".367" stop-color="#ffffff"/><stop offset=".389" stop-color="#ffffff"/><stop offset=".401" stop-color="#fafafa"/><stop offset=".414" stop-color="#f2f2f2"/><stop offset=".426" stop-color="#e7e7e7"/><stop offset=".439" stop-color="#d9d9d9"/><stop offset=".458" stop-color="#c1c1c1"/><stop offset=".517" stop-color="#6b6b6b"/><stop offset=".549" stop-color="#454545"/><stop offset=".577" stop-color="#2b2b2b"/><stop offset=".592" stop-color="#202020"/><stop offset=".618" stop-color="#131313"/><stop offset=".658" stop-color="#070707"/><stop offset=".718" stop-color="#010101"/><stop offset="1" stop-color="#000000"/></linearGradient>
<linearGradient id="c131" x1="0" y1="0" x2="0" y2="1"><stop offset="0" stop-color="#020202"/><stop offset=".022" stop-color="#020202"/><stop offset=".056" stop-color="#050505"/><stop offset=".103" stop-color="#0e0e0e"/><stop offset=".135" stop-color="#1a1a1a"/><stop offset=".166" stop-color="#2d2d2d"/><stop offset=".188" stop-color="#3f3f3f"/><stop offset=".216" stop-color="#5d5d5d"/><stop offset=".248" stop-color="#858585"/><stop offset=".285" stop-color="#bababa"/><stop offset=".307" stop-color="#d6d6d6"/><stop offset=".323" stop-color="#e7e7e7"/><stop offset=".335" stop-color="#f2f2f2"/><stop offset=".354" stop-color="#fdfdfd"/><stop offset=".361" stop-color="#ffffff"/><stop offset=".386" stop-color="#ffffff"/><stop offset=".404" stop-color="#f6f6f6"/><stop offset=".417" stop-color="#ececec"/><stop offset=".436" stop-color="#d8d8d8"/><stop offset=".455" stop-color="#c0c0c0"/><stop offset=".517" stop-color="#666666"/><stop offset=".536" stop-color="#4f4f4f"/><stop offset=".555" stop-color="#3b3b3b"/><stop offset=".583" stop-color="#242424"/><stop offset=".614" stop-color="#131313"/><stop offset=".646" stop-color="#090909"/><stop offset=".661" stop-color="#060606"/><stop offset=".715" stop-color="#010101"/><stop offset="1" stop-color="#000000"/></linearGradient>
<linearGradient id="c132" x1="0" y1="0" x2="0" y2="1"><stop offset="0" stop-color="#020202"/><stop offset=".044" stop-color="#040404"/><stop offset=".072" stop-color="#080808"/><stop offset=".094" stop-color="#0d0d0d"/><stop offset=".125" stop-color="#181818"/><stop offset=".141" stop-color="#202020"/><stop offset=".16" stop-color="#2c2c2c"/><stop offset=".182" stop-color="#3e3e3e"/><stop offset=".194" stop-color="#4a4a4a"/><stop offset=".213" stop-color="#5f5f5f"/><stop offset=".241" stop-color="#838383"/><stop offset=".282" stop-color="#bcbcbc"/><stop offset=".301" stop-color="#d4d4d4"/><stop offset=".313" stop-color="#e2e2e2"/><stop offset=".332" stop-color="#f3f3f3"/><stop offset=".348" stop-color="#fcfcfc"/><stop offset=".357" stop-color="#ffffff"/><stop offset=".379" stop-color="#ffffff"/><stop offset=".392" stop-color="#fbfbfb"/><stop offset=".404" stop-color="#f3f3f3"/><stop offset=".42" stop-color="#e5e5e5"/><stop offset=".433" stop-color="#d7d7d7"/><stop offset=".458" stop-color="#b6b6b6"/><stop offset=".505" stop-color="#727272"/><stop offset=".53" stop-color="#525252"/><stop offset=".542" stop-color="#444444"/><stop offset=".558" stop-color="#353535"/><stop offset=".577" stop-color="#262626"/><stop offset=".592" stop-color="#1c1c1c"/><stop offset=".611" stop-color="#131313"/><stop offset=".643" stop-color="#090909"/><stop offset=".658" stop-color="#060606"/><stop offset=".712" stop-color="#010101"/><stop offset="1" stop-color="#000000"/></linearGradient>
<linearGradient id="c133" x1="0" y1="0" x2="0" y2="1"><stop offset="0" stop-color="#020202"/><stop offset=".047" stop-color="#050505"/><stop offset=".082" stop-color="#0b0b0b"/><stop offset=".122" stop-color="#191919"/><stop offset=".15" stop-color="#292929"/><stop offset=".172" stop-color="#3a3a3a"/><stop offset=".201" stop-color="#565656"/><stop offset=".235" stop-color="#818181"/><stop offset=".266" stop-color="#adadad"/><stop offset=".295" stop-color="#d2d2d2"/><stop offset=".307" stop-color="#e0e0e0"/><stop offset=".323" stop-color="#efefef"/><stop offset=".335" stop-color="#f8f8f8"/><stop offset=".351" stop-color="#ffffff"/><stop offset=".376" stop-color="#ffffff"/><stop offset=".386" stop-color="#fcfcfc"/><stop offset=".401" stop-color="#f2f2f2"/><stop offset=".417" stop-color="#e4e4e4"/><stop offset=".429" stop-color="#d6d6d6"/><stop offset=".455" stop-color="#b5b5b5"/><stop offset=".505" stop-color="#6d6d6d"/><stop offset=".536" stop-color="#474747"/><stop offset=".558" stop-color="#323232"/><stop offset=".571" stop-color="#282828"/><stop offset=".589" stop-color="#1c1c1c"/><stop offset=".608" stop-color="#131313"/><stop offset=".639" stop-color="#090909"/><stop offset=".655" stop-color="#060606"/><stop offset=".708" stop-color="#010101"/><stop offset="1" stop-color="#000000"/></linearGradient>
<linearGradient id="c134" x1="0" y1="0" x2="0" y2="1"><stop offset="0" stop-color="#020202"/><stop offset=".041" stop-color="#050505"/><stop offset=".075" stop-color="#0b0b0b"/><stop offset=".113" stop-color="#171717"/><stop offset=".141" stop-color="#262626"/><stop offset=".166" stop-color="#393939"/><stop offset=".197" stop-color="#585858"/><stop offset=".229" stop-color="#7f7f7f"/><stop offset=".282" stop-color="#c8c8c8"/><stop offset=".298" stop-color="#dbdbdb"/><stop offset=".31" stop-color="#e8e8e8"/><stop offset=".329" stop-color="#f7f7f7"/><stop offset=".339" stop-color="#fcfcfc"/><stop offset=".348" stop-color="#ffffff"/><stop offset=".373" stop-color="#ffffff"/><stop offset=".386" stop-color="#fafafa"/><stop offset=".395" stop-color="#f4f4f4"/><stop offset=".417" stop-color="#e0e0e0"/><stop offset=".442" stop-color="#c1c1c1"/><stop offset=".492" stop-color="#797979"/><stop offset=".508" stop-color="#646464"/><stop offset=".539" stop-color="#404040"/><stop offset=".567" stop-color="#282828"/><stop offset=".586" stop-color="#1c1c1c"/><stop offset=".605" stop-color="#131313"/><stop offset=".636" stop-color="#090909"/><stop offset=".652" stop-color="#060606"/><stop offset=".705" stop-color="#010101"/><stop offset="1" stop-color="#000000"/></linearGradient>
<linearGradient id="c135" x1="0" y1="0" x2="0" y2="1"><stop offset="0" stop-color="#030303"/><stop offset=".016" stop-color="#030303"/><stop offset=".044" stop-color="#060606"/><stop offset=".078" stop-color="#0d0d0d"/><stop offset=".11" stop-color="#181818"/><stop offset=".122" stop-color="#1e1e1e"/><stop offset=".147" stop-color="#2e2e2e"/><stop offset=".169" stop-color="#404040"/><stop offset=".194" stop-color="#5a5a5a"/><stop offset=".226" stop-color="#818181"/><stop offset=".26" stop-color="#b1b1b1"/><stop offset=".292" stop-color="#d9d9d9"/><stop offset=".31" stop-color="#ececec"/><stop offset=".332" stop-color="#fbfbfb"/><stop offset=".345" stop-color="#ffffff"/><stop offset=".367" stop-color="#ffffff"/><stop offset=".379" stop-color="#fbfbfb"/><stop offset=".395" stop-color="#f1f1f1"/><stop offset=".42" stop-color="#d8d8d8"/><stop offset=".448" stop-color="#b3b3b3"/><stop offset=".492" stop-color="#747474"/><stop offset=".517" stop-color="#545454"/><stop offset=".533" stop-color="#434343"/><stop offset=".549" stop-color="#343434"/><stop offset=".561" stop-color="#2a2a2a"/><stop offset=".586" stop-color="#1a1a1a"/><stop offset=".602" stop-color="#131313"/><stop offset=".633" stop-color="#090909"/><stop offset=".649" stop-color="#060606"/><stop offset=".702" stop-color="#010101"/><stop offset="1" stop-color="#000000"/></linearGradient>
<linearGradient id="c136" x1="0" y1="0" x2="0" y2="1"><stop offset="0" stop-color="#030303"/><stop offset=".031" stop-color="#050505"/><stop offset=".066" stop-color="#0b0b0b"/><stop offset=".1" stop-color="#161616"/><stop offset=".119" stop-color="#1f1f1f"/><stop offset=".141" stop-color="#2d2d2d"/><stop offset=".16" stop-color="#3c3c3c"/><stop offset=".179" stop-color="#4e4e4e"/><stop offset=".191" stop-color="#5c5c5c"/><stop offset=".219" stop-color="#7f7f7f"/><stop offset=".257" stop-color="#b3b3b3"/><stop offset=".282" stop-color="#d3d3d3"/><stop offset=".307" stop-color="#ededed"/><stop offset=".332" stop-color="#fdfdfd"/><stop offset=".339" stop-color="#ffffff"/><stop offset=".364" stop-color="#ffffff"/><stop offset=".373" stop-color="#fcfcfc"/><stop offset=".386" stop-color="#f5f5f5"/><stop offset=".417" stop-color="#d7d7d7"/><stop offset=".436" stop-color="#bfbfbf"/><stop offset=".492" stop-color="#6f6f6f"/><stop offset=".524" stop-color="#494949"/><stop offset=".545" stop-color="#343434"/><stop offset=".558" stop-color="#2a2a2a"/><stop offset=".583" stop-color="#1a1a1a"/><stop offset=".596" stop-color="#141414"/><stop offset=".63" stop-color="#090909"/><stop offset=".646" stop-color="#060606"/><stop offset=".702" stop-color="#010101"/><stop offset="1" stop-color="#000000"/></linearGradient>
<linearGradient id="c137" x1="0" y1="0" x2="0" y2="1"><stop offset="0" stop-color="#040404"/><stop offset=".025" stop-color="#050505"/><stop offset=".072" stop-color="#0e0e0e"/><stop offset=".103" stop-color="#1a1a1a"/><stop offset=".116" stop-color="#202020"/><stop offset=".135" stop-color="#2c2c2c"/><stop offset=".15" stop-color="#383838"/><stop offset=".176" stop-color="#505050"/><stop offset=".194" stop-color="#656565"/><stop offset=".216" stop-color="#818181"/><stop offset=".254" stop-color="#b5b5b5"/><stop offset=".276" stop-color="#d1d1d1"/><stop offset=".288" stop-color="#dfdfdf"/><stop offset=".304" stop-color="#eeeeee"/><stop offset=".32" stop-color="#f9f9f9"/><stop offset=".335" stop-color="#ffffff"/><stop offset=".361" stop-color="#ffffff"/><stop offset=".373" stop-color="#fafafa"/><stop offset=".386" stop-color="#f2f2f2"/><stop offset=".401" stop-color="#e4e4e4"/><stop offset=".414" stop-color="#d6d6d6"/><stop offset=".433" stop-color="#bebebe"/><stop offset=".48" stop-color="#7b7b7b"/><stop offset=".508" stop-color="#575757"/><stop offset=".53" stop-color="#3f3f3f"/><stop offset=".545" stop-color="#313131"/><stop offset=".564" stop-color="#232323"/><stop offset=".592" stop-color="#141414"/><stop offset=".627" stop-color="#090909"/><stop offset=".643" stop-color="#060606"/><stop offset=".699" stop-color="#010101"/><stop offset="1" stop-color="#000000"/></linearGradient>
<linearGradient id="c138" x1="0" y1="0" x2="0" y2="1"><stop offset="0" stop-color="#040404"/><stop offset=".028" stop-color="#060606"/><stop offset=".06" stop-color="#0c0c0c"/><stop offset=".097" stop-color="#191919"/><stop offset=".129" stop-color="#2b2b2b"/><stop offset=".154" stop-color="#3f3f3f"/><stop offset=".182" stop-color="#5c5c5c"/><stop offset=".213" stop-color="#838383"/><stop offset=".266" stop-color="#cbcbcb"/><stop offset=".282" stop-color="#dddddd"/><stop offset=".301" stop-color="#efefef"/><stop offset=".313" stop-color="#f8f8f8"/><stop offset=".329" stop-color="#ffffff"/><stop offset=".357" stop-color="#ffffff"/><stop offset=".376" stop-color="#f6f6f6"/><stop offset=".389" stop-color="#ececec"/><stop offset=".411" stop-color="#d5d5d5"/><stop offset=".433" stop-color="#b9b9b9"/><stop offset=".483" stop-color="#727272"/><stop offset=".502" stop-color="#5a5a5a"/><stop offset=".52" stop-color="#454545"/><stop offset=".536" stop-color="#363636"/><stop offset=".558" stop-color="#252525"/><stop offset=".589" stop-color="#141414"/><stop offset=".63" stop-color="#080808"/><stop offset=".655" stop-color="#040404"/><stop offset=".696" stop-color="#010101"/><stop offset="1" stop-color="#000000"/></linearGradient>
<linearGradient id="c139" x1="0" y1="0" x2="0" y2="1"><stop offset="0" stop-color="#050505"/><stop offset=".016" stop-color="#050505"/><stop offset=".05" stop-color="#0b0b0b"/><stop offset=".094" stop-color="#1a1a1a"/><stop offset=".122" stop-color="#2a2a2a"/><stop offset=".144" stop-color="#3b3b3b"/><stop offset=".166" stop-color="#505050"/><stop offset=".185" stop-color="#656565"/><stop offset=".21" stop-color="#858585"/><stop offset=".238" stop-color="#acacac"/><stop offset=".27" stop-color="#d4d4d4"/><stop offset=".288" stop-color="#e8e8e8"/><stop offset=".298" stop-color="#f0f0f0"/><stop offset=".317" stop-color="#fcfcfc"/><stop offset=".326" stop-color="#ffffff"/><stop offset=".351" stop-color="#ffffff"/><stop offset=".364" stop-color="#fbfbfb"/><stop offset=".376" stop-color="#f3f3f3"/><stop offset=".404" stop-color="#d8d8d8"/><stop offset=".429" stop-color="#b8b8b8"/><stop offset=".47" stop-color="#7e7e7e"/><stop offset=".502" stop-color="#565656"/><stop offset=".514" stop-color="#484848"/><stop offset=".533" stop-color="#363636"/><stop offset=".552" stop-color="#272727"/><stop offset=".564" stop-color="#1f1f1f"/><stop offset=".586" stop-color="#141414"/><stop offset=".627" stop-color="#080808"/><stop offset=".652" stop-color="#040404"/><stop offset=".693" stop-color="#010101"/><stop offset="1" stop-color="#000000"/></linearGradient>
<linearGradient id="c140" x1="0" y1="0" x2="0" y2="1"><stop offset="0" stop-color="#050505"/><stop offset=".009" stop-color="#050505"/><stop offset=".041" stop-color="#0a0a0a"/><stop offset=".075" stop-color="#141414"/><stop offset=".11" stop-color="#252525"/><stop offset=".129" stop-color="#323232"/><stop offset=".15" stop-color="#454545"/><stop offset=".172" stop-color="#5c5c5c"/><stop offset=".21" stop-color="#8b8b8b"/><stop offset=".238" stop-color="#b2b2b2"/><stop offset=".263" stop-color="#d2d2d2"/><stop offset=".288" stop-color="#ececec"/><stop offset=".313" stop-color="#fcfcfc"/><stop offset=".323" stop-color="#ffffff"/><stop offset=".348" stop-color="#ffffff"/><stop offset=".357" stop-color="#fcfcfc"/><stop offset=".376" stop-color="#f0f0f0"/><stop offset=".401" stop-color="#d7d7d7"/><stop offset=".426" stop-color="#b7b7b7"/><stop offset=".47" stop-color="#797979"/><stop offset=".492" stop-color="#5d5d5d"/><stop offset=".508" stop-color="#4b4b4b"/><stop offset=".533" stop-color="#333333"/><stop offset=".549" stop-color="#272727"/><stop offset=".564" stop-color="#1d1d1d"/><stop offset=".583" stop-color="#141414"/><stop offset=".624" stop-color="#080808"/><stop offset=".649" stop-color="#040404"/><stop offset=".69" stop-color="#010101"/><stop offset="1" stop-color="#000000"/></linearGradient>
<linearGradient id="c141" x1="0" y1="0" x2="0" y2="1"><stop offset="0" stop-color="#060606"/><stop offset=".025" stop-color="#080808"/><stop offset=".044" stop-color="#0c0c0c"/><stop offset=".075" stop-color="#161616"/><stop offset=".094" stop-color="#1f1f1f"/><stop offset=".122" stop-color="#313131"/><stop offset=".135" stop-color="#3b3b3b"/><stop offset=".157" stop-color="#505050"/><stop offset=".176" stop-color="#656565"/><stop offset=".207" stop-color="#8d8d8d"/><stop offset=".251" stop-color="#c8c8c8"/><stop offset=".263" stop-color="#d7d7d7"/><stop offset=".285" stop-color="#ededed"/><stop offset=".304" stop-color="#fafafa"/><stop offset=".317" stop-color="#ffffff"/><stop offset=".345" stop-color="#ffffff"/><stop offset=".357" stop-color="#fafafa"/><stop offset=".37" stop-color="#f2f2f2"/><stop offset=".395" stop-color="#dadada"/><stop offset=".414" stop-color="#c3c3c3"/><stop offset=".476" stop-color="#6c6c6c"/><stop offset=".495" stop-color="#555555"/><stop offset=".511" stop-color="#444444"/><stop offset=".542" stop-color="#292929"/><stop offset=".561" stop-color="#1d1d1d"/><stop offset=".58" stop-color="#141414"/><stop offset=".621" stop-color="#080808"/><stop offset=".646" stop-color="#040404"/><stop offset=".687" stop-color="#010101"/><stop offset="1" stop-color="#000000"/></linearGradient>
<linearGradient id="c142" x1="0" y1="0" x2="0" y2="1"><stop offset="0" stop-color="#070707"/><stop offset=".025" stop-color="#090909"/><stop offset=".063" stop-color="#131313"/><stop offset=".091" stop-color="#202020"/><stop offset=".116" stop-color="#303030"/><stop offset=".138" stop-color="#424242"/><stop offset=".169" stop-color="#636363"/><stop offset=".254" stop-color="#d1d1d1"/><stop offset=".266" stop-color="#dfdfdf"/><stop offset=".282" stop-color="#eeeeee"/><stop offset=".298" stop-color="#f9f9f9"/><stop offset=".313" stop-color="#ffffff"/><stop offset=".342" stop-color="#ffffff"/><stop offset=".351" stop-color="#fbfbfb"/><stop offset=".367" stop-color="#f1f1f1"/><stop offset=".392" stop-color="#d9d9d9"/><stop offset=".414" stop-color="#bebebe"/><stop offset=".464" stop-color="#787878"/><stop offset=".486" stop-color="#5c5c5c"/><stop offset=".505" stop-color="#474747"/><stop offset=".52" stop-color="#383838"/><stop offset=".539" stop-color="#292929"/><stop offset=".558" stop-color="#1d1d1d"/><stop offset=".577" stop-color="#141414"/><stop offset=".618" stop-color="#080808"/><stop offset=".652" stop-color="#030303"/><stop offset=".683" stop-color="#010101"/><stop offset="1" stop-color="#000000"/></linearGradient>
<linearGradient id="c143" x1="0" y1="0" x2="0" y2="1"><stop offset="0" stop-color="#070707"/><stop offset=".009" stop-color="#070707"/><stop offset=".034" stop-color="#0c0c0c"/><stop offset=".063" stop-color="#151515"/><stop offset=".085" stop-color="#1f1f1f"/><stop offset=".113" stop-color="#313131"/><stop offset=".129" stop-color="#3e3e3e"/><stop offset=".147" stop-color="#505050"/><stop offset=".163" stop-color="#616161"/><stop offset=".188" stop-color="#808080"/><stop offset=".245" stop-color="#cbcbcb"/><stop offset=".26" stop-color="#dddddd"/><stop offset=".276" stop-color="#ececec"/><stop offset=".301" stop-color="#fcfcfc"/><stop offset=".31" stop-color="#ffffff"/><stop offset=".335" stop-color="#ffffff"/><stop offset=".348" stop-color="#fbfbfb"/><stop offset=".361" stop-color="#f3f3f3"/><stop offset=".386" stop-color="#dcdcdc"/><stop offset=".414" stop-color="#b9b9b9"/><stop offset=".467" stop-color="#6f6f6f"/><stop offset=".498" stop-color="#4a4a4a"/><stop offset=".52" stop-color="#353535"/><stop offset=".533" stop-color="#2b2b2b"/><stop offset=".555" stop-color="#1d1d1d"/><stop offset=".574" stop-color="#141414"/><stop offset=".614" stop-color="#080808"/><stop offset=".639" stop-color="#040404"/><stop offset=".68" stop-color="#010101"/><stop offset="1" stop-color="#000000"/></linearGradient>
<linearGradient id="c144" x1="0" y1="0" x2="0" y2="1"><stop offset="0" stop-color="#080808"/><stop offset=".016" stop-color="#090909"/><stop offset=".047" stop-color="#111111"/><stop offset=".082" stop-color="#202020"/><stop offset=".107" stop-color="#303030"/><stop offset=".129" stop-color="#424242"/><stop offset=".16" stop-color="#636363"/><stop offset=".191" stop-color="#8a8a8a"/><stop offset=".21" stop-color="#a4a4a4"/><stop offset=".248" stop-color="#d4d4d4"/><stop offset=".273" stop-color="#ededed"/><stop offset=".292" stop-color="#fafafa"/><stop offset=".304" stop-color="#ffffff"/><stop offset=".332" stop-color="#ffffff"/><stop offset=".351" stop-color="#f7f7f7"/><stop offset=".367" stop-color="#ebebeb"/><stop offset=".376" stop-color="#e2e2e2"/><stop offset=".389" stop-color="#d4d4d4"/><stop offset=".414" stop-color="#b4b4b4"/><stop offset=".455" stop-color="#7b7b7b"/><stop offset=".476" stop-color="#5f5f5f"/><stop offset=".492" stop-color="#4d4d4d"/><stop offset=".517" stop-color="#353535"/><stop offset=".53" stop-color="#2b2b2b"/><stop offset=".552" stop-color="#1d1d1d"/><stop offset=".571" stop-color="#141414"/><stop offset=".611" stop-color="#080808"/><stop offset=".636" stop-color="#040404"/><stop offset=".677" stop-color="#010101"/><stop offset="1" stop-color="#000000"/></linearGradient>
<linearGradient id="c145" x1="0" y1="0" x2="0" y2="1"><stop offset="0" stop-color="#090909"/><stop offset=".016" stop-color="#0a0a0a"/><stop offset=".053" stop-color="#151515"/><stop offset=".078" stop-color="#212121"/><stop offset=".103" stop-color="#313131"/><stop offset=".122" stop-color="#414141"/><stop offset=".141" stop-color="#535353"/><stop offset=".154" stop-color="#616161"/><stop offset=".191" stop-color="#909090"/><stop offset=".213" stop-color="#aeaeae"/><stop offset=".238" stop-color="#cecece"/><stop offset=".251" stop-color="#dcdcdc"/><stop offset=".27" stop-color="#eeeeee"/><stop offset=".285" stop-color="#f9f9f9"/><stop offset=".301" stop-color="#ffffff"/><stop offset=".329" stop-color="#ffffff"/><stop offset=".342" stop-color="#fafafa"/><stop offset=".354" stop-color="#f2f2f2"/><stop offset=".376" stop-color="#dedede"/><stop offset=".414" stop-color="#afafaf"/><stop offset=".461" stop-color="#6e6e6e"/><stop offset=".476" stop-color="#5b5b5b"/><stop offset=".498" stop-color="#434343"/><stop offset=".527" stop-color="#2b2b2b"/><stop offset=".549" stop-color="#1d1d1d"/><stop offset=".567" stop-color="#141414"/><stop offset=".608" stop-color="#080808"/><stop offset=".646" stop-color="#030303"/><stop offset=".677" stop-color="#010101"/><stop offset="1" stop-color="#000000"/></linearGradient>
<linearGradient id="c146" x1="0" y1="0" x2="0" y2="1"><stop offset="0" stop-color="#0a0a0a"/><stop offset=".016" stop-color="#0b0b0b"/><stop offset=".053" stop-color="#171717"/><stop offset=".072" stop-color="#202020"/><stop offset=".097" stop-color="#303030"/><stop offset=".119" stop-color="#424242"/><stop offset=".132" stop-color="#4e4e4e"/><stop offset=".154" stop-color="#666666"/><stop offset=".194" stop-color="#9a9a9a"/><stop offset=".223" stop-color="#c0c0c0"/><stop offset=".245" stop-color="#dadada"/><stop offset=".266" stop-color="#efefef"/><stop offset=".285" stop-color="#fbfbfb"/><stop offset=".298" stop-color="#ffffff"/><stop offset=".326" stop-color="#ffffff"/><stop offset=".345" stop-color="#f6f6f6"/><stop offset=".354" stop-color="#efefef"/><stop offset=".373" stop-color="#dddddd"/><stop offset=".401" stop-color="#bbbbbb"/><stop offset=".445" stop-color="#7e7e7e"/><stop offset=".467" stop-color="#626262"/><stop offset=".492" stop-color="#464646"/><stop offset=".52" stop-color="#2d2d2d"/><stop offset=".545" stop-color="#1d1d1d"/><stop offset=".564" stop-color="#141414"/><stop offset=".605" stop-color="#080808"/><stop offset=".643" stop-color="#030303"/><stop offset=".674" stop-color="#010101"/><stop offset="1" stop-color="#000000"/></linearGradient>
<linearGradient id="c147" x1="0" y1="0" x2="0" y2="1"><stop offset="0" stop-color="#0b0b0b"/><stop offset=".019" stop-color="#0d0d0d"/><stop offset=".053" stop-color="#191919"/><stop offset=".069" stop-color="#212121"/><stop offset=".094" stop-color="#313131"/><stop offset=".107" stop-color="#3b3b3b"/><stop offset=".129" stop-color="#505050"/><stop offset=".147" stop-color="#646464"/><stop offset=".179" stop-color="#8b8b8b"/><stop offset=".201" stop-color="#a9a9a9"/><stop offset=".226" stop-color="#c9c9c9"/><stop offset=".241" stop-color="#dbdbdb"/><stop offset=".26" stop-color="#ededed"/><stop offset=".279" stop-color="#fafafa"/><stop offset=".292" stop-color="#ffffff"/><stop offset=".32" stop-color="#ffffff"/><stop offset=".332" stop-color="#fbfbfb"/><stop offset=".348" stop-color="#f1f1f1"/><stop offset=".367" stop-color="#e0e0e0"/><stop offset=".379" stop-color="#d2d2d2"/><stop offset=".401" stop-color="#b6b6b6"/><stop offset=".436" stop-color="#868686"/><stop offset=".467" stop-color="#5e5e5e"/><stop offset=".486" stop-color="#494949"/><stop offset=".505" stop-color="#373737"/><stop offset=".517" stop-color="#2d2d2d"/><stop offset=".542" stop-color="#1d1d1d"/><stop offset=".561" stop-color="#141414"/><stop offset=".602" stop-color="#080808"/><stop offset=".639" stop-color="#030303"/><stop offset=".671" stop-color="#010101"/><stop offset="1" stop-color="#000000"/></linearGradient>
<linearGradient id="c148" x1="0" y1="0" x2="0" y2="1"><stop offset="0" stop-color="#0c0c0c"/><stop offset=".009" stop-color="#0c0c0c"/><stop offset=".044" stop-color="#171717"/><stop offset=".063" stop-color="#202020"/><stop offset=".097" stop-color="#373737"/><stop offset=".125" stop-color="#515151"/><stop offset=".141" stop-color="#626262"/><stop offset=".226" stop-color="#cecece"/><stop offset=".235" stop-color="#d9d9d9"/><stop offset=".257" stop-color="#eeeeee"/><stop offset=".27" stop-color="#f7f7f7"/><stop offset=".288" stop-color="#ffffff"/><stop offset=".317" stop-color="#ffffff"/><stop offset=".332" stop-color="#f9f9f9"/><stop offset=".342" stop-color="#f3f3f3"/><stop offset=".367" stop-color="#dcdcdc"/><stop offset=".404" stop-color="#adadad"/><stop offset=".439" stop-color="#7d7d7d"/><stop offset=".458" stop-color="#656565"/><stop offset=".48" stop-color="#4c4c4c"/><stop offset=".502" stop-color="#373737"/><stop offset=".514" stop-color="#2d2d2d"/><stop offset=".539" stop-color="#1d1d1d"/><stop offset=".558" stop-color="#141414"/><stop offset=".599" stop-color="#080808"/><stop offset=".636" stop-color="#030303"/><stop offset=".668" stop-color="#010101"/><stop offset="1" stop-color="#000000"/></linearGradient>
<linearGradient id="c149" x1="0" y1="0" x2="0" y2="1"><stop offset="0" stop-color="#0d0d0d"/><stop offset=".013" stop-color="#0e0e0e"/><stop offset=".05" stop-color="#1c1c1c"/><stop offset=".085" stop-color="#313131"/><stop offset=".107" stop-color="#434343"/><stop offset=".129" stop-color="#595959"/><stop offset=".144" stop-color="#6b6b6b"/><stop offset=".226" stop-color="#d3d3d3"/><stop offset=".257" stop-color="#f1f1f1"/><stop offset=".273" stop-color="#fbfbfb"/><stop offset=".285" stop-color="#ffffff"/><stop offset=".313" stop-color="#ffffff"/><stop offset=".326" stop-color="#fafafa"/><stop offset=".342" stop-color="#f0f0f0"/><stop offset=".357" stop-color="#e2e2e2"/><stop offset=".379" stop-color="#c9c9c9"/><stop offset=".429" stop-color="#858585"/><stop offset=".458" stop-color="#616161"/><stop offset=".473" stop-color="#4f4f4f"/><stop offset=".498" stop-color="#373737"/><stop offset=".511" stop-color="#2d2d2d"/><stop offset=".536" stop-color="#1d1d1d"/><stop offset=".555" stop-color="#141414"/><stop offset=".596" stop-color="#080808"/><stop offset=".633" stop-color="#030303"/><stop offset=".665" stop-color="#010101"/><stop offset="1" stop-color="#000000"/></linearGradient>
<linearGradient id="c150" x1="0" y1="0" x2="0" y2="1"><stop offset="0" stop-color="#0f0f0f"/><stop offset=".009" stop-color="#0f0f0f"/><stop offset=".034" stop-color="#171717"/><stop offset=".053" stop-color="#202020"/><stop offset=".082" stop-color="#323232"/><stop offset=".094" stop-color="#3c3c3c"/><stop offset=".122" stop-color="#575757"/><stop offset=".135" stop-color="#656565"/><stop offset=".216" stop-color="#cdcdcd"/><stop offset=".229" stop-color="#dbdbdb"/><stop offset=".254" stop-color="#f2f2f2"/><stop offset=".266" stop-color="#fafafa"/><stop offset=".279" stop-color="#ffffff"/><stop offset=".31" stop-color="#ffffff"/><stop offset=".323" stop-color="#fafafa"/><stop offset=".335" stop-color="#f2f2f2"/><stop offset=".357" stop-color="#dedede"/><stop offset=".37" stop-color="#d0d0d0"/><stop offset=".392" stop-color="#b4b4b4"/><stop offset=".445" stop-color="#6c6c6c"/><stop offset=".483" stop-color="#424242"/><stop offset=".505" stop-color="#2f2f2f"/><stop offset=".52" stop-color="#242424"/><stop offset=".552" stop-color="#141414"/><stop offset=".58" stop-color="#0b0b0b"/><stop offset=".599" stop-color="#070707"/><stop offset=".661" stop-color="#010101"/><stop offset="1" stop-color="#000000"/></linearGradient>
<linearGradient id="c151" x1="0" y1="0" x2="0" y2="1"><stop offset="0" stop-color="#101010"/><stop offset=".009" stop-color="#101010"/><stop offset=".041" stop-color="#1c1c1c"/><stop offset=".078" stop-color="#333333"/><stop offset=".094" stop-color="#404040"/><stop offset=".116" stop-color="#555555"/><stop offset=".138" stop-color="#6e6e6e"/><stop offset=".216" stop-color="#d2d2d2"/><stop offset=".248" stop-color="#f0f0f0"/><stop offset=".266" stop-color="#fcfcfc"/><stop offset=".276" stop-color="#ffffff"/><stop offset=".307" stop-color="#ffffff"/><stop offset=".326" stop-color="#f6f6f6"/><stop offset=".335" stop-color="#efefef"/><stop offset=".357" stop-color="#dadada"/><stop offset=".395" stop-color="#ababab"/><stop offset=".423" stop-color="#848484"/><stop offset=".448" stop-color="#646464"/><stop offset=".473" stop-color="#484848"/><stop offset=".495" stop-color="#343434"/><stop offset=".514" stop-color="#262626"/><stop offset=".549" stop-color="#141414"/><stop offset=".577" stop-color="#0b0b0b"/><stop offset=".596" stop-color="#070707"/><stop offset=".658" stop-color="#010101"/><stop offset="1" stop-color="#000000"/></linearGradient>
<linearGradient id="c152" x1="0" y1="0" x2="0" y2="1"><stop offset="0" stop-color="#121212"/><stop offset=".009" stop-color="#121212"/><stop offset=".025" stop-color="#171717"/><stop offset=".044" stop-color="#202020"/><stop offset=".06" stop-color="#292929"/><stop offset=".091" stop-color="#414141"/><stop offset=".107" stop-color="#505050"/><stop offset=".129" stop-color="#686868"/><stop offset=".213" stop-color="#d3d3d3"/><stop offset=".245" stop-color="#f1f1f1"/><stop offset=".257" stop-color="#f9f9f9"/><stop offset=".273" stop-color="#ffffff"/><stop offset=".301" stop-color="#ffffff"/><stop offset=".313" stop-color="#fbfbfb"/><stop offset=".329" stop-color="#f1f1f1"/><stop offset=".357" stop-color="#d6d6d6"/><stop offset=".382" stop-color="#b7b7b7"/><stop offset=".414" stop-color="#8c8c8c"/><stop offset=".448" stop-color="#606060"/><stop offset=".467" stop-color="#4b4b4b"/><stop offset=".492" stop-color="#343434"/><stop offset=".511" stop-color="#262626"/><stop offset=".545" stop-color="#141414"/><stop offset=".574" stop-color="#0b0b0b"/><stop offset=".592" stop-color="#070707"/><stop offset=".655" stop-color="#010101"/><stop offset="1" stop-color="#000000"/></linearGradient>
<linearGradient id="c153" x1="0" y1="0" x2="0" y2="1"><stop offset="0" stop-color="#131313"/><stop offset=".013" stop-color="#141414"/><stop offset=".05" stop-color="#262626"/><stop offset=".069" stop-color="#333333"/><stop offset=".094" stop-color="#484848"/><stop offset=".129" stop-color="#6d6d6d"/><stop offset=".204" stop-color="#cdcdcd"/><stop offset=".226" stop-color="#e4e4e4"/><stop offset=".245" stop-color="#f4f4f4"/><stop offset=".266" stop-color="#ffffff"/><stop offset=".298" stop-color="#ffffff"/><stop offset=".307" stop-color="#fcfcfc"/><stop offset=".323" stop-color="#f3f3f3"/><stop offset=".351" stop-color="#d9d9d9"/><stop offset=".389" stop-color="#aaaaaa"/><stop offset=".436" stop-color="#6b6b6b"/><stop offset=".464" stop-color="#4b4b4b"/><stop offset=".483" stop-color="#393939"/><stop offset=".508" stop-color="#262626"/><stop offset=".542" stop-color="#141414"/><stop offset=".571" stop-color="#0b0b0b"/><stop offset=".589" stop-color="#070707"/><stop offset=".621" stop-color="#030303"/><stop offset=".655" stop-color="#010101"/><stop offset="1" stop-color="#000000"/></linearGradient>
<linearGradient id="c154" x1="0" y1="0" x2="0" y2="1"><stop offset="0" stop-color="#151515"/><stop offset=".009" stop-color="#151515"/><stop offset=".034" stop-color="#202020"/><stop offset=".056" stop-color="#2d2d2d"/><stop offset=".078" stop-color="#3e3e3e"/><stop offset=".113" stop-color="#606060"/><stop offset=".132" stop-color="#767676"/><stop offset=".191" stop-color="#c3c3c3"/><stop offset=".213" stop-color="#dcdcdc"/><stop offset=".235" stop-color="#f0f0f0"/><stop offset=".251" stop-color="#fafafa"/><stop offset=".263" stop-color="#ffffff"/><stop offset=".295" stop-color="#ffffff"/><stop offset=".307" stop-color="#fafafa"/><stop offset=".323" stop-color="#f0f0f0"/><stop offset=".342" stop-color="#dfdfdf"/><stop offset=".364" stop-color="#c6c6c6"/><stop offset=".408" stop-color="#8b8b8b"/><stop offset=".439" stop-color="#636363"/><stop offset=".458" stop-color="#4e4e4e"/><stop offset=".48" stop-color="#393939"/><stop offset=".502" stop-color="#282828"/><stop offset=".539" stop-color="#141414"/><stop offset=".567" stop-color="#0b0b0b"/><stop offset=".592" stop-color="#060606"/><stop offset=".652" stop-color="#010101"/><stop offset="1" stop-color="#000000"/></linearGradient>
<linearGradient id="c155" x1="0" y1="0" x2="0" y2="1"><stop offset="0" stop-color="#171717"/><stop offset=".009" stop-color="#171717"/><stop offset=".016" stop-color="#191919"/><stop offset=".038" stop-color="#242424"/><stop offset=".053" stop-color="#2e2e2e"/><stop offset=".075" stop-color="#3f3f3f"/><stop offset=".097" stop-color="#545454"/><stop offset=".122" stop-color="#707070"/><stop offset=".191" stop-color="#c8c8c8"/><stop offset=".21" stop-color="#dddddd"/><stop offset=".235" stop-color="#f3f3f3"/><stop offset=".251" stop-color="#fcfcfc"/><stop offset=".26" stop-color="#ffffff"/><stop offset=".292" stop-color="#ffffff"/><stop offset=".304" stop-color="#fafafa"/><stop offset=".317" stop-color="#f2f2f2"/><stop offset=".342" stop-color="#dbdbdb"/><stop offset=".364" stop-color="#c1c1c1"/><stop offset=".382" stop-color="#a9a9a9"/><stop offset=".398" stop-color="#939393"/><stop offset=".436" stop-color="#636363"/><stop offset=".455" stop-color="#4e4e4e"/><stop offset=".476" stop-color="#393939"/><stop offset=".505" stop-color="#242424"/><stop offset=".539" stop-color="#131313"/><stop offset=".574" stop-color="#090909"/><stop offset=".605" stop-color="#040404"/><stop offset=".649" stop-color="#010101"/><stop offset="1" stop-color="#000000"/></linearGradient>
<linearGradient id="c156" x1="0" y1="0" x2="0" y2="1"><stop offset="0" stop-color="#181818"/><stop offset=".006" stop-color="#181818"/><stop offset=".016" stop-color="#1b1b1b"/><stop offset=".031" stop-color="#232323"/><stop offset=".05" stop-color="#2f2f2f"/><stop offset=".075" stop-color="#434343"/><stop offset=".091" stop-color="#525252"/><stop offset=".122" stop-color="#757575"/><stop offset=".197" stop-color="#d4d4d4"/><stop offset=".226" stop-color="#efefef"/><stop offset=".245" stop-color="#fbfbfb"/><stop offset=".257" stop-color="#ffffff"/><stop offset=".288" stop-color="#ffffff"/><stop offset=".31" stop-color="#f4f4f4"/><stop offset=".335" stop-color="#dedede"/><stop offset=".364" stop-color="#bdbdbd"/><stop offset=".423" stop-color="#6e6e6e"/><stop offset=".448" stop-color="#515151"/><stop offset=".473" stop-color="#393939"/><stop offset=".502" stop-color="#242424"/><stop offset=".536" stop-color="#131313"/><stop offset=".571" stop-color="#090909"/><stop offset=".605" stop-color="#040404"/><stop offset=".646" stop-color="#010101"/><stop offset="1" stop-color="#000000"/></linearGradient>
<linearGradient id="c157" x1="0" y1="0" x2="0" y2="1"><stop offset="0" stop-color="#1a1a1a"/><stop offset=".006" stop-color="#1a1a1a"/><stop offset=".025" stop-color="#222222"/><stop offset=".056" stop-color="#373737"/><stop offset=".085" stop-color="#505050"/><stop offset=".103" stop-color="#646464"/><stop offset=".129" stop-color="#828282"/><stop offset=".176" stop-color="#bfbfbf"/><stop offset=".194" stop-color="#d5d5d5"/><stop offset=".219" stop-color="#ededed"/><stop offset=".235" stop-color="#f8f8f8"/><stop offset=".251" stop-color="#ffffff"/><stop offset=".282" stop-color="#ffffff"/><stop offset=".295" stop-color="#fbfbfb"/><stop offset=".313" stop-color="#efefef"/><stop offset=".335" stop-color="#dadada"/><stop offset=".348" stop-color="#cccccc"/><stop offset=".373" stop-color="#acacac"/><stop offset=".395" stop-color="#8e8e8e"/><stop offset=".426" stop-color="#666666"/><stop offset=".445" stop-color="#515151"/><stop offset=".47" stop-color="#393939"/><stop offset=".498" stop-color="#242424"/><stop offset=".533" stop-color="#131313"/><stop offset=".567" stop-color="#090909"/><stop offset=".611" stop-color="#030303"/><stop offset=".643" stop-color="#010101"/><stop offset="1" stop-color="#000000"/></linearGradient>
<linearGradient id="c158" x1="0" y1="0" x2="0" y2="1"><stop offset="0" stop-color="#1d1d1d"/><stop offset=".009" stop-color="#1d1d1d"/><stop offset=".022" stop-color="#232323"/><stop offset=".047" stop-color="#333333"/><stop offset=".078" stop-color="#4e4e4e"/><stop offset=".113" stop-color="#747474"/><stop offset=".185" stop-color="#cfcfcf"/><stop offset=".216" stop-color="#eeeeee"/><stop offset=".235" stop-color="#fafafa"/><stop offset=".248" stop-color="#ffffff"/><stop offset=".279" stop-color="#ffffff"/><stop offset=".295" stop-color="#f9f9f9"/><stop offset=".307" stop-color="#f1f1f1"/><stop offset=".329" stop-color="#dddddd"/><stop offset=".354" stop-color="#c0c0c0"/><stop offset=".386" stop-color="#969696"/><stop offset=".423" stop-color="#666666"/><stop offset=".439" stop-color="#545454"/><stop offset=".458" stop-color="#414141"/><stop offset=".492" stop-color="#262626"/><stop offset=".508" stop-color="#1d1d1d"/><stop offset=".53" stop-color="#131313"/><stop offset=".564" stop-color="#090909"/><stop offset=".608" stop-color="#030303"/><stop offset=".639" stop-color="#010101"/><stop offset="1" stop-color="#000000"/></linearGradient>
<linearGradient id="c159" x1="0" y1="0" x2="0" y2="1"><stop offset="0" stop-color="#1f1f1f"/><stop offset=".009" stop-color="#1f1f1f"/><stop offset=".044" stop-color="#343434"/><stop offset=".056" stop-color="#3e3e3e"/><stop offset=".085" stop-color="#595959"/><stop offset=".113" stop-color="#797979"/><stop offset=".172" stop-color="#c5c5c5"/><stop offset=".191" stop-color="#dadada"/><stop offset=".21" stop-color="#ececec"/><stop offset=".229" stop-color="#f9f9f9"/><stop offset=".245" stop-color="#ffffff"/><stop offset=".276" stop-color="#ffffff"/><stop offset=".285" stop-color="#fcfcfc"/><stop offset=".298" stop-color="#f5f5f5"/><stop offset=".317" stop-color="#e6e6e6"/><stop offset=".332" stop-color="#d6d6d6"/><stop offset=".373" stop-color="#a3a3a3"/><stop offset=".408" stop-color="#757575"/><stop offset=".429" stop-color="#5b5b5b"/><stop offset=".451" stop-color="#444444"/><stop offset=".476" stop-color="#2f2f2f"/><stop offset=".502" stop-color="#1f1f1f"/><stop offset=".53" stop-color="#121212"/><stop offset=".558" stop-color="#0a0a0a"/><stop offset=".586" stop-color="#050505"/><stop offset=".636" stop-color="#010101"/><stop offset="1" stop-color="#000000"/></linearGradient>
<linearGradient id="c160" x1="0" y1="0" x2="0" y2="1"><stop offset="0" stop-color="#212121"/><stop offset=".009" stop-color="#212121"/><stop offset=".041" stop-color="#353535"/><stop offset=".056" stop-color="#424242"/><stop offset=".078" stop-color="#575757"/><stop offset=".116" stop-color="#828282"/><stop offset=".169" stop-color="#c6c6c6"/><stop offset=".188" stop-color="#dbdbdb"/><stop offset=".204" stop-color="#eaeaea"/><stop offset=".229" stop-color="#fbfbfb"/><stop offset=".241" stop-color="#ffffff"/><stop offset=".273" stop-color="#ffffff"/><stop offset=".285" stop-color="#fafafa"/><stop offset=".304" stop-color="#eeeeee"/><stop offset=".326" stop-color="#d9d9d9"/><stop offset=".342" stop-color="#c7c7c7"/><stop offset=".417" stop-color="#666666"/><stop offset=".436" stop-color="#515151"/><stop offset=".461" stop-color="#393939"/><stop offset=".473" stop-color="#2f2f2f"/><stop offset=".498" stop-color="#1f1f1f"/><stop offset=".53" stop-color="#111111"/><stop offset=".555" stop-color="#0a0a0a"/><stop offset=".583" stop-color="#050505"/><stop offset=".636" stop-color="#010101"/><stop offset="1" stop-color="#000000"/></linearGradient>
<linearGradient id="c161" x1="0" y1="0" x2="0" y2="1"><stop offset="0" stop-color="#232323"/><stop offset=".009" stop-color="#242424"/><stop offset=".038" stop-color="#363636"/><stop offset=".053" stop-color="#434343"/><stop offset=".075" stop-color="#585858"/><stop offset=".1" stop-color="#747474"/><stop offset=".166" stop-color="#c7c7c7"/><stop offset=".188" stop-color="#dfdfdf"/><stop offset=".204" stop-color="#ededed"/><stop offset=".219" stop-color="#f8f8f8"/><stop offset=".235" stop-color="#ffffff"/><stop offset=".27" stop-color="#ffffff"/><stop offset=".282" stop-color="#fafafa"/><stop offset=".298" stop-color="#f0f0f0"/><stop offset=".323" stop-color="#d9d9d9"/><stop offset=".339" stop-color="#c7c7c7"/><stop offset=".411" stop-color="#6a6a6a"/><stop offset=".436" stop-color="#4e4e4e"/><stop offset=".455" stop-color="#3c3c3c"/><stop offset=".473" stop-color="#2d2d2d"/><stop offset=".492" stop-color="#212121"/><stop offset=".514" stop-color="#161616"/><stop offset=".549" stop-color="#0b0b0b"/><stop offset=".567" stop-color="#070707"/><stop offset=".633" stop-color="#010101"/><stop offset="1" stop-color="#000000"/></linearGradient>
<linearGradient id="c162" x1="0" y1="0" x2="0" y2="1"><stop offset="0" stop-color="#262626"/><stop offset=".013" stop-color="#282828"/><stop offset=".022" stop-color="#2e2e2e"/><stop offset=".05" stop-color="#444444"/><stop offset=".069" stop-color="#565656"/><stop offset=".1" stop-color="#797979"/><stop offset=".141" stop-color="#adadad"/><stop offset=".169" stop-color="#cfcfcf"/><stop offset=".197" stop-color="#ebebeb"/><stop offset=".219" stop-color="#fafafa"/><stop offset=".232" stop-color="#ffffff"/><stop offset=".266" stop-color="#ffffff"/><stop offset=".279" stop-color="#fafafa"/><stop offset=".295" stop-color="#f0f0f0"/><stop offset=".317" stop-color="#dcdcdc"/><stop offset=".339" stop-color="#c3c3c3"/><stop offset=".408" stop-color="#6a6a6a"/><stop offset=".423" stop-color="#585858"/><stop offset=".448" stop-color="#3f3f3f"/><stop offset=".464" stop-color="#323232"/><stop offset=".483" stop-color="#252525"/><stop offset=".514" stop-color="#151515"/><stop offset=".555" stop-color="#090909"/><stop offset=".589" stop-color="#040404"/><stop offset=".63" stop-color="#010101"/><stop offset="1" stop-color="#000000"/></linearGradient>
<linearGradient id="c163" x1="0" y1="0" x2="0" y2="1"><stop offset="0" stop-color="#292929"/><stop offset=".009" stop-color="#292929"/><stop offset=".019" stop-color="#2f2f2f"/><stop offset=".041" stop-color="#404040"/><stop offset=".063" stop-color="#545454"/><stop offset=".1" stop-color="#7e7e7e"/><stop offset=".157" stop-color="#c5c5c5"/><stop offset=".176" stop-color="#dadada"/><stop offset=".191" stop-color="#e9e9e9"/><stop offset=".216" stop-color="#fafafa"/><stop offset=".229" stop-color="#ffffff"/><stop offset=".263" stop-color="#ffffff"/><stop offset=".276" stop-color="#fafafa"/><stop offset=".288" stop-color="#f2f2f2"/><stop offset=".313" stop-color="#dcdcdc"/><stop offset=".335" stop-color="#c3c3c3"/><stop offset=".401" stop-color="#6e6e6e"/><stop offset=".423" stop-color="#555555"/><stop offset=".451" stop-color="#3a3a3a"/><stop offset=".464" stop-color="#303030"/><stop offset=".492" stop-color="#1e1e1e"/><stop offset=".514" stop-color="#141414"/><stop offset=".539" stop-color="#0c0c0c"/><stop offset=".558" stop-color="#080808"/><stop offset=".596" stop-color="#030303"/><stop offset=".63" stop-color="#010101"/><stop offset="1" stop-color="#000000"/></linearGradient>
<linearGradient id="c164" x1="0" y1="0" x2="0" y2="1"><stop offset="0" stop-color="#2c2c2c"/><stop offset=".009" stop-color="#2c2c2c"/><stop offset=".016" stop-color="#303030"/><stop offset=".038" stop-color="#414141"/><stop offset=".056" stop-color="#525252"/><stop offset=".088" stop-color="#747474"/><stop offset=".16" stop-color="#cdcdcd"/><stop offset=".191" stop-color="#ececec"/><stop offset=".21" stop-color="#f9f9f9"/><stop offset=".226" stop-color="#ffffff"/><stop offset=".26" stop-color="#ffffff"/><stop offset=".276" stop-color="#f8f8f8"/><stop offset=".285" stop-color="#f2f2f2"/><stop offset=".307" stop-color="#dfdfdf"/><stop offset=".335" stop-color="#bfbfbf"/><stop offset=".395" stop-color="#727272"/><stop offset=".423" stop-color="#525252"/><stop offset=".445" stop-color="#3d3d3d"/><stop offset=".464" stop-color="#2e2e2e"/><stop offset=".486" stop-color="#202020"/><stop offset=".514" stop-color="#131313"/><stop offset=".533" stop-color="#0d0d0d"/><stop offset=".561" stop-color="#070707"/><stop offset=".627" stop-color="#010101"/><stop offset="1" stop-color="#000000"/></linearGradient>
<linearGradient id="c165" x1="0" y1="0" x2="0" y2="1"><stop offset="0" stop-color="#2e2e2e"/><stop offset=".009" stop-color="#2f2f2f"/><stop offset=".022" stop-color="#383838"/><stop offset=".034" stop-color="#424242"/><stop offset=".066" stop-color="#606060"/><stop offset=".1" stop-color="#888888"/><stop offset=".129" stop-color="#acacac"/><stop offset=".154" stop-color="#cacaca"/><stop offset=".166" stop-color="#d8d8d8"/><stop offset=".182" stop-color="#e7e7e7"/><stop offset=".194" stop-color="#f1f1f1"/><stop offset=".213" stop-color="#fcfcfc"/><stop offset=".223" stop-color="#ffffff"/><stop offset=".257" stop-color="#ffffff"/><stop offset=".279" stop-color="#f4f4f4"/><stop offset=".298" stop-color="#e5e5e5"/><stop offset=".313" stop-color="#d5d5d5"/><stop offset=".332" stop-color="#bfbfbf"/><stop offset=".401" stop-color="#676767"/><stop offset=".423" stop-color="#4f4f4f"/><stop offset=".439" stop-color="#404040"/><stop offset=".464" stop-color="#2c2c2c"/><stop offset=".48" stop-color="#222222"/><stop offset=".502" stop-color="#171717"/><stop offset=".517" stop-color="#111111"/><stop offset=".558" stop-color="#070707"/><stop offset=".624" stop-color="#010101"/><stop offset="1" stop-color="#000000"/></linearGradient>
<linearGradient id="c166" x1="0" y1="0" x2="0" y2="1"><stop offset="0" stop-color="#313131"/><stop offset=".009" stop-color="#323232"/><stop offset=".019" stop-color="#393939"/><stop offset=".031" stop-color="#434343"/><stop offset=".06" stop-color="#5e5e5e"/><stop offset=".097" stop-color="#898989"/><stop offset=".147" stop-color="#c7c7c7"/><stop offset=".16" stop-color="#d5d5d5"/><stop offset=".182" stop-color="#eaeaea"/><stop offset=".207" stop-color="#fbfbfb"/><stop offset=".219" stop-color="#ffffff"/><stop offset=".254" stop-color="#ffffff"/><stop offset=".276" stop-color="#f4f4f4"/><stop offset=".285" stop-color="#ededed"/><stop offset=".31" stop-color="#d5d5d5"/><stop offset=".329" stop-color="#bfbfbf"/><stop offset=".395" stop-color="#6b6b6b"/><stop offset=".414" stop-color="#565656"/><stop offset=".442" stop-color="#3b3b3b"/><stop offset=".455" stop-color="#313131"/><stop offset=".483" stop-color="#1f1f1f"/><stop offset=".502" stop-color="#161616"/><stop offset=".545" stop-color="#090909"/><stop offset=".589" stop-color="#030303"/><stop offset=".624" stop-color="#010101"/><stop offset="1" stop-color="#000000"/></linearGradient>
<linearGradient id="c167" x1="0" y1="0" x2="0" y2="1"><stop offset="0" stop-color="#353535"/><stop offset=".006" stop-color="#353535"/><stop offset=".016" stop-color="#3a3a3a"/><stop offset=".031" stop-color="#474747"/><stop offset=".056" stop-color="#5f5f5f"/><stop offset=".082" stop-color="#7b7b7b"/><stop offset=".141" stop-color="#c4c4c4"/><stop offset=".163" stop-color="#dcdcdc"/><stop offset=".182" stop-color="#ededed"/><stop offset=".204" stop-color="#fbfbfb"/><stop offset=".216" stop-color="#ffffff"/><stop offset=".248" stop-color="#ffffff"/><stop offset=".26" stop-color="#fbfbfb"/><stop offset=".279" stop-color="#efefef"/><stop offset=".304" stop-color="#d8d8d8"/><stop offset=".326" stop-color="#bfbfbf"/><stop offset=".398" stop-color="#646464"/><stop offset=".414" stop-color="#535353"/><stop offset=".436" stop-color="#3e3e3e"/><stop offset=".455" stop-color="#2f2f2f"/><stop offset=".476" stop-color="#212121"/><stop offset=".502" stop-color="#151515"/><stop offset=".53" stop-color="#0c0c0c"/><stop offset=".549" stop-color="#080808"/><stop offset=".577" stop-color="#040404"/><stop offset=".621" stop-color="#010101"/><stop offset="1" stop-color="#000000"/></linearGradient>
<linearGradient id="c168" x1="0" y1="0" x2="0" y2="1"><stop offset="0" stop-color="#383838"/><stop offset=".006" stop-color="#383838"/><stop offset=".013" stop-color="#3b3b3b"/><stop offset=".028" stop-color="#484848"/><stop offset=".053" stop-color="#606060"/><stop offset=".088" stop-color="#878787"/><stop offset=".141" stop-color="#c8c8c8"/><stop offset=".157" stop-color="#d9d9d9"/><stop offset=".179" stop-color="#ededed"/><stop offset=".201" stop-color="#fbfbfb"/><stop offset=".213" stop-color="#ffffff"/><stop offset=".245" stop-color="#ffffff"/><stop offset=".257" stop-color="#fbfbfb"/><stop offset=".276" stop-color="#efefef"/><stop offset=".304" stop-color="#d5d5d5"/><stop offset=".32" stop-color="#c3c3c3"/><stop offset=".382" stop-color="#737373"/><stop offset=".404" stop-color="#5a5a5a"/><stop offset=".429" stop-color="#414141"/><stop offset=".455" stop-color="#2d2d2d"/><stop offset=".47" stop-color="#232323"/><stop offset=".502" stop-color="#141414"/><stop offset=".545" stop-color="#080808"/><stop offset=".574" stop-color="#040404"/><stop offset=".618" stop-color="#010101"/><stop offset="1" stop-color="#000000"/></linearGradient>
<linearGradient id="c169" x1="0" y1="0" x2="0" y2="1"><stop offset="0" stop-color="#3b3b3b"/><stop offset=".006" stop-color="#3b3b3b"/><stop offset=".013" stop-color="#3f3f3f"/><stop offset=".025" stop-color="#494949"/><stop offset=".05" stop-color="#616161"/><stop offset=".082" stop-color="#848484"/><stop offset=".132" stop-color="#c1c1c1"/><stop offset=".154" stop-color="#d9d9d9"/><stop offset=".166" stop-color="#e5e5e5"/><stop offset=".179" stop-color="#efefef"/><stop offset=".201" stop-color="#fcfcfc"/><stop offset=".21" stop-color="#ffffff"/><stop offset=".241" stop-color="#ffffff"/><stop offset=".257" stop-color="#f9f9f9"/><stop offset=".273" stop-color="#efefef"/><stop offset=".301" stop-color="#d5d5d5"/><stop offset=".317" stop-color="#c3c3c3"/><stop offset=".376" stop-color="#777777"/><stop offset=".395" stop-color="#616161"/><stop offset=".417" stop-color="#4a4a4a"/><stop offset=".433" stop-color="#3c3c3c"/><stop offset=".451" stop-color="#2e2e2e"/><stop offset=".483" stop-color="#1b1b1b"/><stop offset=".505" stop-color="#121212"/><stop offset=".53" stop-color="#0b0b0b"/><stop offset=".564" stop-color="#050505"/><stop offset=".618" stop-color="#010101"/><stop offset="1" stop-color="#000000"/></linearGradient>
<linearGradient id="c170" x1="0" y1="0" x2="0" y2="1"><stop offset="0" stop-color="#3f3f3f"/><stop offset=".009" stop-color="#404040"/><stop offset=".025" stop-color="#4d4d4d"/><stop offset=".047" stop-color="#626262"/><stop offset=".075" stop-color="#818181"/><stop offset=".11" stop-color="#ababab"/><stop offset=".141" stop-color="#cfcfcf"/><stop offset=".169" stop-color="#eaeaea"/><stop offset=".188" stop-color="#f7f7f7"/><stop offset=".207" stop-color="#ffffff"/><stop offset=".238" stop-color="#ffffff"/><stop offset=".254" stop-color="#f9f9f9"/><stop offset=".27" stop-color="#efefef"/><stop offset=".298" stop-color="#d5d5d5"/><stop offset=".329" stop-color="#b0b0b0"/><stop offset=".364" stop-color="#838383"/><stop offset=".389" stop-color="#656565"/><stop offset=".404" stop-color="#545454"/><stop offset=".426" stop-color="#3f3f3f"/><stop offset=".451" stop-color="#2c2c2c"/><stop offset=".467" stop-color="#222222"/><stop offset=".489" stop-color="#171717"/><stop offset=".536" stop-color="#090909"/><stop offset=".58" stop-color="#030303"/><stop offset=".614" stop-color="#010101"/><stop offset="1" stop-color="#000000"/></linearGradient>
<linearGradient id="c171" x1="0" y1="0" x2="0" y2="1"><stop offset="0" stop-color="#424242"/><stop offset=".006" stop-color="#424242"/><stop offset=".013" stop-color="#464646"/><stop offset=".047" stop-color="#666666"/><stop offset=".069" stop-color="#7e7e7e"/><stop offset=".116" stop-color="#b6b6b6"/><stop offset=".141" stop-color="#d2d2d2"/><stop offset=".16" stop-color="#e4e4e4"/><stop offset=".172" stop-color="#eeeeee"/><stop offset=".194" stop-color="#fbfbfb"/><stop offset=".207" stop-color="#ffffff"/><stop offset=".232" stop-color="#ffffff"/><stop offset=".251" stop-color="#f9f9f9"/><stop offset=".266" stop-color="#efefef"/><stop offset=".285" stop-color="#dfdfdf"/><stop offset=".317" stop-color="#bcbcbc"/><stop offset=".382" stop-color="#696969"/><stop offset=".404" stop-color="#515151"/><stop offset=".42" stop-color="#424242"/><stop offset=".445" stop-color="#2e2e2e"/><stop offset=".461" stop-color="#242424"/><stop offset=".489" stop-color="#161616"/><stop offset=".52" stop-color="#0c0c0c"/><stop offset=".539" stop-color="#080808"/><stop offset=".567" stop-color="#040404"/><stop offset=".614" stop-color="#010101"/><stop offset="1" stop-color="#000000"/></linearGradient>
<linearGradient id="c172" x1="0" y1="0" x2="0" y2="1"><stop offset="0" stop-color="#464646"/><stop offset=".009" stop-color="#474747"/><stop offset=".047" stop-color="#6a6a6a"/><stop offset=".075" stop-color="#898989"/><stop offset=".11" stop-color="#b2b2b2"/><stop offset=".135" stop-color="#cecece"/><stop offset=".157" stop-color="#e3e3e3"/><stop offset=".169" stop-color="#ededed"/><stop offset=".191" stop-color="#fafafa"/><stop offset=".21" stop-color="#ffffff"/><stop offset=".226" stop-color="#ffffff"/><stop offset=".251" stop-color="#f7f7f7"/><stop offset=".276" stop-color="#e5e5e5"/><stop offset=".288" stop-color="#d9d9d9"/><stop offset=".307" stop-color="#c4c4c4"/><stop offset=".357" stop-color="#848484"/><stop offset=".395" stop-color="#585858"/><stop offset=".423" stop-color="#3d3d3d"/><stop offset=".448" stop-color="#2a2a2a"/><stop offset=".467" stop-color="#1f1f1f"/><stop offset=".489" stop-color="#151515"/><stop offset=".514" stop-color="#0d0d0d"/><stop offset=".542" stop-color="#070707"/><stop offset=".611" stop-color="#010101"/><stop offset="1" stop-color="#000000"/></linearGradient>
<linearGradient id="c173" x1="0" y1="0" x2="0" y2="1"><stop offset="0" stop-color="#494949"/><stop offset=".006" stop-color="#494949"/><stop offset=".013" stop-color="#4d4d4d"/><stop offset=".038" stop-color="#646464"/><stop offset=".072" stop-color="#898989"/><stop offset=".125" stop-color="#c6c6c6"/><stop offset=".157" stop-color="#e4e4e4"/><stop offset=".172" stop-color="#f0f0f0"/><stop offset=".194" stop-color="#fbfbfb"/><stop offset=".207" stop-color="#fefefe"/><stop offset=".223" stop-color="#fefefe"/><stop offset=".245" stop-color="#f8f8f8"/><stop offset=".257" stop-color="#f1f1f1"/><stop offset=".273" stop-color="#e5e5e5"/><stop offset=".288" stop-color="#d6d6d6"/><stop offset=".31" stop-color="#bdbdbd"/><stop offset=".376" stop-color="#6a6a6a"/><stop offset=".398" stop-color="#525252"/><stop offset=".417" stop-color="#404040"/><stop offset=".436" stop-color="#313131"/><stop offset=".461" stop-color="#212121"/><stop offset=".489" stop-color="#141414"/><stop offset=".508" stop-color="#0e0e0e"/><stop offset=".542" stop-color="#070707"/><stop offset=".574" stop-color="#030303"/><stop offset=".608" stop-color="#010101"/><stop offset="1" stop-color="#000000"/></linearGradient>
<linearGradient id="c174" x1="0" y1="0" x2="0" y2="1"><stop offset="0" stop-color="#4c4c4c"/><stop offset=".006" stop-color="#4c4c4c"/><stop offset=".009" stop-color="#4e4e4e"/><stop offset=".047" stop-color="#717171"/><stop offset=".119" stop-color="#c1c1c1"/><stop offset=".154" stop-color="#e2e2e2"/><stop offset=".182" stop-color="#f5f5f5"/><stop offset=".194" stop-color="#fafafa"/><stop offset=".216" stop-color="#fdfdfd"/><stop offset=".226" stop-color="#fcfcfc"/><stop offset=".241" stop-color="#f7f7f7"/><stop offset=".26" stop-color="#ececec"/><stop offset=".273" stop-color="#e2e2e2"/><stop offset=".288" stop-color="#d3d3d3"/><stop offset=".31" stop-color="#bababa"/><stop offset=".373" stop-color="#6b6b6b"/><stop offset=".392" stop-color="#565656"/><stop offset=".417" stop-color="#3e3e3e"/><stop offset=".436" stop-color="#2f2f2f"/><stop offset=".455" stop-color="#232323"/><stop offset=".476" stop-color="#181818"/><stop offset=".492" stop-color="#121212"/><stop offset=".517" stop-color="#0b0b0b"/><stop offset=".552" stop-color="#050505"/><stop offset=".608" stop-color="#010101"/><stop offset="1" stop-color="#000000"/></linearGradient>
<linearGradient id="c175" x1="0" y1="0" x2="0" y2="1"><stop offset="0" stop-color="#4f4f4f"/><stop offset=".006" stop-color="#4f4f4f"/><stop offset=".019" stop-color="#595959"/><stop offset=".05" stop-color="#777777"/><stop offset=".119" stop-color="#c2c2c2"/><stop offset=".154" stop-color="#e2e2e2"/><stop offset=".169" stop-color="#ededed"/><stop offset=".185" stop-color="#f5f5f5"/><stop offset=".204" stop-color="#fafafa"/><stop offset=".223" stop-color="#fafafa"/><stop offset=".248" stop-color="#f1f1f1"/><stop offset=".27" stop-color="#e2e2e2"/><stop offset=".288" stop-color="#d0d0d0"/><stop offset=".307" stop-color="#bbbbbb"/><stop offset=".367" stop-color="#707070"/><stop offset=".389" stop-color="#575757"/><stop offset=".417" stop-color="#3c3c3c"/><stop offset=".439" stop-color="#2b2b2b"/><stop offset=".476" stop-color="#171717"/><stop offset=".511" stop-color="#0c0c0c"/><stop offset=".53" stop-color="#080808"/><stop offset=".571" stop-color="#030303"/><stop offset=".605" stop-color="#010101"/><stop offset="1" stop-color="#000000"/></linearGradient>
<linearGradient id="c176" x1="0" y1="0" x2="0" y2="1"><stop offset="0" stop-color="#525252"/><stop offset=".006" stop-color="#525252"/><stop offset=".028" stop-color="#646464"/><stop offset=".06" stop-color="#838383"/><stop offset=".113" stop-color="#bcbcbc"/><stop offset=".138" stop-color="#d4d4d4"/><stop offset=".157" stop-color="#e3e3e3"/><stop offset=".179" stop-color="#f0f0f0"/><stop offset=".201" stop-color="#f7f7f7"/><stop offset=".223" stop-color="#f7f7f7"/><stop offset=".248" stop-color="#eeeeee"/><stop offset=".273" stop-color="#dcdcdc"/><stop offset=".288" stop-color="#cdcdcd"/><stop offset=".317" stop-color="#adadad"/><stop offset=".351" stop-color="#818181"/><stop offset=".376" stop-color="#636363"/><stop offset=".389" stop-color="#555555"/><stop offset=".417" stop-color="#3a3a3a"/><stop offset=".433" stop-color="#2e2e2e"/><stop offset=".455" stop-color="#202020"/><stop offset=".473" stop-color="#171717"/><stop offset=".508" stop-color="#0c0c0c"/><stop offset=".533" stop-color="#070707"/><stop offset=".567" stop-color="#030303"/><stop offset=".643" stop-color="#000000"/><stop offset="1" stop-color="#000000"/></linearGradient>
<linearGradient id="c177" x1="0" y1="0" x2="0" y2="1"><stop offset="0" stop-color="#545454"/><stop offset=".006" stop-color="#545454"/><stop offset=".009" stop-color="#565656"/><stop offset=".031" stop-color="#696969"/><stop offset=".053" stop-color="#7e7e7e"/><stop offset=".1" stop-color="#afafaf"/><stop offset=".132" stop-color="#cdcdcd"/><stop offset=".147" stop-color="#dadada"/><stop offset=".179" stop-color="#ededed"/><stop offset=".197" stop-color="#f3f3f3"/><stop offset=".216" stop-color="#f4f4f4"/><stop offset=".248" stop-color="#eaeaea"/><stop offset=".263" stop-color="#e0e0e0"/><stop offset=".276" stop-color="#d6d6d6"/><stop offset=".288" stop-color="#cacaca"/><stop offset=".31" stop-color="#b2b2b2"/><stop offset=".364" stop-color="#707070"/><stop offset=".386" stop-color="#575757"/><stop offset=".417" stop-color="#393939"/><stop offset=".429" stop-color="#2f2f2f"/><stop offset=".455" stop-color="#1f1f1f"/><stop offset=".473" stop-color="#161616"/><stop offset=".505" stop-color="#0c0c0c"/><stop offset=".555" stop-color="#040404"/><stop offset=".643" stop-color="#000000"/><stop offset="1" stop-color="#000000"/></linearGradient>
<linearGradient id="c178" x1="0" y1="0" x2="0" y2="1"><stop offset="0" stop-color="#565656"/><stop offset=".006" stop-color="#565656"/><stop offset=".025" stop-color="#656565"/><stop offset=".125" stop-color="#c5c5c5"/><stop offset=".15" stop-color="#d9d9d9"/><stop offset=".163" stop-color="#e1e1e1"/><stop offset=".182" stop-color="#eaeaea"/><stop offset=".204" stop-color="#efefef"/><stop offset=".216" stop-color="#efefef"/><stop offset=".238" stop-color="#eaeaea"/><stop offset=".251" stop-color="#e4e4e4"/><stop offset=".273" stop-color="#d5d5d5"/><stop offset=".301" stop-color="#bababa"/><stop offset=".313" stop-color="#acacac"/><stop offset=".379" stop-color="#5d5d5d"/><stop offset=".417" stop-color="#383838"/><stop offset=".429" stop-color="#2e2e2e"/><stop offset=".455" stop-color="#1e1e1e"/><stop offset=".473" stop-color="#151515"/><stop offset=".502" stop-color="#0c0c0c"/><stop offset=".533" stop-color="#060606"/><stop offset=".599" stop-color="#010101"/><stop offset="1" stop-color="#000000"/></linearGradient>
<linearGradient id="c179" x1="0" y1="0" x2="0" y2="1"><stop offset="0" stop-color="#575757"/><stop offset=".006" stop-color="#575757"/><stop offset=".016" stop-color="#5e5e5e"/><stop offset=".047" stop-color="#797979"/><stop offset=".113" stop-color="#b7b7b7"/><stop offset=".141" stop-color="#cecece"/><stop offset=".163" stop-color="#dcdcdc"/><stop offset=".176" stop-color="#e2e2e2"/><stop offset=".194" stop-color="#e8e8e8"/><stop offset=".219" stop-color="#e9e9e9"/><stop offset=".251" stop-color="#dfdfdf"/><stop offset=".27" stop-color="#d3d3d3"/><stop offset=".285" stop-color="#c6c6c6"/><stop offset=".31" stop-color="#adadad"/><stop offset=".386" stop-color="#565656"/><stop offset=".417" stop-color="#383838"/><stop offset=".429" stop-color="#2e2e2e"/><stop offset=".458" stop-color="#1c1c1c"/><stop offset=".48" stop-color="#121212"/><stop offset=".498" stop-color="#0c0c0c"/><stop offset=".536" stop-color="#050505"/><stop offset=".596" stop-color="#010101"/><stop offset="1" stop-color="#000000"/></linearGradient>
<linearGradient id="c180" x1="0" y1="0" x2="0" y2="1"><stop offset="0" stop-color="#585858"/><stop offset=".006" stop-color="#585858"/><stop offset=".013" stop-color="#5c5c5c"/><stop offset=".05" stop-color="#7b7b7b"/><stop offset=".113" stop-color="#b3b3b3"/><stop offset=".135" stop-color="#c4c4c4"/><stop offset=".16" stop-color="#d4d4d4"/><stop offset=".172" stop-color="#dadada"/><stop offset=".194" stop-color="#e1e1e1"/><stop offset=".219" stop-color="#e2e2e2"/><stop offset=".232" stop-color="#e0e0e0"/><stop offset=".251" stop-color="#d9d9d9"/><stop offset=".266" stop-color="#d0d0d0"/><stop offset=".288" stop-color="#bfbfbf"/><stop offset=".31" stop-color="#aaaaaa"/><stop offset=".329" stop-color="#969696"/><stop offset=".373" stop-color="#646464"/><stop offset=".395" stop-color="#4d4d4d"/><stop offset=".426" stop-color="#313131"/><stop offset=".464" stop-color="#191919"/><stop offset=".48" stop-color="#121212"/><stop offset=".505" stop-color="#0a0a0a"/><stop offset=".542" stop-color="#040404"/><stop offset=".589" stop-color="#010101"/><stop offset="1" stop-color="#000000"/></linearGradient>
<linearGradient id="c181" x1="0" y1="0" x2="0" y2="1"><stop offset="0" stop-color="#575757"/><stop offset=".006" stop-color="#585858"/><stop offset=".016" stop-color="#5e5e5e"/><stop offset=".05" stop-color="#797979"/><stop offset=".116" stop-color="#b0b0b0"/><stop offset=".157" stop-color="#cbcbcb"/><stop offset=".169" stop-color="#d1d1d1"/><stop offset=".191" stop-color="#d8d8d8"/><stop offset=".204" stop-color="#dadada"/><stop offset=".219" stop-color="#dadada"/><stop offset=".232" stop-color="#d8d8d8"/><stop offset=".248" stop-color="#d3d3d3"/><stop offset=".26" stop-color="#cdcdcd"/><stop offset=".282" stop-color="#bfbfbf"/><stop offset=".313" stop-color="#a4a4a4"/><stop offset=".379" stop-color="#5e5e5e"/><stop offset=".423" stop-color="#353535"/><stop offset=".442" stop-color="#272727"/><stop offset=".464" stop-color="#1a1a1a"/><stop offset=".486" stop-color="#101010"/><stop offset=".502" stop-color="#0b0b0b"/><stop offset=".53" stop-color="#050505"/><stop offset=".58" stop-color="#010101"/><stop offset="1" stop-color="#000000"/></linearGradient>
<linearGradient id="c182" x1="0" y1="0" x2="0" y2="1"><stop offset="0" stop-color="#565656"/><stop offset=".006" stop-color="#565656"/><stop offset=".05" stop-color="#767676"/><stop offset=".103" stop-color="#a0a0a0"/><stop offset=".147" stop-color="#bdbdbd"/><stop offset=".163" stop-color="#c5c5c5"/><stop offset=".185" stop-color="#cdcdcd"/><stop offset=".201" stop-color="#d0d0d0"/><stop offset=".226" stop-color="#d0d0d0"/><stop offset=".257" stop-color="#c7c7c7"/><stop offset=".282" stop-color="#b9b9b9"/><stop offset=".31" stop-color="#a3a3a3"/><stop offset=".411" stop-color="#424242"/><stop offset=".436" stop-color="#2e2e2e"/><stop offset=".464" stop-color="#1c1c1c"/><stop offset=".483" stop-color="#131313"/><stop offset=".505" stop-color="#0b0b0b"/><stop offset=".52" stop-color="#070707"/><stop offset=".555" stop-color="#020202"/><stop offset=".611" stop-color="#000000"/><stop offset="1" stop-color="#000000"/></linearGradient>
<linearGradient id="c183" x1="0" y1="0" x2="0" y2="1"><stop offset="0" stop-color="#555555"/><stop offset=".006" stop-color="#555555"/><stop offset=".034" stop-color="#676767"/><stop offset=".113" stop-color="#9f9f9f"/><stop offset=".15" stop-color="#b5b5b5"/><stop offset=".166" stop-color="#bcbcbc"/><stop offset=".194" stop-color="#c4c4c4"/><stop offset=".213" stop-color="#c6c6c6"/><stop offset=".229" stop-color="#c5c5c5"/><stop offset=".245" stop-color="#c2c2c2"/><stop offset=".263" stop-color="#bbbbbb"/><stop offset=".276" stop-color="#b5b5b5"/><stop offset=".304" stop-color="#a3a3a3"/><stop offset=".342" stop-color="#848484"/><stop offset=".401" stop-color="#4d4d4d"/><stop offset=".442" stop-color="#2d2d2d"/><stop offset=".461" stop-color="#212121"/><stop offset=".489" stop-color="#131313"/><stop offset=".524" stop-color="#080808"/><stop offset=".552" stop-color="#030303"/><stop offset=".592" stop-color="#000000"/><stop offset="1" stop-color="#000000"/></linearGradient>
<linearGradient id="c184" x1="0" y1="0" x2="0" y2="1"><stop offset="0" stop-color="#525252"/><stop offset=".006" stop-color="#525252"/><stop offset=".019" stop-color="#595959"/><stop offset=".113" stop-color="#969696"/><stop offset=".144" stop-color="#a7a7a7"/><stop offset=".182" stop-color="#b5b5b5"/><stop offset=".204" stop-color="#b9b9b9"/><stop offset=".229" stop-color="#b9b9b9"/><stop offset=".248" stop-color="#b6b6b6"/><stop offset=".266" stop-color="#b0b0b0"/><stop offset=".292" stop-color="#a4a4a4"/><stop offset=".329" stop-color="#8b8b8b"/><stop offset=".411" stop-color="#484848"/><stop offset=".445" stop-color="#2f2f2f"/><stop offset=".489" stop-color="#171717"/><stop offset=".53" stop-color="#090909"/><stop offset=".555" stop-color="#040404"/><stop offset=".602" stop-color="#000000"/><stop offset="1" stop-color="#000000"/></linearGradient>
<linearGradient id="c185" x1="0" y1="0" x2="0" y2="1"><stop offset="0" stop-color="#4f4f4f"/><stop offset=".009" stop-color="#505050"/><stop offset=".1" stop-color="#858585"/><stop offset=".154" stop-color="#9f9f9f"/><stop offset=".191" stop-color="#aaaaaa"/><stop offset=".207" stop-color="#acacac"/><stop offset=".232" stop-color="#acacac"/><stop offset=".251" stop-color="#a9a9a9"/><stop offset=".266" stop-color="#a4a4a4"/><stop offset=".282" stop-color="#9f9f9f"/><stop offset=".301" stop-color="#969696"/><stop offset=".345" stop-color="#7b7b7b"/><stop offset=".42" stop-color="#444444"/><stop offset=".458" stop-color="#2c2c2c"/><stop offset=".498" stop-color="#181818"/><stop offset=".542" stop-color="#0a0a0a"/><stop offset=".583" stop-color="#030303"/><stop offset=".633" stop-color="#000000"/><stop offset="1" stop-color="#000000"/></linearGradient>
<linearGradient id="c186" x1="0" y1="0" x2="0" y2="1"><stop offset="0" stop-color="#4a4a4a"/><stop offset=".006" stop-color="#4a4a4a"/><stop offset=".1" stop-color="#7b7b7b"/><stop offset=".157" stop-color="#939393"/><stop offset=".201" stop-color="#9d9d9d"/><stop offset=".232" stop-color="#9e9e9e"/><stop offset=".26" stop-color="#9a9a9a"/><stop offset=".304" stop-color="#8b8b8b"/><stop offset=".345" stop-color="#767676"/><stop offset=".408" stop-color="#4e4e4e"/><stop offset=".461" stop-color="#2f2f2f"/><stop offset=".508" stop-color="#1a1a1a"/><stop offset=".555" stop-color="#0c0c0c"/><stop offset=".589" stop-color="#060606"/><stop offset=".655" stop-color="#010101"/><stop offset="1" stop-color="#000000"/></linearGradient>
<linearGradient id="c187" x1="0" y1="0" x2="0" y2="1"><stop offset="0" stop-color="#464646"/><stop offset=".013" stop-color="#484848"/><stop offset=".107" stop-color="#737373"/><stop offset=".16" stop-color="#868686"/><stop offset=".201" stop-color="#8e8e8e"/><stop offset=".235" stop-color="#8f8f8f"/><stop offset=".276" stop-color="#898989"/><stop offset=".31" stop-color="#7e7e7e"/><stop offset=".357" stop-color="#696969"/><stop offset=".426" stop-color="#444444"/><stop offset=".476" stop-color="#2c2c2c"/><stop offset=".505" stop-color="#212121"/><stop offset=".536" stop-color="#171717"/><stop offset=".571" stop-color="#0f0f0f"/><stop offset=".636" stop-color="#060606"/><stop offset=".708" stop-color="#020202"/><stop offset=".803" stop-color="#000000"/><stop offset="1" stop-color="#000000"/></linearGradient>
<linearGradient id="c188" x1="0" y1="0" x2="0" y2="1"><stop offset="0" stop-color="#404040"/><stop offset=".006" stop-color="#404040"/><stop offset=".094" stop-color="#636363"/><stop offset=".157" stop-color="#777777"/><stop offset=".204" stop-color="#7f7f7f"/><stop offset=".248" stop-color="#7f7f7f"/><stop offset=".295" stop-color="#777777"/><stop offset=".342" stop-color="#686868"/><stop offset=".433" stop-color="#414141"/><stop offset=".492" stop-color="#2a2a2a"/><stop offset=".533" stop-color="#1e1e1e"/><stop offset=".564" stop-color="#171717"/><stop offset=".602" stop-color="#111111"/><stop offset=".655" stop-color="#0b0b0b"/><stop offset=".787" stop-color="#020202"/><stop offset=".85" stop-color="#000000"/><stop offset="1" stop-color="#000000"/></linearGradient>
<linearGradient id="c189" x1="0" y1="0" x2="0" y2="1"><stop offset="0" stop-color="#3b3b3b"/><stop offset=".006" stop-color="#3b3b3b"/><stop offset=".113" stop-color="#5e5e5e"/><stop offset=".144" stop-color="#666666"/><stop offset=".197" stop-color="#6f6f6f"/><stop offset=".245" stop-color="#707070"/><stop offset=".282" stop-color="#6c6c6c"/><stop offset=".32" stop-color="#646464"/><stop offset=".389" stop-color="#4f4f4f"/><stop offset=".476" stop-color="#313131"/><stop offset=".517" stop-color="#262626"/><stop offset=".571" stop-color="#1c1c1c"/><stop offset=".624" stop-color="#171717"/><stop offset=".693" stop-color="#131313"/><stop offset=".781" stop-color="#080808"/><stop offset=".843" stop-color="#020202"/><stop offset=".893" stop-color="#000000"/><stop offset="1" stop-color="#000000"/></linearGradient>
<linearGradient id="c190" x1="0" y1="0" x2="0" y2="1"><stop offset="0" stop-color="#353535"/><stop offset=".019" stop-color="#383838"/><stop offset=".088" stop-color="#4c4c4c"/><stop offset=".15" stop-color="#5a5a5a"/><stop offset=".197" stop-color="#606060"/><stop offset=".241" stop-color="#616161"/><stop offset=".279" stop-color="#5e5e5e"/><stop offset=".323" stop-color="#575757"/><stop offset=".367" stop-color="#4d4d4d"/><stop offset=".486" stop-color="#2e2e2e"/><stop offset=".552" stop-color="#222222"/><stop offset=".589" stop-color="#1f1f1f"/><stop offset=".618" stop-color="#1f1f1f"/><stop offset=".671" stop-color="#222222"/><stop offset=".715" stop-color="#212121"/><stop offset=".752" stop-color="#1c1c1c"/><stop offset=".828" stop-color="#0b0b0b"/><stop offset=".871" stop-color="#040404"/><stop offset=".937" stop-color="#000000"/><stop offset="1" stop-color="#000000"/></linearGradient>
<linearGradient id="c191" x1="0" y1="0" x2="0" y2="1"><stop offset="0" stop-color="#2f2f2f"/><stop offset=".025" stop-color="#333333"/><stop offset=".088" stop-color="#424242"/><stop offset=".15" stop-color="#4d4d4d"/><stop offset=".204" stop-color="#525252"/><stop offset=".251" stop-color="#525252"/><stop offset=".32" stop-color="#4b4b4b"/><stop offset=".505" stop-color="#282828"/><stop offset=".564" stop-color="#212121"/><stop offset=".596" stop-color="#212121"/><stop offset=".614" stop-color="#232323"/><stop offset=".705" stop-color="#363636"/><stop offset=".743" stop-color="#373737"/><stop offset=".762" stop-color="#343434"/><stop offset=".799" stop-color="#282828"/><stop offset=".843" stop-color="#161616"/><stop offset=".875" stop-color="#0c0c0c"/><stop offset=".897" stop-color="#070707"/><stop offset=".95" stop-color="#010101"/><stop offset="1" stop-color="#010101"/></linearGradient>
<linearGradient id="c192" x1="0" y1="0" x2="0" y2="1"><stop offset="0" stop-color="#2d2d2d"/><stop offset=".006" stop-color="#2d2d2d"/><stop offset=".119" stop-color="#454545"/><stop offset=".154" stop-color="#4a4a4a"/><stop offset=".201" stop-color="#4e4e4e"/><stop offset=".251" stop-color="#4e4e4e"/><stop offset=".307" stop-color="#494949"/><stop offset=".367" stop-color="#404040"/><stop offset=".417" stop-color="#363636"/><stop offset=".502" stop-color="#282828"/><stop offset=".558" stop-color="#212121"/><stop offset=".596" stop-color="#212121"/><stop offset=".618" stop-color="#242424"/><stop offset=".636" stop-color="#282828"/><stop offset=".708" stop-color="#3d3d3d"/><stop offset=".724" stop-color="#3f3f3f"/><stop offset=".746" stop-color="#3f3f3f"/><stop offset=".765" stop-color="#3c3c3c"/><stop offset=".79" stop-color="#343434"/><stop offset=".846" stop-color="#1a1a1a"/><stop offset=".893" stop-color="#0a0a0a"/><stop offset=".934" stop-color="#030303"/><stop offset=".959" stop-color="#010101"/><stop offset="1" stop-color="#010101"/></linearGradient>
<linearGradient id="c193" x1="0" y1="0" x2="0" y2="1"><stop offset="0" stop-color="#2d2d2d"/><stop offset=".006" stop-color="#2d2d2d"/><stop offset=".119" stop-color="#454545"/><stop offset=".154" stop-color="#4a4a4a"/><stop offset=".201" stop-color="#4e4e4e"/><stop offset=".251" stop-color="#4e4e4e"/><stop offset=".307" stop-color="#494949"/><stop offset=".367" stop-color="#404040"/><stop offset=".417" stop-color="#363636"/><stop offset=".502" stop-color="#282828"/><stop offset=".558" stop-color="#212121"/><stop offset=".596" stop-color="#212121"/><stop offset=".618" stop-color="#242424"/><stop offset=".636" stop-color="#282828"/><stop offset=".708" stop-color="#3d3d3d"/><stop offset=".724" stop-color="#3f3f3f"/><stop offset=".746" stop-color="#3f3f3f"/><stop offset=".765" stop-color="#3c3c3c"/><stop offset=".79" stop-color="#343434"/><stop offset=".846" stop-color="#1a1a1a"/><stop offset=".893" stop-color="#0a0a0a"/><stop offset=".934" stop-color="#030303"/><stop offset=".959" stop-color="#010101"/><stop offset="1" stop-color="#010101"/></linearGradient>
<filter id="pm" filterUnits="userSpaceOnUse" x="281.7" y="788.6" width="1468.8" height="643" color-interpolation-filters="sRGB"><feGaussianBlur stdDeviation="4.5 0"/><feComponentTransfer><feFuncR type="table" tableValues=".2422 .2504 .2578 .2647 .2706 .2751 .2783 .2803 .2813 .281 .2795 .276 .2699 .2602 .244 .2206 .1963 .1834 .1786 .1764 .1687 .154 .146 .138 .1248 .1113 .0952 .0689 .0297 .0036 .0067 .0433 .0964 .1408 .1717 .1938 .2161 .247 .2906 .3406 .3909 .4456 .5044 .5616 .6174 .672 .7242 .7738 .8203 .8634 .9035 .9393 .9728 .9956 .997 .9952 .9892 .9786 .9676 .961 .9597 .9628 .9691 .9769"/><feFuncG type="table" tableValues=".1504 .165 .1818 .1978 .2147 .2342 .2559 .2782 .3006 .3228 .3447 .3667 .3892 .4123 .4358 .4603 .4847 .5074 .5289 .5499 .5703 .5902 .6091 .6276 .6459 .6635 .6798 .6948 .7082 .7203 .7312 .7411 .75 .7584 .767 .7758 .7843 .7918 .7973 .8008 .8029 .8024 .7993 .7942 .7876 .7793 .7698 .7598 .7498 .7406 .733 .7288 .7298 .7434 .7659 .7893 .8136 .8386 .8639 .889 .9135 .9373 .9606 .9839"/><feFuncB type="table" tableValues=".6603 .7076 .7511 .7952 .8364 .871 .8991 .9221 .9414 .9579 .9717 .9829 .9906 .9952 .9988 .9973 .9892 .9798 .9682 .952 .9359 .9218 .9079 .8973 .8883 .8763 .8598 .8394 .8163 .7917 .766 .7394 .712 .6842 .6554 .6251 .5923 .5567 .5188 .4789 .4354 .3909 .348 .3045 .2612 .2227 .191 .1646 .1535 .1596 .1774 .21 .2394 .2371 .2199 .2028 .1885 .1766 .1643 .1537 .1423 .1265 .1064 .0805"/></feComponentTransfer></filter><clipPath id="hc"><rect x="307.2" y="790.6" width="1417.8" height="639"/></clipPath>
<linearGradient id="cb" x1="0" y1="0" x2="0" y2="1"><stop offset="0" stop-color="rgb(249,251,21)"/><stop offset=".0159" stop-color="rgb(247,245,27)"/><stop offset=".0317" stop-color="rgb(246,239,32)"/><stop offset=".0476" stop-color="rgb(245,233,36)"/><stop offset=".0635" stop-color="rgb(245,227,39)"/><stop offset=".0794" stop-color="rgb(247,220,42)"/><stop offset=".0952" stop-color="rgb(250,214,45)"/><stop offset=".1111" stop-color="rgb(252,207,48)"/><stop offset=".127" stop-color="rgb(254,201,52)"/><stop offset=".1429" stop-color="rgb(254,195,56)"/><stop offset=".1587" stop-color="rgb(254,190,60)"/><stop offset=".1746" stop-color="rgb(248,186,61)"/><stop offset=".1905" stop-color="rgb(240,186,54)"/><stop offset=".2063" stop-color="rgb(230,187,45)"/><stop offset=".2222" stop-color="rgb(220,189,41)"/><stop offset=".2381" stop-color="rgb(209,191,39)"/><stop offset=".254" stop-color="rgb(197,194,42)"/><stop offset=".2698" stop-color="rgb(185,196,49)"/><stop offset=".2857" stop-color="rgb(171,199,57)"/><stop offset=".3016" stop-color="rgb(157,201,67)"/><stop offset=".3175" stop-color="rgb(143,203,78)"/><stop offset=".3333" stop-color="rgb(129,204,89)"/><stop offset=".3492" stop-color="rgb(114,205,100)"/><stop offset=".3651" stop-color="rgb(100,205,111)"/><stop offset=".381" stop-color="rgb(87,204,122)"/><stop offset=".3968" stop-color="rgb(74,203,132)"/><stop offset=".4127" stop-color="rgb(63,202,142)"/><stop offset=".4286" stop-color="rgb(55,200,151)"/><stop offset=".4444" stop-color="rgb(49,198,159)"/><stop offset=".4603" stop-color="rgb(44,196,167)"/><stop offset=".4762" stop-color="rgb(36,193,174)"/><stop offset=".4921" stop-color="rgb(25,191,182)"/><stop offset=".5079" stop-color="rgb(11,189,189)"/><stop offset=".5238" stop-color="rgb(2,186,195)"/><stop offset=".5397" stop-color="rgb(1,184,202)"/><stop offset=".5556" stop-color="rgb(8,181,208)"/><stop offset=".5714" stop-color="rgb(18,177,214)"/><stop offset=".5873" stop-color="rgb(24,173,219)"/><stop offset=".6032" stop-color="rgb(28,169,223)"/><stop offset=".619" stop-color="rgb(32,165,227)"/><stop offset=".6349" stop-color="rgb(35,160,229)"/><stop offset=".6508" stop-color="rgb(37,155,232)"/><stop offset=".6667" stop-color="rgb(39,151,235)"/><stop offset=".6825" stop-color="rgb(43,145,239)"/><stop offset=".6984" stop-color="rgb(45,140,243)"/><stop offset=".7143" stop-color="rgb(46,135,247)"/><stop offset=".7302" stop-color="rgb(47,129,250)"/><stop offset=".746" stop-color="rgb(50,124,252)"/><stop offset=".7619" stop-color="rgb(56,117,254)"/><stop offset=".7778" stop-color="rgb(62,111,255)"/><stop offset=".7937" stop-color="rgb(66,105,254)"/><stop offset=".8095" stop-color="rgb(69,99,253)"/><stop offset=".8254" stop-color="rgb(70,94,251)"/><stop offset=".8413" stop-color="rgb(71,88,248)"/><stop offset=".8571" stop-color="rgb(72,82,244)"/><stop offset=".873" stop-color="rgb(72,77,240)"/><stop offset=".8889" stop-color="rgb(71,71,235)"/><stop offset=".9048" stop-color="rgb(71,65,229)"/><stop offset=".9206" stop-color="rgb(70,60,222)"/><stop offset=".9365" stop-color="rgb(69,55,213)"/><stop offset=".9524" stop-color="rgb(67,50,203)"/><stop offset=".9683" stop-color="rgb(66,46,192)"/><stop offset=".9841" stop-color="rgb(64,42,180)"/><stop offset="1" stop-color="rgb(62,38,168)"/></linearGradient>
<clipPath id="ac"><rect x="315.2" y="60.3" width="1411.4" height="640.3"/></clipPath>
</defs>
<rect width="1957" height="1678" fill="#fff"/>
<g id="panel-a">
<rect x="316.2" y="61.3" width="1409.4" height="638.3" fill="none" stroke="#3a3a3a" stroke-width="2.4"/>
<path d="M517.5 699.6v-14M517.5 61.3v14M718.9 699.6v-14M718.9 61.3v14M920.2 699.6v-14M920.2 61.3v14M1121.6 699.6v-14M1121.6 61.3v14M1322.9 699.6v-14M1322.9 61.3v14M1524.3 699.6v-14M1524.3 61.3v14M316.2 380.4h14M1725.6 380.4h-14" stroke="#3a3a3a" stroke-width="2.2" fill="none"/>
<polyline clip-path="url(#ac)" fill="none" stroke="#4d8ab6" stroke-width="2.1" stroke-linejoin="round" points="316.2,61.3 316.7,63.2 317.2,68.8 317.7,78.1 318.2,90.8 318.7,106.9 319.2,126.1 319.7,148.1 320.2,172.7 320.7,199.6 321.2,228.4 321.7,258.8 322.2,290.5 322.7,323 323.2,356.1 323.7,389.4 324.2,422.4 324.7,454.9 325.2,486.5 325.7,516.8 326.2,545.7 326.7,572.7 327.2,597.6 327.7,620.2 328.2,640.2 328.7,657.6 329.2,672.1 329.7,683.6 330.2,692 330.7,697.3 331.2,699.5 331.7,698.6 332.2,694.6 332.7,687.6 333.2,677.6 333.7,664.9 334.2,649.5 334.7,631.7 335.2,611.6 335.7,589.4 336.2,565.4 336.7,539.8 337.2,512.9 337.7,484.9 338.2,456 338.7,426.6 339.2,396.9 339.7,367.2 340.2,337.7 340.7,308.7 341.2,280.4 341.7,253 342.2,226.9 342.7,202.1 343.2,178.8 343.7,157.3 344.2,137.7 344.7,120.2 345.2,104.7 345.7,91.6 346.2,80.7 346.7,72.2 347.2,66.1 347.7,62.5 348.2,61.3 348.7,62.5 349.2,66.1 349.7,71.9 350.2,80.1 350.7,90.4 351.2,102.7 351.7,117 352.2,133.2 352.7,151 353.2,170.5 353.7,191.3 354.2,213.4 354.7,236.6 355.2,260.8 355.7,285.7 356.2,311.3 356.7,337.2 357.2,363.4 357.7,389.7 358.2,415.9 358.7,441.8 359.2,467.3 359.7,492.1 360.2,516.2 360.7,539.4 361.2,561.5 361.7,582.4 362.2,601.9 362.7,619.9 363.2,636.4 363.7,651.1 364.2,664 364.7,675.1 365.2,684.1 365.7,691.2 366.2,696.1 366.7,698.9 367.2,699.6 367.7,698 368.2,694.3 368.7,688.5 369.2,680.5 369.7,670.5 370.2,658.4 370.7,644.4 371.2,628.6 371.7,611.1 372.2,591.9 372.7,571.3 373.2,549.3 373.7,526.2 374.2,502 374.7,477 375.2,451.3 375.7,425.2 376.2,398.7 376.7,372.1 377.2,345.7 377.7,319.4 378.2,293.6 378.7,268.5 379.2,244.1 379.7,220.7 380.2,198.4 380.7,177.4 381.2,157.8 381.7,139.8 382.2,123.4 382.7,108.8 383.2,96 383.7,85.1 384.2,76.3 384.7,69.4 385.2,64.7 385.7,62 386.2,61.3 386.7,62.8 387.2,66.3 387.7,71.7 388.2,79.2 388.7,88.5 389.2,99.6 389.7,112.4 390.2,126.9 390.7,143 391.2,160.4 391.7,179.2 392.2,199.2 392.7,220.3 393.2,242.2 393.7,265 394.2,288.5 394.7,312.4 395.2,336.8 395.7,361.4 396.2,386 396.7,410.6 397.2,435 397.7,459.1 398.2,482.6 398.7,505.6 399.2,527.7 399.7,549 400.2,569.3 400.7,588.5 401.2,606.5 401.7,623.1 402.2,638.3 402.7,651.9 403.2,664 403.7,674.4 404.2,683.1 404.7,690 405.2,695 405.7,698.2 406.2,699.6 406.7,699 407.2,696.5 407.7,692.2 408.2,686 408.7,677.9 409.2,668.1 409.7,656.6 410.2,643.4 410.7,628.7 411.2,612.4 411.7,594.8 412.2,575.9 412.7,555.8 413.2,534.7 413.7,512.7 414.2,489.9 414.7,466.5 415.2,442.6 415.7,418.3 416.2,393.9 416.7,369.3 417.2,344.9 417.7,320.7 418.2,297 418.7,273.7 419.2,251.1 419.7,229.3 420.2,208.4 420.7,188.5 421.2,169.7 421.7,152.3 422.2,136.1 422.7,121.4 423.2,108.1 423.7,96.5 424.2,86.4 424.7,78 425.2,71.3 425.7,66.3 426.2,63 426.7,61.4 427.2,61.6 427.7,63.5 428.2,67 428.7,72.2 429.2,79 429.7,87.3 430.2,97.2 430.7,108.4 431.2,121.1 431.7,135 432.2,150.2 432.7,166.5 433.2,183.8 433.7,202.1 434.2,221.2 434.7,241.2 435.2,261.8 435.7,282.9 436.2,304.6 436.7,326.5 437.2,348.8 437.7,371.2 438.2,393.6 438.7,415.9 439.2,438.1 439.7,460 440.2,481.5 440.7,502.5 441.2,522.9 441.7,542.6 442.2,561.5 442.7,579.6 443.2,596.6 443.7,612.7 444.2,627.5 444.7,641.2 445.2,653.6 445.7,664.6 446.2,674.2 446.7,682.4 447.2,689 447.7,694 448.2,697.5 448.7,699.3 449.2,699.5 449.7,698 450.2,694.8 450.7,690 451.2,683.5 451.7,675.3 452.2,665.6 452.7,654.4 453.2,641.6 453.7,627.5 454.2,612 454.7,595.2 455.2,577.2 455.7,558.2 456.2,538.2 456.7,517.4 457.2,495.8 457.7,473.5 458.2,450.8 458.7,427.7 459.2,404.4 459.7,381 460.2,357.6 460.7,334.3 461.2,311.3 461.7,288.8 462.2,266.7 462.7,245.3 463.2,224.7 463.7,205 464.2,186.2 464.7,168.4 465.2,151.9 465.7,136.5 466.2,122.5 466.7,109.8 467.2,98.5 467.7,88.6 468.2,80.3 468.7,73.4 469.2,68.1 469.7,64.3 470.2,62.1 470.7,61.3 471.2,62 471.7,64.3 472.2,67.9 472.7,72.9 473.2,79.3 473.7,87 474.2,96 474.7,106.2 475.2,117.5 475.7,129.9 476.2,143.3 476.7,157.7 477.2,172.9 477.7,189 478.2,205.9 478.7,223.4 479.2,241.5 479.7,260.1 480.2,279.2 480.7,298.7 481.2,318.5 481.7,338.5 482.2,358.6 482.7,378.8 483.2,399 483.7,419.1 484.2,439.1 484.7,458.8 485.2,478.2 485.7,497.2 486.2,515.7 486.7,533.7 487.2,551.2 487.7,567.9 488.2,583.9 488.7,599.2 489.2,613.5 489.7,627 490.2,639.4 490.7,650.9 491.2,661.2 491.7,670.4 492.2,678.4 492.7,685.2 493.2,690.7 493.7,694.9 494.2,697.8 494.7,699.3 495.2,699.5 495.7,698.2 496.2,695.5 496.7,691.5 497.2,685.9 497.7,679 498.2,670.7 498.7,661.1 499.2,650.1 499.7,637.9 500.2,624.4 500.7,609.7 501.2,594 501.7,577.2 502.2,559.4 502.7,540.8 503.2,521.3 503.7,501.2 504.2,480.5 504.7,459.3 505.2,437.7 505.7,415.8 506.2,393.7 506.7,371.6 507.2,349.5 507.7,327.6 508.2,305.9 508.7,284.6 509.2,263.8 509.7,243.5 510.2,223.9 510.7,205.1 511.2,187.2 511.7,170.2 512.2,154.2 512.7,139.3 513.2,125.6 513.7,113.1 514.2,101.9 514.7,92 515.2,83.4 515.7,76.2 516.2,70.4 516.7,66.1 517.2,63.1 517.7,61.6 518.2,61.4 518.7,62.7 519.2,65.3 519.7,69.2 520.2,74.5 520.7,81 521.2,88.8 521.7,97.7 522.2,107.8 522.7,118.9 523.2,131.1 523.7,144.3 524.2,158.3 524.7,173.2 525.2,188.9 525.7,205.3 526.2,222.4 526.7,240 527.2,258.2 527.7,276.7 528.2,295.6 528.7,314.9 529.2,334.3 529.7,353.9 530.2,373.5 530.7,393.1 531.2,412.7 531.7,432.1 532.2,451.3 532.7,470.2 533.2,488.8 533.7,506.9 534.2,524.6 534.7,541.7 535.2,558.2 535.7,574.1 536.2,589.2 536.7,603.5 537.2,617 537.7,629.7 538.2,641.4 538.7,652.1 539.2,661.8 539.7,670.5 540.2,678.1 540.7,684.6 541.2,690 541.7,694.2 542.2,697.2 542.7,699 543.2,699.6 543.7,699 544.2,697.2 544.7,694.1 545.2,689.8 545.7,684.4 546.2,677.7 546.7,669.9 547.2,661 547.7,650.9 548.2,639.8 548.7,627.7 549.2,614.5 549.7,600.5 550.2,585.6 550.7,569.9 551.2,553.4 551.7,536.3 552.2,518.5 552.7,500.2 553.2,481.4 553.7,462.3 554.2,442.8 554.7,423.1 555.2,403.2 555.7,383.3 556.2,363.3 556.7,343.5 557.2,323.8 557.7,304.3 558.2,285.2 558.7,266.4 559.2,248.2 559.7,230.4 560.2,213.3 560.7,196.8 561.2,181.1 561.7,166.1 562.2,152 562.7,138.8 563.2,126.5 563.7,115.2 564.2,104.9 564.7,95.6 565.2,87.4 565.7,80.3 566.2,74.3 566.7,69.5 567.2,65.7 567.7,63.1 568.2,61.7 568.7,61.3 569.2,62.1 569.7,64 570.2,67 570.7,71 571.2,76.1 571.7,82.2 572.2,89.2 572.7,97.3 573.2,106.2 573.7,116.1 574.2,126.8 574.7,138.3 575.2,150.5 575.7,163.5 576.2,177.2 576.7,191.5 577.2,206.3 577.7,221.8 578.2,237.7 578.7,254 579.2,270.7 579.7,287.7 580.2,305.1 580.7,322.6 581.2,340.3 581.7,358.1 582.2,376 582.7,393.9 583.2,411.7 583.7,429.5 584.2,447 584.7,464.4 585.2,481.5 585.7,498.3 586.2,514.8 586.7,530.8 587.2,546.3 587.7,561.4 588.2,575.9 588.7,589.8 589.2,603 589.7,615.5 590.2,627.4 590.7,638.4 591.2,648.6 591.7,658 592.2,666.5 592.7,674.1 593.2,680.8 593.7,686.4 594.2,691.1 594.7,694.8 595.2,697.5 595.7,699.1 596.2,699.6 596.7,699.1 597.2,697.4 597.7,694.7 598.2,691 598.7,686.1 599.2,680.2 599.7,673.2 600.2,665.2 600.7,656.2 601.2,646.2 601.7,635.2 602.2,623.4 602.7,610.6 603.2,597 603.7,582.7 604.2,567.6 604.7,551.8 605.2,535.4 605.7,518.5 606.2,501 606.7,483.1 607.2,464.8 607.7,446.3 608.2,427.4 608.7,408.4 609.2,389.4 609.7,370.3 610.2,351.2 610.7,332.3 611.2,313.5 611.7,295 612.2,276.8 612.7,259 613.2,241.6 613.7,224.8 614.2,208.5 614.7,192.9 615.2,177.9 615.7,163.7 616.2,150.3 616.7,137.7 617.2,125.9 617.7,115.1 618.2,105.2 618.7,96.2 619.2,88.3 619.7,81.3 620.2,75.4 620.7,70.5 621.2,66.6 621.7,63.8 622.2,62 622.7,61.3 623.2,61.6 623.7,63 624.2,65.3 624.7,68.6 625.2,72.9 625.7,78.1 626.2,84.3 626.7,91.3 627.2,99.2 627.7,108 628.2,117.5 628.7,127.8 629.2,138.8 629.7,150.5 630.2,162.9 630.7,175.9 631.2,189.4 631.7,203.5 632.2,218.1 632.7,233.1 633.2,248.5 633.7,264.3 634.2,280.3 634.7,296.6 635.2,313.2 635.7,329.9 636.2,346.7 636.7,363.6 637.2,380.5 637.7,397.5 638.2,414.3 638.7,431.1 639.2,447.6 639.7,464 640.2,480.2 640.7,496.1 641.2,511.6 641.7,526.8 642.2,541.5 642.7,555.8 643.2,569.7 643.7,583 644.2,595.7 644.7,607.9 645.2,619.4 645.7,630.2 646.2,640.4 646.7,649.8 647.2,658.5 647.7,666.5 648.2,673.6 648.7,679.9 649.2,685.3 649.7,689.9 650.2,693.7 650.7,696.5 651.2,698.4 651.7,699.4 652.2,699.5 652.7,698.7 653.2,696.9 653.7,694.2 654.2,690.6 654.7,686.1 655.2,680.6 655.7,674.3 656.2,667 656.7,658.9 657.2,650 657.7,640.2 658.2,629.7 658.7,618.4 659.2,606.3 659.7,593.6 660.2,580.2 660.7,566.2 661.2,551.6 661.7,536.5 662.2,521 662.7,505 663.2,488.6 663.7,471.8 664.2,454.8 664.7,437.6 665.2,420.2 665.7,402.7 666.2,385.1 666.7,367.5 667.2,349.9 667.7,332.5 668.2,315.2 668.7,298.1 669.2,281.3 669.7,264.8 670.2,248.6 670.7,232.9 671.2,217.6 671.7,202.8 672.2,188.6 672.7,175 673.2,162 673.7,149.6 674.2,138 674.7,127.1 675.2,117 675.7,107.6 676.2,99.1 676.7,91.4 677.2,84.5 677.7,78.5 678.2,73.4 678.7,69.2 679.2,65.9 679.7,63.5 680.2,61.9 680.7,61.3 681.2,61.6 681.7,62.7 682.2,64.8 682.7,67.6 683.2,71.4 683.7,75.9 684.2,81.3 684.7,87.5 685.2,94.4 685.7,102.1 686.2,110.6 686.7,119.7 687.2,129.5 687.7,139.9 688.2,151 688.7,162.6 689.2,174.8 689.7,187.5 690.2,200.7 690.7,214.4 691.2,228.5 691.7,242.9 692.2,257.7 692.7,272.8 693.2,288.2 693.7,303.8 694.2,319.6 694.7,335.5 695.2,351.5 695.7,367.7 696.2,383.8 696.7,399.9 697.2,416 697.7,432 698.2,447.9 698.7,463.6 699.2,479.1 699.7,494.4 700.2,509.3 700.7,524 701.2,538.3 701.7,552.2 702.2,565.7 702.7,578.7 703.2,591.2 703.7,603.1 704.2,614.5 704.7,625.3 705.2,635.5 705.7,645 706.2,653.9 706.7,662 707.2,669.4 707.7,676 708.2,681.9 708.7,686.9 709.2,691.1 709.7,694.5 710.2,697.1 710.7,698.7 711.2,699.5 711.7,699.4 712.2,698.5 712.7,696.6 713.2,693.8 713.7,690.1 714.2,685.6 714.7,680.1 715.2,673.8 715.7,666.7 716.2,658.6 716.7,649.8 717.2,640.2 717.7,629.8 718.2,618.7 718.7,606.8 719.2,594.3 719.7,581.1 720.2,567.4 720.7,553 721.2,538.2 721.7,522.9 722.2,507.1 722.7,491 723.2,474.6 723.7,457.8 724.2,440.9 724.7,423.7 725.2,406.5 725.7,389.2 726.2,371.8 726.7,354.5 727.2,337.3 727.7,320.3 728.2,303.4 728.7,286.8 729.2,270.5 729.7,254.5 730.2,238.9 730.7,223.7 731.2,209 731.7,194.9 732.2,181.3 732.7,168.2 733.2,155.9 733.7,144.1 734.2,133.1 734.7,122.8 735.2,113.2 735.7,104.5 736.2,96.4 736.7,89.2 737.2,82.8 737.7,77.3 738.2,72.5 738.7,68.6 739.2,65.5 739.7,63.3 740.2,61.9 740.7,61.3 741.2,61.6 741.7,62.6 742.2,64.5 742.7,67.1 743.2,70.5 743.7,74.6 744.2,79.5 744.7,85.1 745.2,91.3 745.7,98.3 746.2,105.9 746.7,114.1 747.2,122.9 747.7,132.2 748.2,142.2 748.7,152.6 749.2,163.5 749.7,174.9 750.2,186.8 750.7,199 751.2,211.6 751.7,224.6 752.2,237.9 752.7,251.5 753.2,265.3 753.7,279.4 754.2,293.7 754.7,308.1 755.2,322.7 755.7,337.4 756.2,352.1 756.7,366.9 757.2,381.8 757.7,396.6 758.2,411.4 758.7,426.1 759.2,440.6 759.7,455.1 760.2,469.4 760.7,483.5 761.2,497.4 761.7,511 762.2,524.4 762.7,537.4 763.2,550.2 763.7,562.5 764.2,574.5 764.7,586.1 765.2,597.2 765.7,607.9 766.2,618.1 766.7,627.8 767.2,637 767.7,645.6 768.2,653.7 768.7,661.1 769.2,668 769.7,674.2 770.2,679.8 770.7,684.7 771.2,688.9 771.7,692.5 772.2,695.3 772.7,697.5 773.2,698.9 773.7,699.5 774.2,699.5 774.7,698.6 775.2,697.1 775.7,694.7 776.2,691.6 776.7,687.8 777.2,683.2 777.7,677.8 778.2,671.7 778.7,664.9 779.2,657.3 779.7,649.1 780.2,640.2 780.7,630.6 781.2,620.3 781.7,609.5 782.2,598 782.7,586 783.2,573.5 783.7,560.4 784.2,546.9 784.7,532.9 785.2,518.5 785.7,503.8 786.2,488.7 786.7,473.3 787.2,457.7 787.7,441.8 788.2,425.8 788.7,409.7 789.2,393.5 789.7,377.3 790.2,361 790.7,344.8 791.2,328.7 791.7,312.8 792.2,297 792.7,281.4 793.2,266.1 793.7,251.1 794.2,236.5 794.7,222.2 795.2,208.3 795.7,194.9 796.2,182 796.7,169.6 797.2,157.8 797.7,146.5 798.2,135.8 798.7,125.8 799.2,116.5 799.7,107.8 800.2,99.8 800.7,92.6 801.2,86 801.7,80.3 802.2,75.2 802.7,71 803.2,67.5 803.7,64.8 804.2,62.8 804.7,61.7 805.2,61.3 805.7,61.7 806.2,62.8 806.7,64.7 807.2,67.4 807.7,70.7 808.2,74.8 808.7,79.6 809.2,85.1 809.7,91.2 810.2,98 810.7,105.5 811.2,113.5 811.7,122.2 812.2,131.4 812.7,141.1 813.2,151.4 813.7,162.1 814.2,173.3 814.7,185 815.2,197 815.7,209.5 816.2,222.3 816.7,235.4 817.2,248.8 817.7,262.5 818.2,276.5 818.7,290.6 819.2,304.9 819.7,319.3 820.2,333.9 820.7,348.5 821.2,363.2 821.7,377.9 822.2,392.6 822.7,407.2 823.2,421.8 823.7,436.3 824.2,450.7 824.7,464.8 825.2,478.8 825.7,492.6 826.2,506.2 826.7,519.4 827.2,532.4 827.7,545 828.2,557.3 828.7,569.2 829.2,580.8 829.7,591.9 830.2,602.5 830.7,612.7 831.2,622.4 831.7,631.7 832.2,640.3 832.7,648.5 833.2,656.1 833.7,663.1 834.2,669.6 834.7,675.4 835.2,680.7 835.7,685.3 836.2,689.3 836.7,692.6 837.2,695.3 837.7,697.4 838.2,698.7 838.7,699.5 839.2,699.5 839.7,698.9 840.2,697.7 840.7,695.8 841.2,693.2 841.7,689.9 842.2,686 842.7,681.5 843.2,676.3 843.7,670.5 844.2,664.1 844.7,657.1 845.2,649.5 845.7,641.3 846.2,632.6 846.7,623.4 847.2,613.6 847.7,603.4 848.2,592.6 848.7,581.4 849.2,569.8 849.7,557.8 850.2,545.4 850.7,532.7 851.2,519.6 851.7,506.2 852.2,492.6 852.7,478.7 853.2,464.7 853.7,450.4 854.2,436 854.7,421.5 855.2,406.9 855.7,392.2 856.2,377.6 856.7,362.9 857.2,348.3 857.7,333.7 858.2,319.3 858.7,304.9 859.2,290.8 859.7,276.8 860.2,263.1 860.7,249.6 861.2,236.4 861.7,223.5 862.2,210.9 862.7,198.7 863.2,186.9 863.7,175.4 864.2,164.5 864.7,154 865.2,143.9 865.7,134.4 866.2,125.4 866.7,116.9 867.2,109 867.7,101.6 868.2,94.8 868.7,88.6 869.2,83.1 869.7,78.1 870.2,73.8 870.7,70.1 871.2,67 871.7,64.6 872.2,62.9 872.7,61.8 873.2,61.3 873.7,61.5 874.2,62.4 874.7,63.8 875.2,66 875.7,68.7 876.2,72.1 876.7,76.1 877.2,80.7 877.7,86 878.2,91.8 878.7,98.1 879.2,105.1 879.7,112.5 880.2,120.6 880.7,129.1 881.2,138.1 881.7,147.6 882.2,157.5 882.7,167.9 883.2,178.7 883.7,189.9 884.2,201.5 884.7,213.4 885.2,225.6 885.7,238.2 886.2,251 886.7,264.1 887.2,277.4 887.7,290.9 888.2,304.5 888.7,318.3 889.2,332.3 889.7,346.3 890.2,360.4 890.7,374.5 891.2,388.6 891.7,402.7 892.2,416.8 892.7,430.8 893.2,444.7 893.7,458.5 894.2,472.1 894.7,485.5 895.2,498.7 895.7,511.7 896.2,524.5 896.7,537 897.2,549.1 897.7,560.9 898.2,572.4 898.7,583.5 899.2,594.2 899.7,604.5 900.2,614.4 900.7,623.8 901.2,632.7 901.7,641.1 902.2,649.1 902.7,656.4 903.2,663.3 903.7,669.6 904.2,675.3 904.7,680.5 905.2,685 905.7,689 906.2,692.3 906.7,695 907.2,697.1 907.7,698.6 908.2,699.4 908.7,699.6 909.2,699.1 909.7,698.1 910.2,696.3 910.7,694 911.2,691 911.7,687.3 912.2,683.1 912.7,678.3 913.2,672.8 913.7,666.7 914.2,660.1 914.7,652.9 915.2,645.1 915.7,636.9 916.2,628 916.7,618.7 917.2,608.9 917.7,598.7 918.2,587.9 918.7,576.8 919.2,565.3 919.7,553.4 920.2,541.1 920.7,528.5 921.2,515.7 921.7,502.5 922.2,489.1 922.7,475.5 923.2,461.7 923.7,447.8 924.2,433.7 924.7,419.5 925.2,405.2 925.7,390.9 926.2,376.6 926.7,362.3 927.2,348.1 927.7,333.9 928.2,319.8 928.7,305.9 929.2,292.1 929.7,278.5 930.2,265.1 930.7,252 931.2,239.1 931.7,226.5 932.2,214.2 932.7,202.3 933.2,190.8 933.7,179.6 934.2,168.8 934.7,158.5 935.2,148.6 935.7,139.1 936.2,130.2 936.7,121.7 937.2,113.8 937.7,106.3 938.2,99.4 938.7,93.1 939.2,87.3 939.7,82.1 940.2,77.5 940.7,73.4 941.2,69.9 941.7,67 942.2,64.7 942.7,63 943.2,61.9 943.7,61.3 944.2,61.4 944.7,62 945.2,63.3 945.7,65.1 946.2,67.4 946.7,70.4 947.2,73.8 947.7,77.9 948.2,82.4 948.7,87.5 949.2,93.1 949.7,99.2 950.2,105.8 950.7,112.8 951.2,120.3 951.7,128.3 952.2,136.7 952.7,145.5 953.2,154.7 953.7,164.2 954.2,174.2 954.7,184.4 955.2,195.1 955.7,206 956.2,217.2 956.7,228.6 957.2,240.4 957.7,252.3 958.2,264.5 958.7,276.8 959.2,289.3 959.7,302 960.2,314.8 960.7,327.6 961.2,340.6 961.7,353.6 962.2,366.7 962.7,379.8 963.2,392.9 963.7,405.9 964.2,418.9 964.7,431.9 965.2,444.7 965.7,457.5 966.2,470.1 966.7,482.6 967.2,494.9 967.7,507 968.2,518.8 968.7,530.5 969.2,541.9 969.7,553.1 970.2,563.9 970.7,574.5 971.2,584.7 971.7,594.6 972.2,604.1 972.7,613.3 973.2,622 973.7,630.4 974.2,638.4 974.7,645.9 975.2,652.9 975.7,659.6 976.2,665.7 976.7,671.4 977.2,676.5 977.7,681.2 978.2,685.4 978.7,689 979.2,692.1 979.7,694.7 980.2,696.8 980.7,698.3 981.2,699.2 981.7,699.6 982.2,699.4 982.7,698.7 983.2,697.4 983.7,695.6 984.2,693.2 984.7,690.2 985.2,686.7 985.7,682.6 986.2,678 986.7,672.9 987.2,667.2 987.7,661 988.2,654.4 988.7,647.2 989.2,639.5 989.7,631.4 990.2,622.8 990.7,613.7 991.2,604.2 991.7,594.4 992.2,584.1 992.7,573.4 993.2,562.4 993.7,551.1 994.2,539.4 994.7,527.5 995.2,515.3 995.7,502.8 996.2,490.2 996.7,477.3 997.2,464.2 997.7,451 998.2,437.6 998.7,424.2 999.2,410.7 999.7,397.1 1000.2,383.5 1000.7,369.9 1001.2,356.3 1001.7,342.8 1002.2,329.3 1002.7,315.9 1003.2,302.7 1003.7,289.6 1004.2,276.7 1004.7,264 1005.2,251.4 1005.7,239.2 1006.2,227.2 1006.7,215.5 1007.2,204 1007.7,192.9 1008.2,182.2 1008.7,171.8 1009.2,161.8 1009.7,152.2 1010.2,143 1010.7,134.3 1011.2,126 1011.7,118.1 1012.2,110.7 1012.7,103.8 1013.2,97.4 1013.7,91.5 1014.2,86.1 1014.7,81.2 1015.2,76.9 1015.7,73 1016.2,69.8 1016.7,67 1017.2,64.8 1017.7,63.1 1018.2,62 1018.7,61.4 1019.2,61.3 1019.7,61.8 1020.2,62.8 1020.7,64.4 1021.2,66.4 1021.7,69 1022.2,72.1 1022.7,75.7 1023.2,79.8 1023.7,84.3 1024.2,89.4 1024.7,94.9 1025.2,100.8 1025.7,107.2 1026.2,114.1 1026.7,121.3 1027.2,129 1027.7,137 1028.2,145.4 1028.7,154.2 1029.2,163.4 1029.7,172.9 1030.2,182.7 1030.7,192.8 1031.2,203.2 1031.7,213.9 1032.2,224.8 1032.7,236 1033.2,247.4 1033.7,258.9 1034.2,270.7 1034.7,282.7 1035.2,294.8 1035.7,307 1036.2,319.3 1036.7,331.7 1037.2,344.2 1037.7,356.8 1038.2,369.4 1038.7,382 1039.2,394.6 1039.7,407.2 1040.2,419.8 1040.7,432.3 1041.2,444.7 1041.7,457 1042.2,469.2 1042.7,481.3 1043.2,493.2 1043.7,505 1044.2,516.5 1044.7,527.9 1045.2,539 1045.7,549.9 1046.2,560.6 1046.7,570.9 1047.2,581 1047.7,590.7 1048.2,600.2 1048.7,609.2 1049.2,618 1049.7,626.3 1050.2,634.3 1050.7,641.9 1051.2,649 1051.7,655.8 1052.2,662.1 1052.7,667.9 1053.2,673.3 1053.7,678.2 1054.2,682.6 1054.7,686.5 1055.2,690 1055.7,692.9 1056.2,695.3 1056.7,697.2 1057.2,698.5 1057.7,699.3 1058.2,699.6 1058.7,699.3 1059.2,698.5 1059.7,697.1 1060.2,695.2 1060.7,692.8 1061.2,689.7 1061.7,686.2 1062.2,682.1 1062.7,677.4 1063.2,672.3 1063.7,666.6 1064.2,660.4 1064.7,653.7 1065.2,646.5 1065.7,638.8 1066.2,630.6 1066.7,622 1067.2,612.9 1067.7,603.5 1068.2,593.6 1068.7,583.3 1069.2,572.6 1069.7,561.6 1070.2,550.2 1070.7,538.6 1071.2,526.6 1071.7,514.4 1072.2,501.9 1072.7,489.2 1073.2,476.3 1073.7,463.2 1074.2,449.9 1074.7,436.6 1075.2,423.1 1075.7,409.6 1076.2,396 1076.7,382.3 1077.2,368.7 1077.7,355.1 1078.2,341.5 1078.7,328.1 1079.2,314.7 1079.7,301.5 1080.2,288.4 1080.7,275.4 1081.2,262.7 1081.7,250.2 1082.2,238 1082.7,226 1083.2,214.3 1083.7,202.9 1084.2,191.8 1084.7,181.1 1085.2,170.8 1085.7,160.8 1086.2,151.3 1086.7,142.1 1087.2,133.4 1087.7,125.2 1088.2,117.4 1088.7,110.1 1089.2,103.2 1089.7,96.9 1090.2,91.1 1090.7,85.7 1091.2,80.9 1091.7,76.6 1092.2,72.8 1092.7,69.6 1093.2,66.9 1093.7,64.7 1094.2,63.1 1094.7,62 1095.2,61.4 1095.7,61.3 1096.2,61.8 1096.7,62.8 1097.2,64.3 1097.7,66.3 1098.2,68.8 1098.7,71.8 1099.2,75.3 1099.7,79.3 1100.2,83.7 1100.7,88.6 1101.2,93.9 1101.7,99.7 1102.2,105.8 1102.7,112.4 1103.2,119.4 1103.7,126.8 1104.2,134.6 1104.7,142.7 1105.2,151.1 1105.7,159.9 1106.2,169 1106.7,178.4 1107.2,188.1 1107.7,198.1 1108.2,208.3 1108.7,218.8 1109.2,229.5 1109.7,240.4 1110.2,251.5 1110.7,262.7 1111.2,274.1 1111.7,285.7 1112.2,297.4 1112.7,309.2 1113.2,321.1 1113.7,333 1114.2,345.1 1114.7,357.1 1115.2,369.2 1115.7,381.3 1116.2,393.4 1116.7,405.4 1117.2,417.4 1117.7,429.4 1118.2,441.3 1118.7,453 1119.2,464.7 1119.7,476.3 1120.2,487.7 1120.7,498.9 1121.2,510 1121.7,520.9 1122.2,531.6 1122.7,542.1 1123.2,552.4 1123.7,562.4 1124.2,572.1 1124.7,581.6 1125.2,590.8 1125.7,599.7 1126.2,608.3 1126.7,616.6 1127.2,624.5 1127.7,632.1 1128.2,639.3 1128.7,646.2 1129.2,652.7 1129.7,658.8 1130.2,664.5 1130.7,669.9 1131.2,674.7 1131.7,679.2 1132.2,683.3 1132.7,686.9 1133.2,690.1 1133.7,692.8 1134.2,695.1 1134.7,696.9 1135.2,698.2 1135.7,699.1 1136.2,699.6 1136.7,699.5 1137.2,699 1137.7,698 1138.2,696.5 1138.7,694.6 1139.2,692.2 1139.7,689.3 1140.2,685.9 1140.7,682.1 1141.2,677.9 1141.7,673.1 1142.2,667.9 1142.7,662.3 1143.2,656.3 1143.7,649.8 1144.2,642.9 1144.7,635.6 1145.2,627.9 1145.7,619.8 1146.2,611.4 1146.7,602.6 1147.2,593.4 1147.7,583.9 1148.2,574.1 1148.7,564 1149.2,553.6 1149.7,542.9 1150.2,532 1150.7,520.8 1151.2,509.5 1151.7,497.9 1152.2,486.1 1152.7,474.2 1153.2,462.1 1153.7,449.9 1154.2,437.6 1154.7,425.2 1155.2,412.7 1155.7,400.2 1156.2,387.7 1156.7,375.1 1157.2,362.6 1157.7,350.1 1158.2,337.6 1158.7,325.2 1159.2,313 1159.7,300.8 1160.2,288.7 1160.7,276.8 1161.2,265.1 1161.7,253.5 1162.2,242.2 1162.7,231 1163.2,220.1 1163.7,209.5 1164.2,199.1 1164.7,189 1165.2,179.2 1165.7,169.8 1166.2,160.6 1166.7,151.8 1167.2,143.4 1167.7,135.3 1168.2,127.6 1168.7,120.2 1169.2,113.3 1169.7,106.8 1170.2,100.7 1170.7,95 1171.2,89.7 1171.7,84.9 1172.2,80.5 1172.7,76.6 1173.2,73.1 1173.7,70 1174.2,67.4 1174.7,65.3 1175.2,63.6 1175.7,62.4 1176.2,61.6 1176.7,61.3 1177.2,61.4 1177.7,62 1178.2,63.1 1178.7,64.5 1179.2,66.4 1179.7,68.8 1180.2,71.5 1180.7,74.7 1181.2,78.3 1181.7,82.3 1182.2,86.7 1182.7,91.5 1183.2,96.7 1183.7,102.2 1184.2,108.1 1184.7,114.4 1185.2,121 1185.7,128 1186.2,135.3 1186.7,142.9 1187.2,150.8 1187.7,159 1188.2,167.4 1188.7,176.2 1189.2,185.2 1189.7,194.4 1190.2,203.9 1190.7,213.6 1191.2,223.6 1191.7,233.7 1192.2,244 1192.7,254.4 1193.2,265.1 1193.7,275.8 1194.2,286.7 1194.7,297.7 1195.2,308.8 1195.7,320 1196.2,331.3 1196.7,342.6 1197.2,354 1197.7,365.4 1198.2,376.8 1198.7,388.2 1199.2,399.6 1199.7,411 1200.2,422.3 1200.7,433.6 1201.2,444.8 1201.7,456 1202.2,467 1202.7,477.9 1203.2,488.8 1203.7,499.4 1204.2,510 1204.7,520.3 1205.2,530.5 1205.7,540.5 1206.2,550.3 1206.7,559.9 1207.2,569.2 1207.7,578.3 1208.2,587.2 1208.7,595.8 1209.2,604.2 1209.7,612.2 1210.2,620 1210.7,627.4 1211.2,634.6 1211.7,641.4 1212.2,647.8 1212.7,654 1213.2,659.8 1213.7,665.2 1214.2,670.2 1214.7,674.9 1215.2,679.2 1215.7,683.1 1216.2,686.6 1216.7,689.7 1217.2,692.4 1217.7,694.6 1218.2,696.5 1218.7,697.9 1219.2,698.9 1219.7,699.5 1220.2,699.6 1220.7,699.3 1221.2,698.5 1221.7,697.4 1222.2,695.7 1222.7,693.7 1223.2,691.2 1223.7,688.2 1224.2,684.9 1224.7,681.1 1225.2,676.8 1225.7,672.2 1226.2,667.1 1226.7,661.6 1227.2,655.7 1227.7,649.4 1228.2,642.8 1228.7,635.7 1229.2,628.3 1229.7,620.5 1230.2,612.4 1230.7,603.9 1231.2,595.1 1231.7,586 1232.2,576.5 1232.7,566.8 1233.2,556.8 1233.7,546.6 1234.2,536.1 1234.7,525.4 1235.2,514.5 1235.7,503.3 1236.2,492 1236.7,480.5 1237.2,468.9 1237.7,457.1 1238.2,445.3 1238.7,433.3 1239.2,421.3 1239.7,409.1 1240.2,397 1240.7,384.8 1241.2,372.7 1241.7,360.5 1242.2,348.4 1242.7,336.3 1243.2,324.3 1243.7,312.4 1244.2,300.5 1244.7,288.8 1245.2,277.3 1245.7,265.9 1246.2,254.6 1246.7,243.6 1247.2,232.8 1247.7,222.1 1248.2,211.8 1248.7,201.6 1249.2,191.7 1249.7,182.2 1250.2,172.9 1250.7,163.9 1251.2,155.2 1251.7,146.8 1252.2,138.8 1252.7,131.2 1253.2,123.9 1253.7,116.9 1254.2,110.4 1254.7,104.2 1255.2,98.4 1255.7,93.1 1256.2,88.1 1256.7,83.5 1257.2,79.4 1257.7,75.7 1258.2,72.4 1258.7,69.5 1259.2,67.1 1259.7,65.1 1260.2,63.5 1260.7,62.3 1261.2,61.6 1261.7,61.3 1262.2,61.4 1262.7,62 1263.2,63 1263.7,64.3 1264.2,66.1 1264.7,68.3 1265.2,70.9 1265.7,73.9 1266.2,77.3 1266.7,81.1 1267.2,85.2 1267.7,89.8 1268.2,94.6 1268.7,99.9 1269.2,105.5 1269.7,111.4 1270.2,117.6 1270.7,124.2 1271.2,131.1 1271.7,138.3 1272.2,145.8 1272.7,153.5 1273.2,161.6 1273.7,169.9 1274.2,178.4 1274.7,187.2 1275.2,196.2 1275.7,205.4 1276.2,214.9 1276.7,224.5 1277.2,234.3 1277.7,244.3 1278.2,254.4 1278.7,264.7 1279.2,275.1 1279.7,285.7 1280.2,296.3 1280.7,307.1 1281.2,317.9 1281.7,328.8 1282.2,339.7 1282.7,350.7 1283.2,361.8 1283.7,372.8 1284.2,383.9 1284.7,394.9 1285.2,405.9 1285.7,416.9 1286.2,427.9 1286.7,438.8 1287.2,449.6 1287.7,460.4 1288.2,471 1288.7,481.6 1289.2,492 1289.7,502.3 1290.2,512.4 1290.7,522.4 1291.2,532.2 1291.7,541.9 1292.2,551.3 1292.7,560.6 1293.2,569.6 1293.7,578.5 1294.2,587 1294.7,595.4 1295.2,603.5 1295.7,611.3 1296.2,618.8 1296.7,626.1 1297.2,633.1 1297.7,639.7 1298.2,646.1 1298.7,652.1 1299.2,657.8 1299.7,663.2 1300.2,668.2 1300.7,672.9 1301.2,677.2 1301.7,681.2 1302.2,684.8 1302.7,688 1303.2,690.8 1303.7,693.3 1304.2,695.3 1304.7,697 1305.2,698.2 1305.7,699.1 1306.2,699.5 1306.7,699.6 1307.2,699.2 1307.7,698.4 1308.2,697.2 1308.7,695.6 1309.2,693.6 1309.7,691.2 1310.2,688.3 1310.7,685.1 1311.2,681.4 1311.7,677.4 1312.2,672.9 1312.7,668.1 1313.2,662.8 1313.7,657.2 1314.2,651.2 1314.7,644.9 1315.2,638.1 1315.7,631.1 1316.2,623.6 1316.7,615.9 1317.2,607.8 1317.7,599.4 1318.2,590.7 1318.7,581.7 1319.2,572.5 1319.7,562.9 1320.2,553.2 1320.7,543.1 1321.2,532.9 1321.7,522.4 1322.2,511.8 1322.7,500.9 1323.2,489.9 1323.7,478.7 1324.2,467.4 1324.7,456 1325.2,444.4 1325.7,432.8 1326.2,421.1 1326.7,409.4 1327.2,397.6 1327.7,385.7 1328.2,373.9 1328.7,362.1 1329.2,350.3 1329.7,338.6 1330.2,326.9 1330.7,315.3 1331.2,303.7 1331.7,292.3 1332.2,281.1 1332.7,269.9 1333.2,258.9 1333.7,248.1 1334.2,237.5 1334.7,227 1335.2,216.8 1335.7,206.8 1336.2,197.1 1336.7,187.6 1337.2,178.4 1337.7,169.4 1338.2,160.8 1338.7,152.4 1339.2,144.4 1339.7,136.7 1340.2,129.3 1340.7,122.3 1341.2,115.6 1341.7,109.3 1342.2,103.3 1342.7,97.8 1343.2,92.6 1343.7,87.8 1344.2,83.3 1344.7,79.3 1345.2,75.7 1345.7,72.5 1346.2,69.7 1346.7,67.2 1347.2,65.2 1347.7,63.7 1348.2,62.5 1348.7,61.7 1349.2,61.3 1349.7,61.4 1350.2,61.8 1350.7,62.7 1351.2,63.9 1351.7,65.5 1352.2,67.6 1352.7,70 1353.2,72.8 1353.7,76 1354.2,79.5 1354.7,83.4 1355.2,87.7 1355.7,92.3 1356.2,97.3 1356.7,102.6 1357.2,108.2 1357.7,114.1 1358.2,120.4 1358.7,127 1359.2,133.8 1359.7,141 1360.2,148.4 1360.7,156.1 1361.2,164.1 1361.7,172.3 1362.2,180.7 1362.7,189.4 1363.2,198.3 1363.7,207.4 1364.2,216.7 1364.7,226.2 1365.2,235.8 1365.7,245.6 1366.2,255.6 1366.7,265.7 1367.2,275.9 1367.7,286.2 1368.2,296.7 1368.7,307.2 1369.2,317.8 1369.7,328.5 1370.2,339.3 1370.7,350 1371.2,360.8 1371.7,371.7 1372.2,382.5 1372.7,393.4 1373.2,404.2 1373.7,414.9 1374.2,425.7 1374.7,436.4 1375.2,447 1375.7,457.6 1376.2,468 1376.7,478.4 1377.2,488.6 1377.7,498.7 1378.2,508.7 1378.7,518.6 1379.2,528.2 1379.7,537.8 1380.2,547.1 1380.7,556.2 1381.2,565.2 1381.7,573.9 1382.2,582.4 1382.7,590.7 1383.2,598.8 1383.7,606.6 1384.2,614.1 1384.7,621.4 1385.2,628.4 1385.7,635.1 1386.2,641.5 1386.7,647.6 1387.2,653.4 1387.7,658.9 1388.2,664.1 1388.7,669 1389.2,673.5 1389.7,677.6 1390.2,681.5 1390.7,684.9 1391.2,688 1391.7,690.8 1392.2,693.2 1392.7,695.2 1393.2,696.8 1393.7,698.1 1394.2,699 1394.7,699.5 1395.2,699.6 1395.7,699.3 1396.2,698.7 1396.7,697.6 1397.2,696.2 1397.7,694.4 1398.2,692.2 1398.7,689.6 1399.2,686.6 1399.7,683.2 1400.2,679.5 1400.7,675.4 1401.2,670.9 1401.7,666.1 1402.2,660.9 1402.7,655.3 1403.2,649.4 1403.7,643.2 1404.2,636.6 1404.7,629.7 1405.2,622.5 1405.7,614.9 1406.2,607.1 1406.7,599 1407.2,590.6 1407.7,581.9 1408.2,573 1408.7,563.8 1409.2,554.4 1409.7,544.8 1410.2,534.9 1410.7,524.9 1411.2,514.6 1411.7,504.2 1412.2,493.7 1412.7,482.9 1413.2,472.1 1413.7,461.1 1414.2,450.1 1414.7,438.9 1415.2,427.7 1415.7,416.4 1416.2,405.1 1416.7,393.7 1417.2,382.3 1417.7,370.9 1418.2,359.6 1418.7,348.2 1419.2,336.9 1419.7,325.7 1420.2,314.5 1420.7,303.4 1421.2,292.5 1421.7,281.6 1422.2,270.9 1422.7,260.3 1423.2,249.9 1423.7,239.6 1424.2,229.5 1424.7,219.6 1425.2,210 1425.7,200.5 1426.2,191.3 1426.7,182.3 1427.2,173.6 1427.7,165.1 1428.2,156.9 1428.7,149 1429.2,141.4 1429.7,134.1 1430.2,127.2 1430.7,120.5 1431.2,114.1 1431.7,108.1 1432.2,102.5 1432.7,97.2 1433.2,92.2 1433.7,87.6 1434.2,83.3 1434.7,79.5 1435.2,76 1435.7,72.8 1436.2,70.1 1436.7,67.7 1437.2,65.7 1437.7,64 1438.2,62.8 1438.7,61.9 1439.2,61.4 1439.7,61.3 1440.2,61.6 1440.7,62.2 1441.2,63.2 1441.7,64.6 1442.2,66.3 1442.7,68.4 1443.2,70.9 1443.7,73.7 1444.2,76.9 1444.7,80.4 1445.2,84.2 1445.7,88.4 1446.2,92.9 1446.7,97.7 1447.2,102.9 1447.7,108.3 1448.2,114 1448.7,120.1 1449.2,126.4 1449.7,133 1450.2,139.8 1450.7,147 1451.2,154.3 1451.7,161.9 1452.2,169.8 1452.7,177.8 1453.2,186.1 1453.7,194.6 1454.2,203.3 1454.7,212.2 1455.2,221.2 1455.7,230.4 1456.2,239.8 1456.7,249.3 1457.2,258.9 1457.7,268.7 1458.2,278.5 1458.7,288.5 1459.2,298.6 1459.7,308.7 1460.2,318.9 1460.7,329.2 1461.2,339.5 1461.7,349.9 1462.2,360.3 1462.7,370.7 1463.2,381.1 1463.7,391.4 1464.2,401.8 1464.7,412.2 1465.2,422.5 1465.7,432.7 1466.2,442.9 1466.7,453.1 1467.2,463.1 1467.7,473.1 1468.2,482.9 1468.7,492.7 1469.2,502.3 1469.7,511.8 1470.2,521.1 1470.7,530.3 1471.2,539.4 1471.7,548.3 1472.2,557 1472.7,565.5 1473.2,573.8 1473.7,581.9 1474.2,589.8 1474.7,597.5 1475.2,604.9 1475.7,612.1 1476.2,619.1 1476.7,625.9 1477.2,632.3 1477.7,638.5 1478.2,644.5 1478.7,650.1 1479.2,655.5 1479.7,660.6 1480.2,665.4 1480.7,669.9 1481.2,674.1 1481.7,678 1482.2,681.6 1482.7,684.8 1483.2,687.8 1483.7,690.4 1484.2,692.7 1484.7,694.7 1485.2,696.3 1485.7,697.7 1486.2,698.6 1486.7,699.3 1487.2,699.6 1487.7,699.5 1488.2,699.2 1488.7,698.5 1489.2,697.4 1489.7,696 1490.2,694.3 1490.7,692.2 1491.2,689.9 1491.7,687.1 1492.2,684.1 1492.7,680.7 1493.2,677 1493.7,673 1494.2,668.6 1494.7,664 1495.2,659.1 1495.7,653.8 1496.2,648.3 1496.7,642.4 1497.2,636.3 1497.7,629.9 1498.2,623.2 1498.7,616.3 1499.2,609.1 1499.7,601.7 1500.2,594 1500.7,586.1 1501.2,577.9 1501.7,569.6 1502.2,561 1502.7,552.2 1503.2,543.3 1503.7,534.2 1504.2,524.9 1504.7,515.4 1505.2,505.8 1505.7,496.1 1506.2,486.2 1506.7,476.2 1507.2,466.2 1507.7,456 1508.2,445.7 1508.7,435.4 1509.2,425 1509.7,414.5 1510.2,404.1 1510.7,393.5 1511.2,383 1511.7,372.5 1512.2,362 1512.7,351.5 1513.2,341 1513.7,330.6 1514.2,320.2 1514.7,309.9 1515.2,299.7 1515.7,289.5 1516.2,279.5 1516.7,269.6 1517.2,259.7 1517.7,250.1 1518.2,240.5 1518.7,231.2 1519.2,221.9 1519.7,212.9 1520.2,204 1520.7,195.4 1521.2,186.9 1521.7,178.6 1522.2,170.6 1522.7,162.8 1523.2,155.2 1523.7,147.9 1524.2,140.9 1524.7,134 1525.2,127.5 1525.7,121.2 1526.2,115.3 1526.7,109.6 1527.2,104.2 1527.7,99.1 1528.2,94.3 1528.7,89.8 1529.2,85.6 1529.7,81.8 1530.2,78.2 1530.7,75 1531.2,72.2 1531.7,69.6 1532.2,67.4 1532.7,65.6 1533.2,64 1533.7,62.8 1534.2,62 1534.7,61.5 1535.2,61.3 1535.7,61.5 1536.2,62 1536.7,62.8 1537.2,64 1537.7,65.5 1538.2,67.4 1538.7,69.6 1539.2,72.1 1539.7,74.9 1540.2,78.1 1540.7,81.6 1541.2,85.4 1541.7,89.5 1542.2,93.9 1542.7,98.6 1543.2,103.6 1543.7,108.9 1544.2,114.5 1544.7,120.3 1545.2,126.5 1545.7,132.9 1546.2,139.5 1546.7,146.4 1547.2,153.6 1547.7,160.9 1548.2,168.5 1548.7,176.4 1549.2,184.4 1549.7,192.6 1550.2,201.1 1550.7,209.7 1551.2,218.5 1551.7,227.4 1552.2,236.5 1552.7,245.8 1553.2,255.2 1553.7,264.7 1554.2,274.3 1554.7,284.1 1555.2,293.9 1555.7,303.9 1556.2,313.9 1556.7,323.9 1557.2,334.1 1557.7,344.2 1558.2,354.5 1558.7,364.7 1559.2,374.9 1559.7,385.2 1560.2,395.4 1560.7,405.7 1561.2,415.9 1561.7,426 1562.2,436.1 1562.7,446.2 1563.2,456.2 1563.7,466.1 1564.2,475.9 1564.7,485.6 1565.2,495.2 1565.7,504.7 1566.2,514.1 1566.7,523.3 1567.2,532.3 1567.7,541.3 1568.2,550 1568.7,558.6 1569.2,567 1569.7,575.2 1570.2,583.1 1570.7,590.9 1571.2,598.5 1571.7,605.8 1572.2,613 1572.7,619.8 1573.2,626.5 1573.7,632.8 1574.2,639 1574.7,644.8 1575.2,650.4 1575.7,655.7 1576.2,660.7 1576.7,665.5 1577.2,669.9 1577.7,674.1 1578.2,677.9 1578.7,681.4 1579.2,684.7 1579.7,687.6 1580.2,690.2 1580.7,692.5 1581.2,694.5 1581.7,696.2 1582.2,697.5 1582.7,698.5 1583.2,699.2 1583.7,699.5 1584.2,699.6 1584.7,699.3 1585.2,698.7 1585.7,697.7 1586.2,696.4 1586.7,694.9 1587.2,692.9 1587.7,690.7 1588.2,688.2 1588.7,685.3 1589.2,682.1 1589.7,678.6 1590.2,674.8 1590.7,670.8 1591.2,666.4 1591.7,661.7 1592.2,656.7 1592.7,651.5 1593.2,645.9 1593.7,640.1 1594.2,634.1 1594.7,627.8 1595.2,621.2 1595.7,614.4 1596.2,607.3 1596.7,600 1597.2,592.5 1597.7,584.8 1598.2,576.8 1598.7,568.7 1599.2,560.4 1599.7,551.9 1600.2,543.2 1600.7,534.3 1601.2,525.3 1601.7,516.2 1602.2,506.9 1602.7,497.4 1603.2,487.9 1603.7,478.3 1604.2,468.5 1604.7,458.7 1605.2,448.8 1605.7,438.8 1606.2,428.7 1606.7,418.6 1607.2,408.5 1607.7,398.4 1608.2,388.2 1608.7,378 1609.2,367.8 1609.7,357.7 1610.2,347.5 1610.7,337.4 1611.2,327.4 1611.7,317.4 1612.2,307.4 1612.7,297.6 1613.2,287.8 1613.7,278.1 1614.2,268.5 1614.7,259.1 1615.2,249.7 1615.7,240.5 1616.2,231.5 1616.7,222.6 1617.2,213.8 1617.7,205.2 1618.2,196.8 1618.7,188.6 1619.2,180.6 1619.7,172.8 1620.2,165.2 1620.7,157.8 1621.2,150.7 1621.7,143.8 1622.2,137.1 1622.7,130.6 1623.2,124.5 1623.7,118.5 1624.2,112.9 1624.7,107.5 1625.2,102.4 1625.7,97.6 1626.2,93 1626.7,88.8 1627.2,84.8 1627.7,81.1 1628.2,77.8 1628.7,74.7 1629.2,72 1629.7,69.5 1630.2,67.4 1630.7,65.6 1631.2,64.1 1631.7,62.9 1632.2,62.1 1632.7,61.5 1633.2,61.3 1633.7,61.4 1634.2,61.8 1634.7,62.5 1635.2,63.6 1635.7,65 1636.2,66.6 1636.7,68.6 1637.2,70.9 1637.7,73.5 1638.2,76.5 1638.7,79.7 1639.2,83.2 1639.7,87 1640.2,91.1 1640.7,95.5 1641.2,100.1 1641.7,105.1 1642.2,110.3 1642.7,115.8 1643.2,121.5 1643.7,127.5 1644.2,133.8 1644.7,140.2 1645.2,147 1645.7,153.9 1646.2,161.1 1646.7,168.5 1647.2,176.1 1647.7,183.9 1648.2,191.9 1648.7,200.1 1649.2,208.4 1649.7,217 1650.2,225.7 1650.7,234.5 1651.2,243.5 1651.7,252.6 1652.2,261.8 1652.7,271.2 1653.2,280.7 1653.7,290.2 1654.2,299.9 1654.7,309.6 1655.2,319.4 1655.7,329.3 1656.2,339.2 1656.7,349.1 1657.2,359.1 1657.7,369.1 1658.2,379.1 1658.7,389.1 1659.2,399.1 1659.7,409.1 1660.2,419 1660.7,428.9 1661.2,438.8 1661.7,448.6 1662.2,458.3 1662.7,468 1663.2,477.6 1663.7,487.1 1664.2,496.4 1664.7,505.7 1665.2,514.9 1665.7,523.9 1666.2,532.7 1666.7,541.4 1667.2,550 1667.7,558.4 1668.2,566.6 1668.7,574.6 1669.2,582.5 1669.7,590.1 1670.2,597.6 1670.7,604.8 1671.2,611.8 1671.7,618.6 1672.2,625.1 1672.7,631.4 1673.2,637.5 1673.7,643.3 1674.2,648.9 1674.7,654.1 1675.2,659.2 1675.7,663.9 1676.2,668.4 1676.7,672.5 1677.2,676.4 1677.7,680 1678.2,683.3 1678.7,686.4 1679.2,689.1 1679.7,691.5 1680.2,693.6 1680.7,695.3 1681.2,696.8 1681.7,698 1682.2,698.8 1682.7,699.4 1683.2,699.6 1683.7,699.5 1684.2,699.1 1684.7,698.4 1685.2,697.3 1685.7,696 1686.2,694.3 1686.7,692.3 1687.2,690 1687.7,687.4 1688.2,684.5 1688.7,681.3 1689.2,677.8 1689.7,674 1690.2,669.9 1690.7,665.6 1691.2,660.9 1691.7,656 1692.2,650.7 1692.7,645.2 1693.2,639.5 1693.7,633.5 1694.2,627.2 1694.7,620.7 1695.2,613.9 1695.7,606.9 1696.2,599.7 1696.7,592.3 1697.2,584.6 1697.7,576.8 1698.2,568.7 1698.7,560.5 1699.2,552 1699.7,543.4 1700.2,534.6 1700.7,525.7 1701.2,516.6 1701.7,507.4 1702.2,498 1702.7,488.6 1703.2,479 1703.7,469.3 1704.2,459.5 1704.7,449.7 1705.2,439.7 1705.7,429.7 1706.2,419.7 1706.7,409.6 1707.2,399.4 1707.7,389.3 1708.2,379.1 1708.7,369 1709.2,358.8 1709.7,348.7 1710.2,338.5 1710.7,328.5 1711.2,318.4 1711.7,308.5 1712.2,298.6 1712.7,288.8 1713.2,279 1713.7,269.4 1714.2,259.9 1714.7,250.5 1715.2,241.2 1715.7,232.1 1716.2,223.1 1716.7,214.3 1717.2,205.6 1717.7,197.2 1718.2,188.9 1718.7,180.8 1719.2,172.9 1719.7,165.2 1720.2,157.7 1720.7,150.5 1721.2,143.5 1721.7,136.7 1722.2,130.2 1722.7,124 1723.2,118 1723.7,112.2 1724.2,106.8 1724.7,101.6 1725.2,96.8 1725.6,93.1"/>
</g>
<g id="panel-b">
<g clip-path="url(#hc)"><g filter="url(#pm)"><rect x="281.7" y="788.6" width="1468.8" height="643" fill="#000"/><rect x="287.2" y="790.6" width="10.6" height="639" fill="url(#c48)"/>
<rect x="297.2" y="790.6" width="10.6" height="639" fill="url(#c49)"/>
<rect x="307.2" y="790.6" width="10.6" height="639" fill="url(#c50)"/>
<rect x="317.2" y="790.6" width="10.6" height="639" fill="url(#c51)"/>
<rect x="327.2" y="790.6" width="10.6" height="639" fill="url(#c52)"/>
<rect x="337.2" y="790.6" width="10.6" height="639" fill="url(#c53)"/>
<rect x="347.2" y="790.6" width="10.6" height="639" fill="url(#c54)"/>
<rect x="357.2" y="790.6" width="10.6" height="639" fill="url(#c55)"/>
<rect x="367.2" y="790.6" width="10.6" height="639" fill="url(#c56)"/>
<rect x="377.2" y="790.6" width="10.6" height="639" fill="url(#c57)"/>
<rect x="387.2" y="790.6" width="10.6" height="639" fill="url(#c58)"/>
<rect x="397.2" y="790.6" width="10.6" height="639" fill="url(#c59)"/>
<rect x="407.2" y="790.6" width="10.6" height="639" fill="url(#c60)"/>
<rect x="417.2" y="790.6" width="10.6" height="639" fill="url(#c61)"/>
<rect x="427.2" y="790.6" width="10.6" height="639" fill="url(#c62)"/>
<rect x="437.2" y="790.6" width="10.6" height="639" fill="url(#c63)"/>
<rect x="447.2" y="790.6" width="10.6" height="639" fill="url(#c64)"/>
<rect x="457.2" y="790.6" width="10.6" height="639" fill="url(#c65)"/>
<rect x="467.2" y="790.6" width="10.6" height="639" fill="url(#c66)"/>
<rect x="477.2" y="790.6" width="10.6" height="639" fill="url(#c67)"/>
<rect x="487.2" y="790.6" width="10.6" height="639" fill="url(#c68)"/>
<rect x="497.2" y="790.6" width="10.6" height="639" fill="url(#c69)"/>
<rect x="507.2" y="790.6" width="10.6" height="639" fill="url(#c70)"/>
<rect x="517.2" y="790.6" width="10.6" height="639" fill="url(#c71)"/>
<rect x="527.2" y="790.6" width="10.6" height="639" fill="url(#c72)"/>
<rect x="537.2" y="790.6" width="10.6" height="639" fill="url(#c73)"/>
<rect x="547.2" y="790.6" width="10.6" height="639" fill="url(#c74)"/>
<rect x="557.2" y="790.6" width="10.6" height="639" fill="url(#c75)"/>
<rect x="567.2" y="790.6" width="10.6" height="639" fill="url(#c76)"/>
<rect x="577.2" y="790.6" width="10.6" height="639" fill="url(#c77)"/>
<rect x="587.2" y="790.6" width="10.6" height="639" fill="url(#c78)"/>
<rect x="597.2" y="790.6" width="10.6" height="639" fill="url(#c79)"/>
<rect x="607.2" y="790.6" width="10.6" height="639" fill="url(#c80)"/>
<rect x="617.2" y="790.6" width="10.6" height="639" fill="url(#c81)"/>
<rect x="627.2" y="790.6" width="10.6" height="639" fill="url(#c82)"/>
<rect x="637.2" y="790.6" width="10.6" height="639" fill="url(#c83)"/>
<rect x="647.2" y="790.6" width="10.6" height="639" fill="url(#c84)"/>
<rect x="657.2" y="790.6" width="10.6" height="639" fill="url(#c85)"/>
<rect x="667.2" y="790.6" width="10.6" height="639" fill="url(#c86)"/>
<rect x="677.2" y="790.6" width="10.6" height="639" fill="url(#c87)"/>
<rect x="687.2" y="790.6" width="10.6" height="639" fill="url(#c88)"/>
<rect x="697.2" y="790.6" width="10.6" height="639" fill="url(#c89)"/>
<rect x="707.2" y="790.6" width="10.6" height="639" fill="url(#c90)"/>
<rect x="717.2" y="790.6" width="10.6" height="639" fill="url(#c91)"/>
<rect x="727.2" y="790.6" width="10.6" height="639" fill="url(#c92)"/>
<rect x="737.2" y="790.6" width="10.6" height="639" fill="url(#c93)"/>
<rect x="747.2" y="790.6" width="10.6" height="639" fill="url(#c94)"/>
<rect x="757.2" y="790.6" width="10.6" height="639" fill="url(#c95)"/>
<rect x="767.2" y="790.6" width="10.6" height="639" fill="url(#c96)"/>
<rect x="777.2" y="790.6" width="10.6" height="639" fill="url(#c97)"/>
<rect x="787.2" y="790.6" width="10.6" height="639" fill="url(#c98)"/>
<rect x="797.2" y="790.6" width="10.6" height="639" fill="url(#c99)"/>
<rect x="807.2" y="790.6" width="10.6" height="639" fill="url(#c100)"/>
<rect x="817.2" y="790.6" width="10.6" height="639" fill="url(#c101)"/>
<rect x="827.2" y="790.6" width="10.6" height="639" fill="url(#c102)"/>
<rect x="837.2" y="790.6" width="10.6" height="639" fill="url(#c103)"/>
<rect x="847.2" y="790.6" width="10.6" height="639" fill="url(#c104)"/>
<rect x="857.2" y="790.6" width="10.6" height="639" fill="url(#c105)"/>
<rect x="867.2" y="790.6" width="10.6" height="639" fill="url(#c106)"/>
<rect x="877.2" y="790.6" width="10.6" height="639" fill="url(#c107)"/>
<rect x="887.2" y="790.6" width="10.6" height="639" fill="url(#c108)"/>
<rect x="897.2" y="790.6" width="10.6" height="639" fill="url(#c109)"/>
<rect x="907.2" y="790.6" width="10.6" height="639" fill="url(#c110)"/>
<rect x="917.2" y="790.6" width="10.6" height="639" fill="url(#c111)"/>
<rect x="927.2" y="790.6" width="10.6" height="639" fill="url(#c112)"/>
<rect x="937.2" y="790.6" width="10.6" height="639" fill="url(#c113)"/>
<rect x="947.2" y="790.6" width="10.6" height="639" fill="url(#c114)"/>
<rect x="957.2" y="790.6" width="10.6" height="639" fill="url(#c115)"/>
<rect x="967.2" y="790.6" width="10.6" height="639" fill="url(#c116)"/>
<rect x="977.2" y="790.6" width="10.6" height="639" fill="url(#c117)"/>
<rect x="987.2" y="790.6" width="10.6" height="639" fill="url(#c118)"/>
<rect x="997.2" y="790.6" width="10.6" height="639" fill="url(#c119)"/>
<rect x="1007.2" y="790.6" width="10.6" height="639" fill="url(#c120)"/>
<rect x="1017.2" y="790.6" width="10.6" height="639" fill="url(#c121)"/>
<rect x="1027.2" y="790.6" width="10.6" height="639" fill="url(#c122)"/>
<rect x="1037.2" y="790.6" width="10.6" height="639" fill="url(#c123)"/>
<rect x="1047.2" y="790.6" width="10.6" height="639" fill="url(#c124)"/>
<rect x="1057.2" y="790.6" width="10.6" height="639" fill="url(#c125)"/>
<rect x="1067.2" y="790.6" width="10.6" height="639" fill="url(#c126)"/>
<rect x="1077.2" y="790.6" width="10.6" height="639" fill="url(#c127)"/>
<rect x="1087.2" y="790.6" width="10.6" height="639" fill="url(#c128)"/>
<rect x="1097.2" y="790.6" width="10.6" height="639" fill="url(#c129)"/>
<rect x="1107.2" y="790.6" width="10.6" height="639" fill="url(#c130)"/>
<rect x="1117.2" y="790.6" width="10.6" height="639" fill="url(#c131)"/>
<rect x="1127.2" y="790.6" width="10.6" height="639" fill="url(#c132)"/>
<rect x="1137.2" y="790.6" width="10.6" height="639" fill="url(#c133)"/>
<rect x="1147.2" y="790.6" width="10.6" height="639" fill="url(#c134)"/>
<rect x="1157.2" y="790.6" width="10.6" height="639" fill="url(#c135)"/>
<rect x="1167.2" y="790.6" width="10.6" height="639" fill="url(#c136)"/>
<rect x="1177.2" y="790.6" width="10.6" height="639" fill="url(#c137)"/>
<rect x="1187.2" y="790.6" width="10.6" height="639" fill="url(#c138)"/>
<rect x="1197.2" y="790.6" width="10.6" height="639" fill="url(#c139)"/>
<rect x="1207.2" y="790.6" width="10.6" height="639" fill="url(#c140)"/>
<rect x="1217.2" y="790.6" width="10.6" height="639" fill="url(#c141)"/>
<rect x="1227.2" y="790.6" width="10.6" height="639" fill="url(#c142)"/>
<rect x="1237.2" y="790.6" width="10.6" height="639" fill="url(#c143)"/>
<rect x="1247.2" y="790.6" width="10.6" height="639" fill="url(#c144)"/>
<rect x="1257.2" y="790.6" width="10.6" height="639" fill="url(#c145)"/>
<rect x="1267.2" y="790.6" width="10.6" height="639" fill="url(#c146)"/>
<rect x="1277.2" y="790.6" width="10.6" height="639" fill="url(#c147)"/>
<rect x="1287.2" y="790.6" width="10.6" height="639" fill="url(#c148)"/>
<rect x="1297.2" y="790.6" width="10.6" height="639" fill="url(#c149)"/>
<rect x="1307.2" y="790.6" width="10.6" height="639" fill="url(#c150)"/>
<rect x="1317.2" y="790.6" width="10.6" height="639" fill="url(#c151)"/>
<rect x="1327.2" y="790.6" width="10.6" height="639" fill="url(#c152)"/>
<rect x="1337.2" y="790.6" width="10.6" height="639" fill="url(#c153)"/>
<rect x="1347.2" y="790.6" width="10.6" height="639" fill="url(#c154)"/>
<rect x="1357.2" y="790.6" width="10.6" height="639" fill="url(#c155)"/>
<rect x="1367.2" y="790.6" width="10.6" height="639" fill="url(#c156)"/>
<rect x="1377.2" y="790.6" width="10.6" height="639" fill="url(#c157)"/>
<rect x="1387.2" y="790.6" width="10.6" height="639" fill="url(#c158)"/>
<rect x="1397.2" y="790.6" width="10.6" height="639" fill="url(#c159)"/>
<rect x="1407.2" y="790.6" width="10.6" height="639" fill="url(#c160)"/>
<rect x="1417.2" y="790.6" width="10.6" height="639" fill="url(#c161)"/>
<rect x="1427.2" y="790.6" width="10.6" height="639" fill="url(#c162)"/>
<rect x="1437.2" y="790.6" width="10.6" height="639" fill="url(#c163)"/>
<rect x="1447.2" y="790.6" width="10.6" height="639" fill="url(#c164)"/>
<rect x="1457.2" y="790.6" width="10.6" height="639" fill="url(#c165)"/>
<rect x="1467.2" y="790.6" width="10.6" height="639" fill="url(#c166)"/>
<rect x="1477.2" y="790.6" width="10.6" height="639" fill="url(#c167)"/>
<rect x="1487.2" y="790.6" width="10.6" height="639" fill="url(#c168)"/>
<rect x="1497.2" y="790.6" width="10.6" height="639" fill="url(#c169)"/>
<rect x="1507.2" y="790.6" width="10.6" height="639" fill="url(#c170)"/>
<rect x="1517.2" y="790.6" width="10.6" height="639" fill="url(#c171)"/>
<rect x="1527.2" y="790.6" width="10.6" height="639" fill="url(#c172)"/>
<rect x="1537.2" y="790.6" width="10.6" height="639" fill="url(#c173)"/>
<rect x="1547.2" y="790.6" width="10.6" height="639" fill="url(#c174)"/>
<rect x="1557.2" y="790.6" width="10.6" height="639" fill="url(#c175)"/>
<rect x="1567.2" y="790.6" width="10.6" height="639" fill="url(#c176)"/>
<rect x="1577.2" y="790.6" width="10.6" height="639" fill="url(#c177)"/>
<rect x="1587.2" y="790.6" width="10.6" height="639" fill="url(#c178)"/>
<rect x="1597.2" y="790.6" width="10.6" height="639" fill="url(#c179)"/>
<rect x="1607.2" y="790.6" width="10.6" height="639" fill="url(#c180)"/>
<rect x="1617.2" y="790.6" width="10.6" height="639" fill="url(#c181)"/>
<rect x="1627.2" y="790.6" width="10.6" height="639" fill="url(#c182)"/>
<rect x="1637.2" y="790.6" width="10.6" height="639" fill="url(#c183)"/>
<rect x="1647.2" y="790.6" width="10.6" height="639" fill="url(#c184)"/>
<rect x="1657.2" y="790.6" width="10.6" height="639" fill="url(#c185)"/>
<rect x="1667.2" y="790.6" width="10.6" height="639" fill="url(#c186)"/>
<rect x="1677.2" y="790.6" width="10.6" height="639" fill="url(#c187)"/>
<rect x="1687.2" y="790.6" width="10.6" height="639" fill="url(#c188)"/>
<rect x="1697.2" y="790.6" width="10.6" height="639" fill="url(#c189)"/>
<rect x="1707.2" y="790.6" width="10.6" height="639" fill="url(#c190)"/>
<rect x="1717.2" y="790.6" width="10.6" height="639" fill="url(#c191)"/>
<rect x="1727.2" y="790.6" width="10.6" height="639" fill="url(#c192)"/>
<rect x="1737.2" y="790.6" width="10.6" height="639" fill="url(#c193)"/></g></g><rect x="308.2" y="791.6" width="1415.8" height="637" fill="none" stroke="#10083a" stroke-opacity=".28" stroke-width="2"/>
<rect x="1766.3" y="790.6" width="56.4" height="638.3" fill="url(#cb)" stroke="#333" stroke-width="1.6"/><path d="M1817.7 1111.2H1822.7" stroke="#333" stroke-width="1.6"/>
</g>
<g id="labels">
<text x="28" y="100.3" font-size="84" text-anchor="start" font-family="'Liberation Serif', 'Times New Roman', serif" style="fill:#000;stroke:none">(a)</text>
<text x="28" y="795.5" font-size="84" text-anchor="start" font-family="'Liberation Serif', 'Times New Roman', serif" style="fill:#000;stroke:none">(b)</text>
<text x="287" y="86" font-size="71" text-anchor="end" font-family="'Liberation Sans', Arial, Helvetica, sans-serif" >1</text>
<text x="291" y="407" font-size="71" text-anchor="end" font-family="'Liberation Sans', Arial, Helvetica, sans-serif" >0</text>
<text x="287" y="728.5" font-size="71" text-anchor="end" font-family="'Liberation Sans', Arial, Helvetica, sans-serif" >−1</text>
<text x="284" y="818.4" font-size="71" text-anchor="end" font-family="'Liberation Sans', Arial, Helvetica, sans-serif" >350</text>
<text x="284" y="925" font-size="71" text-anchor="end" font-family="'Liberation Sans', Arial, Helvetica, sans-serif" >300</text>
<text x="284" y="1031.5" font-size="71" text-anchor="end" font-family="'Liberation Sans', Arial, Helvetica, sans-serif" >250</text>
<text x="284" y="1138.5" font-size="71" text-anchor="end" font-family="'Liberation Sans', Arial, Helvetica, sans-serif" >200</text>
<text x="284" y="1244.6" font-size="71" text-anchor="end" font-family="'Liberation Sans', Arial, Helvetica, sans-serif" >150</text>
<text x="284" y="1351" font-size="71" text-anchor="end" font-family="'Liberation Sans', Arial, Helvetica, sans-serif" >100</text>
<text x="284" y="1458.5" font-size="71" text-anchor="end" font-family="'Liberation Sans', Arial, Helvetica, sans-serif" >50</text>
<text x="307.3" y="1523.8" font-size="71" text-anchor="middle" font-family="'Liberation Sans', Arial, Helvetica, sans-serif" >0</text>
<text x="645" y="1523.8" font-size="71" text-anchor="middle" font-family="'Liberation Sans', Arial, Helvetica, sans-serif" >1000</text>
<text x="981" y="1523.8" font-size="71" text-anchor="middle" font-family="'Liberation Sans', Arial, Helvetica, sans-serif" >2000</text>
<text x="1319" y="1523.8" font-size="71" text-anchor="middle" font-family="'Liberation Sans', Arial, Helvetica, sans-serif" >3000</text>
<text x="1655.5" y="1523.8" font-size="71" text-anchor="middle" font-family="'Liberation Sans', Arial, Helvetica, sans-serif" >4000</text>
<text x="1016" y="1624" font-size="79.5" text-anchor="middle" font-family="'Liberation Sans', Arial, Helvetica, sans-serif" >x (m)</text>
<text x="1841" y="815" font-size="64" text-anchor="start" font-family="'Liberation Sans', Arial, Helvetica, sans-serif" >1</text>
<text x="1841" y="1135.5" font-size="64" text-anchor="start" font-family="'Liberation Sans', Arial, Helvetica, sans-serif" >0.5</text>
<text x="1841.5" y="1454.5" font-size="64" text-anchor="start" font-family="'Liberation Sans', Arial, Helvetica, sans-serif" >0</text>
<text transform="translate(194,382) rotate(-90)" font-size="79.5" text-anchor="middle" font-family="'Liberation Sans', Arial, Helvetica, sans-serif"><tspan font-family="'Liberation Serif', 'Times New Roman', serif" font-style="italic" font-size="87">η</tspan> (m)</text>
<text transform="translate(136.5,1108.5) rotate(-90)" font-size="79.5" text-anchor="middle" font-family="'Liberation Sans', Arial, Helvetica, sans-serif">λ (m)</text>
</g>
</svg>
</body></html>
